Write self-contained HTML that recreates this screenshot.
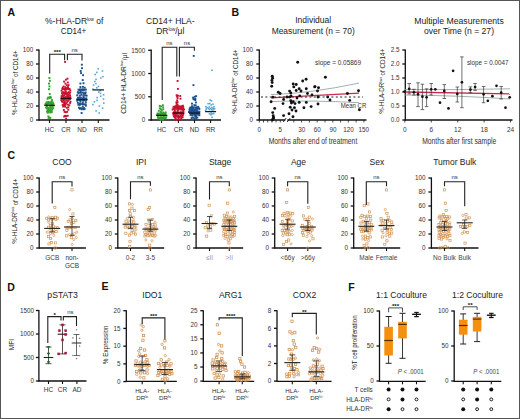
<!DOCTYPE html><html><head><meta charset="utf-8"><style>html,body{margin:0;padding:0;background:#fff;width:520px;height:419px;overflow:hidden}</style></head><body><svg width="520" height="419" viewBox="0 0 520 419" style="display:block">
<rect x="0" y="0" width="520" height="419" fill="#fff"/>
<g font-family='"Liberation Sans", sans-serif'>
<text x="7.50" y="15.80" font-size="10.5" text-anchor="start" fill="#111" font-weight="bold" >A</text>
<text x="231.50" y="16.10" font-size="10.5" text-anchor="start" fill="#111" font-weight="bold" >B</text>
<text x="7.50" y="158.50" font-size="10.5" text-anchor="start" fill="#111" font-weight="bold" >C</text>
<text x="7.20" y="290.60" font-size="10.5" text-anchor="start" fill="#111" font-weight="bold" >D</text>
<text x="101.50" y="290.20" font-size="10.5" text-anchor="start" fill="#111" font-weight="bold" >E</text>
<text x="348.20" y="290.80" font-size="10.5" text-anchor="start" fill="#111" font-weight="bold" >F</text>
<text x="74.20" y="24.10" font-size="8.5" text-anchor="middle" fill="#222" >%-HLA-DR<tspan font-size="4.5" dy="-3">low</tspan><tspan dy="3"> of</tspan></text>
<text x="73.60" y="33.60" font-size="8.5" text-anchor="middle" fill="#222" textLength="25.5" lengthAdjust="spacingAndGlyphs" >CD14+</text>
<text x="0" y="0" font-size="7.4" text-anchor="middle" fill="#222" transform="translate(14.60,82.70) rotate(-90)" textLength="64.5" lengthAdjust="spacingAndGlyphs" dominant-baseline="central">%-HLA-DR<tspan font-size="4.4" dy="-2.2">low</tspan><tspan dy="2.2"> of CD14+</tspan></text>
<line x1="39.00" y1="49.50" x2="39.00" y2="120.50" stroke="#111" stroke-width="1.3" />
<line x1="36.00" y1="120.00" x2="39.00" y2="120.00" stroke="#111" stroke-width="1.3" />
<text x="33.20" y="122.30" font-size="6.3" text-anchor="end" fill="#333" >0</text>
<line x1="36.00" y1="106.00" x2="39.00" y2="106.00" stroke="#111" stroke-width="1.3" />
<text x="33.20" y="108.30" font-size="6.3" text-anchor="end" fill="#333" >20</text>
<line x1="36.00" y1="92.00" x2="39.00" y2="92.00" stroke="#111" stroke-width="1.3" />
<text x="33.20" y="94.30" font-size="6.3" text-anchor="end" fill="#333" >40</text>
<line x1="36.00" y1="78.00" x2="39.00" y2="78.00" stroke="#111" stroke-width="1.3" />
<text x="33.20" y="80.30" font-size="6.3" text-anchor="end" fill="#333" >60</text>
<line x1="36.00" y1="64.00" x2="39.00" y2="64.00" stroke="#111" stroke-width="1.3" />
<text x="33.20" y="66.30" font-size="6.3" text-anchor="end" fill="#333" >80</text>
<line x1="36.00" y1="50.00" x2="39.00" y2="50.00" stroke="#111" stroke-width="1.3" />
<text x="33.20" y="52.30" font-size="6.3" text-anchor="end" fill="#333" >100</text>
<line x1="38.50" y1="120.00" x2="109.50" y2="120.00" stroke="#111" stroke-width="1.3" />
<line x1="49.50" y1="120.00" x2="49.50" y2="123.00" stroke="#111" stroke-width="1.1" />
<line x1="66.00" y1="120.00" x2="66.00" y2="123.00" stroke="#111" stroke-width="1.1" />
<line x1="82.00" y1="120.00" x2="82.00" y2="123.00" stroke="#111" stroke-width="1.1" />
<line x1="98.30" y1="120.00" x2="98.30" y2="123.00" stroke="#111" stroke-width="1.1" />
<text x="49.50" y="132.20" font-size="6.5" text-anchor="middle" fill="#333" >HC</text>
<text x="66.00" y="132.20" font-size="6.5" text-anchor="middle" fill="#333" >CR</text>
<text x="82.00" y="132.20" font-size="6.5" text-anchor="middle" fill="#333" >ND</text>
<text x="98.30" y="132.20" font-size="6.5" text-anchor="middle" fill="#333" >RR</text>
<rect x="48.45" y="77.05" width="1.90" height="1.90" fill="#33a02c"/>
<rect x="48.93" y="79.85" width="1.90" height="1.90" fill="#33a02c"/>
<rect x="48.03" y="82.65" width="1.90" height="1.90" fill="#33a02c"/>
<rect x="48.53" y="85.45" width="1.90" height="1.90" fill="#33a02c"/>
<rect x="48.00" y="88.25" width="1.90" height="1.90" fill="#33a02c"/>
<rect x="48.85" y="93.03" width="1.90" height="1.90" fill="#33a02c"/>
<rect x="49.26" y="95.91" width="1.90" height="1.90" fill="#33a02c"/>
<rect x="47.37" y="96.50" width="1.90" height="1.90" fill="#33a02c"/>
<rect x="50.02" y="96.67" width="1.90" height="1.90" fill="#33a02c"/>
<rect x="48.60" y="97.27" width="1.90" height="1.90" fill="#33a02c"/>
<rect x="46.56" y="97.79" width="1.90" height="1.90" fill="#33a02c"/>
<rect x="51.04" y="99.06" width="1.90" height="1.90" fill="#33a02c"/>
<rect x="50.46" y="100.63" width="1.90" height="1.90" fill="#33a02c"/>
<rect x="47.82" y="101.15" width="1.90" height="1.90" fill="#33a02c"/>
<rect x="45.84" y="101.40" width="1.90" height="1.90" fill="#33a02c"/>
<rect x="49.33" y="101.47" width="1.90" height="1.90" fill="#33a02c"/>
<rect x="51.92" y="101.51" width="1.90" height="1.90" fill="#33a02c"/>
<rect x="46.91" y="101.56" width="1.90" height="1.90" fill="#33a02c"/>
<rect x="50.87" y="101.57" width="1.90" height="1.90" fill="#33a02c"/>
<rect x="48.36" y="102.06" width="1.90" height="1.90" fill="#33a02c"/>
<rect x="50.09" y="102.08" width="1.90" height="1.90" fill="#33a02c"/>
<rect x="45.12" y="102.29" width="1.90" height="1.90" fill="#33a02c"/>
<rect x="46.26" y="102.29" width="1.90" height="1.90" fill="#33a02c"/>
<rect x="52.42" y="102.89" width="1.90" height="1.90" fill="#33a02c"/>
<rect x="47.40" y="102.91" width="1.90" height="1.90" fill="#33a02c"/>
<rect x="49.26" y="103.31" width="1.90" height="1.90" fill="#33a02c"/>
<rect x="51.02" y="103.31" width="1.90" height="1.90" fill="#33a02c"/>
<rect x="44.50" y="103.34" width="1.90" height="1.90" fill="#33a02c"/>
<rect x="46.05" y="103.75" width="1.90" height="1.90" fill="#33a02c"/>
<rect x="52.65" y="104.71" width="1.90" height="1.90" fill="#33a02c"/>
<rect x="45.97" y="105.37" width="1.90" height="1.90" fill="#33a02c"/>
<rect x="49.23" y="105.79" width="1.90" height="1.90" fill="#33a02c"/>
<rect x="51.21" y="105.79" width="1.90" height="1.90" fill="#33a02c"/>
<rect x="45.02" y="106.54" width="1.90" height="1.90" fill="#33a02c"/>
<rect x="47.08" y="106.63" width="1.90" height="1.90" fill="#33a02c"/>
<rect x="50.26" y="106.84" width="1.90" height="1.90" fill="#33a02c"/>
<rect x="52.25" y="107.26" width="1.90" height="1.90" fill="#33a02c"/>
<rect x="48.63" y="107.30" width="1.90" height="1.90" fill="#33a02c"/>
<rect x="46.01" y="107.46" width="1.90" height="1.90" fill="#33a02c"/>
<rect x="47.42" y="108.18" width="1.90" height="1.90" fill="#33a02c"/>
<rect x="51.31" y="108.33" width="1.90" height="1.90" fill="#33a02c"/>
<rect x="49.47" y="108.69" width="1.90" height="1.90" fill="#33a02c"/>
<rect x="46.69" y="109.39" width="1.90" height="1.90" fill="#33a02c"/>
<rect x="48.20" y="109.55" width="1.90" height="1.90" fill="#33a02c"/>
<rect x="50.83" y="109.68" width="1.90" height="1.90" fill="#33a02c"/>
<rect x="49.42" y="110.23" width="1.90" height="1.90" fill="#33a02c"/>
<rect x="46.09" y="110.71" width="1.90" height="1.90" fill="#33a02c"/>
<rect x="47.50" y="110.77" width="1.90" height="1.90" fill="#33a02c"/>
<rect x="50.73" y="111.28" width="1.90" height="1.90" fill="#33a02c"/>
<rect x="49.19" y="111.56" width="1.90" height="1.90" fill="#33a02c"/>
<rect x="46.87" y="111.75" width="1.90" height="1.90" fill="#33a02c"/>
<rect x="47.43" y="115.48" width="1.90" height="1.90" fill="#33a02c"/>
<rect x="48.39" y="116.71" width="1.90" height="1.90" fill="#33a02c"/>
<rect x="49.37" y="116.89" width="1.90" height="1.90" fill="#33a02c"/>
<rect x="47.72" y="117.26" width="1.90" height="1.90" fill="#33a02c"/>
<rect x="64.12" y="60.95" width="1.90" height="1.90" fill="#c8102e"/>
<rect x="66.59" y="77.69" width="1.90" height="1.90" fill="#c8102e"/>
<rect x="64.98" y="78.74" width="1.90" height="1.90" fill="#c8102e"/>
<rect x="63.12" y="80.63" width="1.90" height="1.90" fill="#c8102e"/>
<rect x="66.89" y="81.50" width="1.90" height="1.90" fill="#c8102e"/>
<rect x="64.51" y="82.66" width="1.90" height="1.90" fill="#c8102e"/>
<rect x="67.58" y="84.17" width="1.90" height="1.90" fill="#c8102e"/>
<rect x="65.83" y="84.19" width="1.90" height="1.90" fill="#c8102e"/>
<rect x="62.70" y="85.52" width="1.90" height="1.90" fill="#c8102e"/>
<rect x="67.09" y="86.13" width="1.90" height="1.90" fill="#c8102e"/>
<rect x="64.37" y="86.19" width="1.90" height="1.90" fill="#c8102e"/>
<rect x="61.77" y="86.67" width="1.90" height="1.90" fill="#c8102e"/>
<rect x="65.50" y="87.11" width="1.90" height="1.90" fill="#c8102e"/>
<rect x="67.11" y="87.66" width="1.90" height="1.90" fill="#c8102e"/>
<rect x="63.50" y="87.84" width="1.90" height="1.90" fill="#c8102e"/>
<rect x="68.65" y="87.93" width="1.90" height="1.90" fill="#c8102e"/>
<rect x="61.35" y="87.95" width="1.90" height="1.90" fill="#c8102e"/>
<rect x="64.59" y="88.00" width="1.90" height="1.90" fill="#c8102e"/>
<rect x="66.07" y="88.18" width="1.90" height="1.90" fill="#c8102e"/>
<rect x="62.45" y="88.19" width="1.90" height="1.90" fill="#c8102e"/>
<rect x="67.84" y="88.31" width="1.90" height="1.90" fill="#c8102e"/>
<rect x="63.91" y="88.93" width="1.90" height="1.90" fill="#c8102e"/>
<rect x="69.36" y="89.51" width="1.90" height="1.90" fill="#c8102e"/>
<rect x="60.68" y="89.84" width="1.90" height="1.90" fill="#c8102e"/>
<rect x="64.97" y="90.39" width="1.90" height="1.90" fill="#c8102e"/>
<rect x="67.78" y="91.13" width="1.90" height="1.90" fill="#c8102e"/>
<rect x="62.14" y="91.25" width="1.90" height="1.90" fill="#c8102e"/>
<rect x="63.64" y="91.37" width="1.90" height="1.90" fill="#c8102e"/>
<rect x="69.23" y="91.56" width="1.90" height="1.90" fill="#c8102e"/>
<rect x="65.04" y="92.06" width="1.90" height="1.90" fill="#c8102e"/>
<rect x="66.79" y="92.15" width="1.90" height="1.90" fill="#c8102e"/>
<rect x="60.96" y="92.25" width="1.90" height="1.90" fill="#c8102e"/>
<rect x="62.79" y="92.39" width="1.90" height="1.90" fill="#c8102e"/>
<rect x="68.40" y="92.82" width="1.90" height="1.90" fill="#c8102e"/>
<rect x="64.07" y="93.05" width="1.90" height="1.90" fill="#c8102e"/>
<rect x="65.61" y="93.25" width="1.90" height="1.90" fill="#c8102e"/>
<rect x="61.67" y="94.06" width="1.90" height="1.90" fill="#c8102e"/>
<rect x="67.14" y="94.09" width="1.90" height="1.90" fill="#c8102e"/>
<rect x="63.15" y="94.35" width="1.90" height="1.90" fill="#c8102e"/>
<rect x="69.09" y="94.42" width="1.90" height="1.90" fill="#c8102e"/>
<rect x="60.62" y="95.10" width="1.90" height="1.90" fill="#c8102e"/>
<rect x="66.13" y="95.13" width="1.90" height="1.90" fill="#c8102e"/>
<rect x="67.81" y="95.52" width="1.90" height="1.90" fill="#c8102e"/>
<rect x="62.14" y="95.56" width="1.90" height="1.90" fill="#c8102e"/>
<rect x="64.46" y="95.70" width="1.90" height="1.90" fill="#c8102e"/>
<rect x="69.29" y="96.19" width="1.90" height="1.90" fill="#c8102e"/>
<rect x="66.77" y="96.32" width="1.90" height="1.90" fill="#c8102e"/>
<rect x="60.63" y="96.82" width="1.90" height="1.90" fill="#c8102e"/>
<rect x="63.17" y="96.86" width="1.90" height="1.90" fill="#c8102e"/>
<rect x="64.66" y="97.24" width="1.90" height="1.90" fill="#c8102e"/>
<rect x="68.02" y="97.30" width="1.90" height="1.90" fill="#c8102e"/>
<rect x="66.41" y="97.78" width="1.90" height="1.90" fill="#c8102e"/>
<rect x="69.22" y="98.08" width="1.90" height="1.90" fill="#c8102e"/>
<rect x="61.39" y="98.09" width="1.90" height="1.90" fill="#c8102e"/>
<rect x="62.73" y="98.19" width="1.90" height="1.90" fill="#c8102e"/>
<rect x="64.02" y="98.52" width="1.90" height="1.90" fill="#c8102e"/>
<rect x="67.88" y="98.92" width="1.90" height="1.90" fill="#c8102e"/>
<rect x="60.36" y="99.08" width="1.90" height="1.90" fill="#c8102e"/>
<rect x="65.83" y="99.28" width="1.90" height="1.90" fill="#c8102e"/>
<rect x="62.25" y="99.30" width="1.90" height="1.90" fill="#c8102e"/>
<rect x="66.82" y="100.27" width="1.90" height="1.90" fill="#c8102e"/>
<rect x="63.84" y="100.28" width="1.90" height="1.90" fill="#c8102e"/>
<rect x="60.94" y="100.58" width="1.90" height="1.90" fill="#c8102e"/>
<rect x="69.53" y="100.66" width="1.90" height="1.90" fill="#c8102e"/>
<rect x="62.16" y="101.30" width="1.90" height="1.90" fill="#c8102e"/>
<rect x="65.85" y="101.43" width="1.90" height="1.90" fill="#c8102e"/>
<rect x="63.71" y="101.68" width="1.90" height="1.90" fill="#c8102e"/>
<rect x="69.17" y="102.01" width="1.90" height="1.90" fill="#c8102e"/>
<rect x="64.94" y="102.54" width="1.90" height="1.90" fill="#c8102e"/>
<rect x="63.19" y="103.04" width="1.90" height="1.90" fill="#c8102e"/>
<rect x="67.04" y="103.67" width="1.90" height="1.90" fill="#c8102e"/>
<rect x="64.52" y="103.92" width="1.90" height="1.90" fill="#c8102e"/>
<rect x="61.75" y="104.03" width="1.90" height="1.90" fill="#c8102e"/>
<rect x="68.35" y="104.38" width="1.90" height="1.90" fill="#c8102e"/>
<rect x="63.18" y="104.49" width="1.90" height="1.90" fill="#c8102e"/>
<rect x="62.16" y="105.57" width="1.90" height="1.90" fill="#c8102e"/>
<rect x="64.12" y="105.67" width="1.90" height="1.90" fill="#c8102e"/>
<rect x="67.38" y="106.34" width="1.90" height="1.90" fill="#c8102e"/>
<rect x="65.87" y="106.80" width="1.90" height="1.90" fill="#c8102e"/>
<rect x="67.39" y="108.74" width="1.90" height="1.90" fill="#c8102e"/>
<rect x="62.90" y="109.02" width="1.90" height="1.90" fill="#c8102e"/>
<rect x="63.61" y="110.89" width="1.90" height="1.90" fill="#c8102e"/>
<rect x="66.15" y="110.90" width="1.90" height="1.90" fill="#c8102e"/>
<rect x="64.83" y="111.28" width="1.90" height="1.90" fill="#c8102e"/>
<rect x="66.75" y="114.81" width="1.90" height="1.90" fill="#c8102e"/>
<rect x="64.04" y="114.90" width="1.90" height="1.90" fill="#c8102e"/>
<rect x="65.16" y="115.03" width="1.90" height="1.90" fill="#c8102e"/>
<rect x="63.18" y="115.60" width="1.90" height="1.90" fill="#c8102e"/>
<rect x="65.12" y="117.64" width="1.90" height="1.90" fill="#c8102e"/>
<rect x="80.90" y="63.75" width="1.90" height="1.90" fill="#1c4f8c"/>
<rect x="81.06" y="67.25" width="1.90" height="1.90" fill="#1c4f8c"/>
<rect x="79.76" y="70.05" width="1.90" height="1.90" fill="#1c4f8c"/>
<rect x="80.08" y="72.15" width="1.90" height="1.90" fill="#1c4f8c"/>
<rect x="82.12" y="74.25" width="1.90" height="1.90" fill="#1c4f8c"/>
<rect x="81.80" y="79.13" width="1.90" height="1.90" fill="#1c4f8c"/>
<rect x="82.56" y="82.24" width="1.90" height="1.90" fill="#1c4f8c"/>
<rect x="79.44" y="82.57" width="1.90" height="1.90" fill="#1c4f8c"/>
<rect x="81.99" y="85.85" width="1.90" height="1.90" fill="#1c4f8c"/>
<rect x="79.50" y="86.11" width="1.90" height="1.90" fill="#1c4f8c"/>
<rect x="83.74" y="86.76" width="1.90" height="1.90" fill="#1c4f8c"/>
<rect x="82.02" y="88.40" width="1.90" height="1.90" fill="#1c4f8c"/>
<rect x="78.98" y="88.48" width="1.90" height="1.90" fill="#1c4f8c"/>
<rect x="80.50" y="88.55" width="1.90" height="1.90" fill="#1c4f8c"/>
<rect x="84.92" y="88.64" width="1.90" height="1.90" fill="#1c4f8c"/>
<rect x="77.52" y="88.72" width="1.90" height="1.90" fill="#1c4f8c"/>
<rect x="83.38" y="88.90" width="1.90" height="1.90" fill="#1c4f8c"/>
<rect x="79.65" y="88.94" width="1.90" height="1.90" fill="#1c4f8c"/>
<rect x="81.38" y="88.96" width="1.90" height="1.90" fill="#1c4f8c"/>
<rect x="78.38" y="89.25" width="1.90" height="1.90" fill="#1c4f8c"/>
<rect x="82.49" y="89.30" width="1.90" height="1.90" fill="#1c4f8c"/>
<rect x="79.71" y="90.48" width="1.90" height="1.90" fill="#1c4f8c"/>
<rect x="76.88" y="91.22" width="1.90" height="1.90" fill="#1c4f8c"/>
<rect x="84.71" y="91.46" width="1.90" height="1.90" fill="#1c4f8c"/>
<rect x="81.85" y="91.57" width="1.90" height="1.90" fill="#1c4f8c"/>
<rect x="78.64" y="91.65" width="1.90" height="1.90" fill="#1c4f8c"/>
<rect x="80.12" y="91.83" width="1.90" height="1.90" fill="#1c4f8c"/>
<rect x="83.19" y="92.20" width="1.90" height="1.90" fill="#1c4f8c"/>
<rect x="77.52" y="92.40" width="1.90" height="1.90" fill="#1c4f8c"/>
<rect x="84.34" y="92.57" width="1.90" height="1.90" fill="#1c4f8c"/>
<rect x="80.47" y="93.84" width="1.90" height="1.90" fill="#1c4f8c"/>
<rect x="82.68" y="93.92" width="1.90" height="1.90" fill="#1c4f8c"/>
<rect x="76.24" y="94.33" width="1.90" height="1.90" fill="#1c4f8c"/>
<rect x="84.27" y="94.49" width="1.90" height="1.90" fill="#1c4f8c"/>
<rect x="78.94" y="94.67" width="1.90" height="1.90" fill="#1c4f8c"/>
<rect x="85.69" y="94.70" width="1.90" height="1.90" fill="#1c4f8c"/>
<rect x="82.48" y="95.50" width="1.90" height="1.90" fill="#1c4f8c"/>
<rect x="78.64" y="96.44" width="1.90" height="1.90" fill="#1c4f8c"/>
<rect x="76.92" y="96.76" width="1.90" height="1.90" fill="#1c4f8c"/>
<rect x="80.22" y="96.79" width="1.90" height="1.90" fill="#1c4f8c"/>
<rect x="82.99" y="96.84" width="1.90" height="1.90" fill="#1c4f8c"/>
<rect x="85.36" y="97.34" width="1.90" height="1.90" fill="#1c4f8c"/>
<rect x="81.68" y="97.59" width="1.90" height="1.90" fill="#1c4f8c"/>
<rect x="77.98" y="97.65" width="1.90" height="1.90" fill="#1c4f8c"/>
<rect x="83.86" y="98.01" width="1.90" height="1.90" fill="#1c4f8c"/>
<rect x="79.34" y="98.09" width="1.90" height="1.90" fill="#1c4f8c"/>
<rect x="76.51" y="98.16" width="1.90" height="1.90" fill="#1c4f8c"/>
<rect x="82.65" y="98.45" width="1.90" height="1.90" fill="#1c4f8c"/>
<rect x="80.68" y="98.66" width="1.90" height="1.90" fill="#1c4f8c"/>
<rect x="85.34" y="98.84" width="1.90" height="1.90" fill="#1c4f8c"/>
<rect x="78.22" y="98.91" width="1.90" height="1.90" fill="#1c4f8c"/>
<rect x="83.70" y="99.20" width="1.90" height="1.90" fill="#1c4f8c"/>
<rect x="79.52" y="99.26" width="1.90" height="1.90" fill="#1c4f8c"/>
<rect x="76.24" y="99.72" width="1.90" height="1.90" fill="#1c4f8c"/>
<rect x="82.17" y="99.79" width="1.90" height="1.90" fill="#1c4f8c"/>
<rect x="79.41" y="100.84" width="1.90" height="1.90" fill="#1c4f8c"/>
<rect x="84.84" y="101.17" width="1.90" height="1.90" fill="#1c4f8c"/>
<rect x="81.86" y="101.79" width="1.90" height="1.90" fill="#1c4f8c"/>
<rect x="76.89" y="101.83" width="1.90" height="1.90" fill="#1c4f8c"/>
<rect x="78.40" y="102.77" width="1.90" height="1.90" fill="#1c4f8c"/>
<rect x="80.01" y="103.08" width="1.90" height="1.90" fill="#1c4f8c"/>
<rect x="81.67" y="103.18" width="1.90" height="1.90" fill="#1c4f8c"/>
<rect x="84.69" y="103.30" width="1.90" height="1.90" fill="#1c4f8c"/>
<rect x="83.08" y="103.43" width="1.90" height="1.90" fill="#1c4f8c"/>
<rect x="77.36" y="103.76" width="1.90" height="1.90" fill="#1c4f8c"/>
<rect x="78.86" y="103.97" width="1.90" height="1.90" fill="#1c4f8c"/>
<rect x="84.90" y="104.77" width="1.90" height="1.90" fill="#1c4f8c"/>
<rect x="81.83" y="105.58" width="1.90" height="1.90" fill="#1c4f8c"/>
<rect x="78.02" y="106.72" width="1.90" height="1.90" fill="#1c4f8c"/>
<rect x="83.10" y="107.11" width="1.90" height="1.90" fill="#1c4f8c"/>
<rect x="80.00" y="107.15" width="1.90" height="1.90" fill="#1c4f8c"/>
<rect x="81.78" y="107.58" width="1.90" height="1.90" fill="#1c4f8c"/>
<rect x="78.82" y="107.81" width="1.90" height="1.90" fill="#1c4f8c"/>
<rect x="83.71" y="107.94" width="1.90" height="1.90" fill="#1c4f8c"/>
<rect x="80.69" y="108.34" width="1.90" height="1.90" fill="#1c4f8c"/>
<rect x="82.64" y="108.35" width="1.90" height="1.90" fill="#1c4f8c"/>
<rect x="80.65" y="112.04" width="1.90" height="1.90" fill="#1c4f8c"/>
<rect x="97.47" y="68.10" width="1.60" height="1.60" fill="#53a7dc"/>
<rect x="101.69" y="70.20" width="1.60" height="1.60" fill="#53a7dc"/>
<rect x="95.99" y="71.60" width="1.60" height="1.60" fill="#53a7dc"/>
<rect x="94.37" y="73.70" width="1.60" height="1.60" fill="#53a7dc"/>
<rect x="102.18" y="75.80" width="1.60" height="1.60" fill="#53a7dc"/>
<rect x="100.05" y="77.20" width="1.60" height="1.60" fill="#53a7dc"/>
<rect x="95.23" y="78.60" width="1.60" height="1.60" fill="#53a7dc"/>
<rect x="93.95" y="80.70" width="1.60" height="1.60" fill="#53a7dc"/>
<rect x="95.14" y="82.80" width="1.60" height="1.60" fill="#53a7dc"/>
<rect x="92.76" y="84.20" width="1.60" height="1.60" fill="#53a7dc"/>
<rect x="97.60" y="85.60" width="1.60" height="1.60" fill="#53a7dc"/>
<rect x="95.99" y="87.00" width="1.60" height="1.60" fill="#53a7dc"/>
<rect x="92.12" y="88.40" width="1.60" height="1.60" fill="#53a7dc"/>
<rect x="99.57" y="89.80" width="1.60" height="1.60" fill="#53a7dc"/>
<rect x="97.98" y="91.20" width="1.60" height="1.60" fill="#53a7dc"/>
<rect x="99.59" y="92.60" width="1.60" height="1.60" fill="#53a7dc"/>
<rect x="102.81" y="94.00" width="1.60" height="1.60" fill="#53a7dc"/>
<rect x="99.90" y="95.40" width="1.60" height="1.60" fill="#53a7dc"/>
<rect x="96.39" y="96.80" width="1.60" height="1.60" fill="#53a7dc"/>
<rect x="102.70" y="98.20" width="1.60" height="1.60" fill="#53a7dc"/>
<rect x="96.26" y="99.60" width="1.60" height="1.60" fill="#53a7dc"/>
<rect x="93.57" y="101.00" width="1.60" height="1.60" fill="#53a7dc"/>
<rect x="102.98" y="102.40" width="1.60" height="1.60" fill="#53a7dc"/>
<rect x="92.06" y="103.80" width="1.60" height="1.60" fill="#53a7dc"/>
<rect x="98.58" y="105.20" width="1.60" height="1.60" fill="#53a7dc"/>
<rect x="101.77" y="107.30" width="1.60" height="1.60" fill="#53a7dc"/>
<rect x="95.30" y="110.10" width="1.60" height="1.60" fill="#53a7dc"/>
<rect x="98.37" y="112.20" width="1.60" height="1.60" fill="#53a7dc"/>
<line x1="44.30" y1="105.30" x2="54.80" y2="105.30" stroke="#111" stroke-width="1.2" />
<line x1="60.50" y1="98.30" x2="71.50" y2="98.30" stroke="#111" stroke-width="1.2" />
<line x1="76.50" y1="99.70" x2="87.50" y2="99.70" stroke="#111" stroke-width="1.2" />
<line x1="92.50" y1="89.90" x2="104.00" y2="89.90" stroke="#111" stroke-width="1.2" />
<path d="M49.70,73.50 L49.70,54.30 L64.60,54.30 L64.60,60.20" stroke="#222" stroke-width="1.1" fill="none" />
<text x="57.30" y="54.30" font-size="6.2" text-anchor="middle" fill="#111" font-weight="bold" >***</text>
<path d="M67.40,60.20 L67.40,54.30 L82.00,54.30 L82.00,60.50" stroke="#222" stroke-width="1.1" fill="none" />
<text x="74.70" y="52.00" font-size="6" text-anchor="middle" fill="#333" >ns</text>
<text x="170.30" y="24.10" font-size="8.5" text-anchor="middle" fill="#222" >CD14+ HLA-</text>
<text x="170.30" y="33.60" font-size="8.5" text-anchor="middle" fill="#222" >DR<tspan font-size="4.5" dy="-3">low</tspan><tspan dy="3">/μl</tspan></text>
<text x="0" y="0" font-size="7.4" text-anchor="middle" fill="#222" transform="translate(123.60,83.40) rotate(-90)" textLength="60.7" lengthAdjust="spacingAndGlyphs" dominant-baseline="central">CD14+ HLA-DR<tspan font-size="4.4" dy="-2.2">low</tspan><tspan dy="2.2">/μl</tspan></text>
<line x1="151.20" y1="49.50" x2="151.20" y2="120.50" stroke="#111" stroke-width="1.3" />
<line x1="148.20" y1="120.00" x2="151.20" y2="120.00" stroke="#111" stroke-width="1.3" />
<text x="145.20" y="122.30" font-size="6.3" text-anchor="end" fill="#333" >0</text>
<line x1="148.20" y1="96.77" x2="151.20" y2="96.77" stroke="#111" stroke-width="1.3" />
<text x="145.20" y="99.07" font-size="6.3" text-anchor="end" fill="#333" >500</text>
<line x1="148.20" y1="73.53" x2="151.20" y2="73.53" stroke="#111" stroke-width="1.3" />
<text x="145.20" y="75.83" font-size="6.3" text-anchor="end" fill="#333" >1000</text>
<line x1="148.20" y1="50.30" x2="151.20" y2="50.30" stroke="#111" stroke-width="1.3" />
<text x="145.20" y="52.60" font-size="6.3" text-anchor="end" fill="#333" >1500</text>
<line x1="150.50" y1="120.00" x2="221.00" y2="120.00" stroke="#111" stroke-width="1.3" />
<line x1="161.60" y1="120.00" x2="161.60" y2="123.00" stroke="#111" stroke-width="1.1" />
<line x1="178.40" y1="120.00" x2="178.40" y2="123.00" stroke="#111" stroke-width="1.1" />
<line x1="194.50" y1="120.00" x2="194.50" y2="123.00" stroke="#111" stroke-width="1.1" />
<line x1="210.60" y1="120.00" x2="210.60" y2="123.00" stroke="#111" stroke-width="1.1" />
<text x="161.60" y="132.20" font-size="6.5" text-anchor="middle" fill="#333" >HC</text>
<text x="178.40" y="132.20" font-size="6.5" text-anchor="middle" fill="#333" >CR</text>
<text x="194.50" y="132.20" font-size="6.5" text-anchor="middle" fill="#333" >ND</text>
<text x="210.60" y="132.20" font-size="6.5" text-anchor="middle" fill="#333" >RR</text>
<rect x="161.93" y="104.30" width="1.90" height="1.90" fill="#33a02c"/>
<rect x="158.75" y="104.89" width="1.90" height="1.90" fill="#33a02c"/>
<rect x="160.13" y="105.47" width="1.90" height="1.90" fill="#33a02c"/>
<rect x="162.19" y="106.41" width="1.90" height="1.90" fill="#33a02c"/>
<rect x="158.81" y="107.32" width="1.90" height="1.90" fill="#33a02c"/>
<rect x="159.86" y="108.26" width="1.90" height="1.90" fill="#33a02c"/>
<rect x="162.33" y="108.43" width="1.90" height="1.90" fill="#33a02c"/>
<rect x="160.79" y="109.38" width="1.90" height="1.90" fill="#33a02c"/>
<rect x="157.85" y="109.88" width="1.90" height="1.90" fill="#33a02c"/>
<rect x="159.82" y="110.79" width="1.90" height="1.90" fill="#33a02c"/>
<rect x="164.71" y="111.45" width="1.90" height="1.90" fill="#33a02c"/>
<rect x="162.28" y="111.55" width="1.90" height="1.90" fill="#33a02c"/>
<rect x="160.47" y="111.72" width="1.90" height="1.90" fill="#33a02c"/>
<rect x="163.14" y="112.41" width="1.90" height="1.90" fill="#33a02c"/>
<rect x="157.72" y="112.48" width="1.90" height="1.90" fill="#33a02c"/>
<rect x="159.54" y="112.48" width="1.90" height="1.90" fill="#33a02c"/>
<rect x="156.53" y="112.62" width="1.90" height="1.90" fill="#33a02c"/>
<rect x="161.28" y="112.89" width="1.90" height="1.90" fill="#33a02c"/>
<rect x="164.44" y="112.96" width="1.90" height="1.90" fill="#33a02c"/>
<rect x="162.35" y="113.10" width="1.90" height="1.90" fill="#33a02c"/>
<rect x="158.52" y="113.44" width="1.90" height="1.90" fill="#33a02c"/>
<rect x="159.88" y="113.63" width="1.90" height="1.90" fill="#33a02c"/>
<rect x="156.24" y="114.06" width="1.90" height="1.90" fill="#33a02c"/>
<rect x="164.25" y="114.12" width="1.90" height="1.90" fill="#33a02c"/>
<rect x="161.01" y="114.16" width="1.90" height="1.90" fill="#33a02c"/>
<rect x="157.71" y="114.24" width="1.90" height="1.90" fill="#33a02c"/>
<rect x="162.72" y="114.32" width="1.90" height="1.90" fill="#33a02c"/>
<rect x="158.64" y="114.35" width="1.90" height="1.90" fill="#33a02c"/>
<rect x="165.45" y="114.60" width="1.90" height="1.90" fill="#33a02c"/>
<rect x="159.95" y="114.92" width="1.90" height="1.90" fill="#33a02c"/>
<rect x="162.44" y="115.45" width="1.90" height="1.90" fill="#33a02c"/>
<rect x="156.86" y="115.48" width="1.90" height="1.90" fill="#33a02c"/>
<rect x="163.76" y="116.32" width="1.90" height="1.90" fill="#33a02c"/>
<rect x="165.25" y="116.42" width="1.90" height="1.90" fill="#33a02c"/>
<rect x="160.88" y="116.57" width="1.90" height="1.90" fill="#33a02c"/>
<rect x="158.82" y="116.68" width="1.90" height="1.90" fill="#33a02c"/>
<rect x="157.10" y="116.84" width="1.90" height="1.90" fill="#33a02c"/>
<rect x="161.96" y="117.01" width="1.90" height="1.90" fill="#33a02c"/>
<rect x="163.05" y="117.09" width="1.90" height="1.90" fill="#33a02c"/>
<rect x="159.85" y="117.10" width="1.90" height="1.90" fill="#33a02c"/>
<rect x="164.59" y="117.20" width="1.90" height="1.90" fill="#33a02c"/>
<rect x="157.96" y="117.45" width="1.90" height="1.90" fill="#33a02c"/>
<rect x="160.90" y="117.66" width="1.90" height="1.90" fill="#33a02c"/>
<rect x="159.03" y="117.97" width="1.90" height="1.90" fill="#33a02c"/>
<rect x="161.98" y="118.53" width="1.90" height="1.90" fill="#33a02c"/>
<rect x="160.28" y="118.90" width="1.90" height="1.90" fill="#33a02c"/>
<rect x="176.64" y="80.02" width="1.90" height="1.90" fill="#c8102e"/>
<rect x="176.99" y="87.92" width="1.90" height="1.90" fill="#c8102e"/>
<rect x="175.70" y="94.23" width="1.90" height="1.90" fill="#c8102e"/>
<rect x="176.99" y="94.73" width="1.90" height="1.90" fill="#c8102e"/>
<rect x="179.28" y="95.04" width="1.90" height="1.90" fill="#c8102e"/>
<rect x="176.14" y="95.58" width="1.90" height="1.90" fill="#c8102e"/>
<rect x="176.65" y="97.17" width="1.90" height="1.90" fill="#c8102e"/>
<rect x="179.52" y="97.75" width="1.90" height="1.90" fill="#c8102e"/>
<rect x="176.19" y="99.40" width="1.90" height="1.90" fill="#c8102e"/>
<rect x="176.61" y="101.20" width="1.90" height="1.90" fill="#c8102e"/>
<rect x="175.44" y="101.42" width="1.90" height="1.90" fill="#c8102e"/>
<rect x="175.76" y="102.93" width="1.90" height="1.90" fill="#c8102e"/>
<rect x="176.60" y="103.83" width="1.90" height="1.90" fill="#c8102e"/>
<rect x="181.87" y="104.75" width="1.90" height="1.90" fill="#c8102e"/>
<rect x="175.23" y="104.80" width="1.90" height="1.90" fill="#c8102e"/>
<rect x="176.98" y="105.20" width="1.90" height="1.90" fill="#c8102e"/>
<rect x="180.60" y="105.31" width="1.90" height="1.90" fill="#c8102e"/>
<rect x="178.73" y="105.41" width="1.90" height="1.90" fill="#c8102e"/>
<rect x="174.13" y="105.53" width="1.90" height="1.90" fill="#c8102e"/>
<rect x="175.94" y="105.59" width="1.90" height="1.90" fill="#c8102e"/>
<rect x="177.76" y="105.79" width="1.90" height="1.90" fill="#c8102e"/>
<rect x="172.62" y="105.82" width="1.90" height="1.90" fill="#c8102e"/>
<rect x="182.27" y="105.84" width="1.90" height="1.90" fill="#c8102e"/>
<rect x="179.74" y="105.93" width="1.90" height="1.90" fill="#c8102e"/>
<rect x="175.04" y="106.14" width="1.90" height="1.90" fill="#c8102e"/>
<rect x="181.23" y="106.39" width="1.90" height="1.90" fill="#c8102e"/>
<rect x="176.86" y="106.47" width="1.90" height="1.90" fill="#c8102e"/>
<rect x="178.90" y="106.73" width="1.90" height="1.90" fill="#c8102e"/>
<rect x="173.97" y="106.97" width="1.90" height="1.90" fill="#c8102e"/>
<rect x="182.27" y="107.17" width="1.90" height="1.90" fill="#c8102e"/>
<rect x="180.46" y="107.31" width="1.90" height="1.90" fill="#c8102e"/>
<rect x="172.55" y="107.43" width="1.90" height="1.90" fill="#c8102e"/>
<rect x="177.58" y="107.44" width="1.90" height="1.90" fill="#c8102e"/>
<rect x="175.19" y="107.75" width="1.90" height="1.90" fill="#c8102e"/>
<rect x="176.36" y="107.85" width="1.90" height="1.90" fill="#c8102e"/>
<rect x="179.04" y="107.87" width="1.90" height="1.90" fill="#c8102e"/>
<rect x="181.22" y="108.16" width="1.90" height="1.90" fill="#c8102e"/>
<rect x="173.53" y="108.40" width="1.90" height="1.90" fill="#c8102e"/>
<rect x="183.03" y="108.53" width="1.90" height="1.90" fill="#c8102e"/>
<rect x="171.62" y="108.55" width="1.90" height="1.90" fill="#c8102e"/>
<rect x="177.69" y="108.68" width="1.90" height="1.90" fill="#c8102e"/>
<rect x="180.24" y="108.70" width="1.90" height="1.90" fill="#c8102e"/>
<rect x="182.19" y="109.42" width="1.90" height="1.90" fill="#c8102e"/>
<rect x="176.65" y="109.51" width="1.90" height="1.90" fill="#c8102e"/>
<rect x="173.88" y="109.68" width="1.90" height="1.90" fill="#c8102e"/>
<rect x="182.46" y="110.82" width="1.90" height="1.90" fill="#c8102e"/>
<rect x="176.80" y="111.15" width="1.90" height="1.90" fill="#c8102e"/>
<rect x="179.71" y="111.17" width="1.90" height="1.90" fill="#c8102e"/>
<rect x="174.74" y="111.17" width="1.90" height="1.90" fill="#c8102e"/>
<rect x="173.01" y="111.28" width="1.90" height="1.90" fill="#c8102e"/>
<rect x="181.14" y="111.39" width="1.90" height="1.90" fill="#c8102e"/>
<rect x="177.79" y="111.67" width="1.90" height="1.90" fill="#c8102e"/>
<rect x="173.91" y="111.88" width="1.90" height="1.90" fill="#c8102e"/>
<rect x="175.33" y="112.16" width="1.90" height="1.90" fill="#c8102e"/>
<rect x="172.21" y="112.22" width="1.90" height="1.90" fill="#c8102e"/>
<rect x="182.60" y="112.41" width="1.90" height="1.90" fill="#c8102e"/>
<rect x="179.51" y="112.42" width="1.90" height="1.90" fill="#c8102e"/>
<rect x="176.45" y="112.52" width="1.90" height="1.90" fill="#c8102e"/>
<rect x="181.04" y="112.55" width="1.90" height="1.90" fill="#c8102e"/>
<rect x="178.37" y="112.62" width="1.90" height="1.90" fill="#c8102e"/>
<rect x="173.32" y="112.82" width="1.90" height="1.90" fill="#c8102e"/>
<rect x="174.61" y="113.11" width="1.90" height="1.90" fill="#c8102e"/>
<rect x="172.56" y="113.77" width="1.90" height="1.90" fill="#c8102e"/>
<rect x="181.00" y="113.80" width="1.90" height="1.90" fill="#c8102e"/>
<rect x="182.12" y="113.81" width="1.90" height="1.90" fill="#c8102e"/>
<rect x="176.05" y="114.29" width="1.90" height="1.90" fill="#c8102e"/>
<rect x="179.73" y="114.37" width="1.90" height="1.90" fill="#c8102e"/>
<rect x="173.68" y="114.46" width="1.90" height="1.90" fill="#c8102e"/>
<rect x="174.86" y="114.50" width="1.90" height="1.90" fill="#c8102e"/>
<rect x="177.69" y="114.63" width="1.90" height="1.90" fill="#c8102e"/>
<rect x="181.44" y="114.81" width="1.90" height="1.90" fill="#c8102e"/>
<rect x="172.92" y="115.38" width="1.90" height="1.90" fill="#c8102e"/>
<rect x="179.04" y="115.83" width="1.90" height="1.90" fill="#c8102e"/>
<rect x="180.72" y="115.84" width="1.90" height="1.90" fill="#c8102e"/>
<rect x="174.92" y="115.89" width="1.90" height="1.90" fill="#c8102e"/>
<rect x="176.86" y="116.01" width="1.90" height="1.90" fill="#c8102e"/>
<rect x="173.79" y="116.07" width="1.90" height="1.90" fill="#c8102e"/>
<rect x="177.95" y="116.29" width="1.90" height="1.90" fill="#c8102e"/>
<rect x="181.69" y="116.37" width="1.90" height="1.90" fill="#c8102e"/>
<rect x="180.26" y="117.12" width="1.90" height="1.90" fill="#c8102e"/>
<rect x="174.39" y="117.76" width="1.90" height="1.90" fill="#c8102e"/>
<rect x="177.63" y="118.06" width="1.90" height="1.90" fill="#c8102e"/>
<rect x="175.67" y="118.38" width="1.90" height="1.90" fill="#c8102e"/>
<rect x="179.72" y="118.73" width="1.90" height="1.90" fill="#c8102e"/>
<rect x="178.46" y="118.76" width="1.90" height="1.90" fill="#c8102e"/>
<rect x="174.66" y="119.01" width="1.90" height="1.90" fill="#c8102e"/>
<rect x="192.79" y="54.93" width="1.90" height="1.90" fill="#1c4f8c"/>
<rect x="192.50" y="84.20" width="1.90" height="1.90" fill="#1c4f8c"/>
<rect x="195.23" y="95.22" width="1.90" height="1.90" fill="#1c4f8c"/>
<rect x="193.85" y="95.78" width="1.90" height="1.90" fill="#1c4f8c"/>
<rect x="192.21" y="96.64" width="1.90" height="1.90" fill="#1c4f8c"/>
<rect x="194.41" y="97.91" width="1.90" height="1.90" fill="#1c4f8c"/>
<rect x="192.46" y="97.95" width="1.90" height="1.90" fill="#1c4f8c"/>
<rect x="193.42" y="98.54" width="1.90" height="1.90" fill="#1c4f8c"/>
<rect x="194.36" y="99.19" width="1.90" height="1.90" fill="#1c4f8c"/>
<rect x="194.96" y="101.56" width="1.90" height="1.90" fill="#1c4f8c"/>
<rect x="191.01" y="102.69" width="1.90" height="1.90" fill="#1c4f8c"/>
<rect x="193.38" y="104.19" width="1.90" height="1.90" fill="#1c4f8c"/>
<rect x="194.78" y="104.41" width="1.90" height="1.90" fill="#1c4f8c"/>
<rect x="191.07" y="105.26" width="1.90" height="1.90" fill="#1c4f8c"/>
<rect x="197.28" y="105.86" width="1.90" height="1.90" fill="#1c4f8c"/>
<rect x="195.99" y="106.35" width="1.90" height="1.90" fill="#1c4f8c"/>
<rect x="191.27" y="106.35" width="1.90" height="1.90" fill="#1c4f8c"/>
<rect x="192.95" y="106.48" width="1.90" height="1.90" fill="#1c4f8c"/>
<rect x="189.50" y="106.51" width="1.90" height="1.90" fill="#1c4f8c"/>
<rect x="194.27" y="106.71" width="1.90" height="1.90" fill="#1c4f8c"/>
<rect x="197.74" y="107.04" width="1.90" height="1.90" fill="#1c4f8c"/>
<rect x="190.56" y="107.16" width="1.90" height="1.90" fill="#1c4f8c"/>
<rect x="191.99" y="107.17" width="1.90" height="1.90" fill="#1c4f8c"/>
<rect x="195.19" y="107.34" width="1.90" height="1.90" fill="#1c4f8c"/>
<rect x="188.84" y="107.57" width="1.90" height="1.90" fill="#1c4f8c"/>
<rect x="196.42" y="107.90" width="1.90" height="1.90" fill="#1c4f8c"/>
<rect x="198.40" y="108.07" width="1.90" height="1.90" fill="#1c4f8c"/>
<rect x="191.57" y="108.33" width="1.90" height="1.90" fill="#1c4f8c"/>
<rect x="188.61" y="108.82" width="1.90" height="1.90" fill="#1c4f8c"/>
<rect x="194.76" y="108.84" width="1.90" height="1.90" fill="#1c4f8c"/>
<rect x="193.12" y="108.87" width="1.90" height="1.90" fill="#1c4f8c"/>
<rect x="190.19" y="108.99" width="1.90" height="1.90" fill="#1c4f8c"/>
<rect x="192.02" y="109.38" width="1.90" height="1.90" fill="#1c4f8c"/>
<rect x="195.99" y="109.58" width="1.90" height="1.90" fill="#1c4f8c"/>
<rect x="193.89" y="109.86" width="1.90" height="1.90" fill="#1c4f8c"/>
<rect x="188.89" y="110.05" width="1.90" height="1.90" fill="#1c4f8c"/>
<rect x="190.62" y="110.12" width="1.90" height="1.90" fill="#1c4f8c"/>
<rect x="196.79" y="110.41" width="1.90" height="1.90" fill="#1c4f8c"/>
<rect x="192.05" y="110.66" width="1.90" height="1.90" fill="#1c4f8c"/>
<rect x="198.46" y="110.72" width="1.90" height="1.90" fill="#1c4f8c"/>
<rect x="194.91" y="110.90" width="1.90" height="1.90" fill="#1c4f8c"/>
<rect x="193.16" y="110.92" width="1.90" height="1.90" fill="#1c4f8c"/>
<rect x="189.69" y="110.97" width="1.90" height="1.90" fill="#1c4f8c"/>
<rect x="195.99" y="111.05" width="1.90" height="1.90" fill="#1c4f8c"/>
<rect x="188.02" y="111.08" width="1.90" height="1.90" fill="#1c4f8c"/>
<rect x="190.99" y="111.34" width="1.90" height="1.90" fill="#1c4f8c"/>
<rect x="197.72" y="111.61" width="1.90" height="1.90" fill="#1c4f8c"/>
<rect x="194.06" y="111.63" width="1.90" height="1.90" fill="#1c4f8c"/>
<rect x="188.93" y="111.87" width="1.90" height="1.90" fill="#1c4f8c"/>
<rect x="196.06" y="112.44" width="1.90" height="1.90" fill="#1c4f8c"/>
<rect x="190.41" y="112.47" width="1.90" height="1.90" fill="#1c4f8c"/>
<rect x="193.15" y="112.56" width="1.90" height="1.90" fill="#1c4f8c"/>
<rect x="198.36" y="112.60" width="1.90" height="1.90" fill="#1c4f8c"/>
<rect x="191.50" y="112.66" width="1.90" height="1.90" fill="#1c4f8c"/>
<rect x="194.90" y="113.31" width="1.90" height="1.90" fill="#1c4f8c"/>
<rect x="197.58" y="113.56" width="1.90" height="1.90" fill="#1c4f8c"/>
<rect x="193.25" y="113.69" width="1.90" height="1.90" fill="#1c4f8c"/>
<rect x="195.94" y="113.85" width="1.90" height="1.90" fill="#1c4f8c"/>
<rect x="191.66" y="113.96" width="1.90" height="1.90" fill="#1c4f8c"/>
<rect x="189.59" y="113.99" width="1.90" height="1.90" fill="#1c4f8c"/>
<rect x="194.40" y="114.23" width="1.90" height="1.90" fill="#1c4f8c"/>
<rect x="198.38" y="114.31" width="1.90" height="1.90" fill="#1c4f8c"/>
<rect x="190.67" y="114.39" width="1.90" height="1.90" fill="#1c4f8c"/>
<rect x="194.25" y="115.43" width="1.90" height="1.90" fill="#1c4f8c"/>
<rect x="195.22" y="116.00" width="1.90" height="1.90" fill="#1c4f8c"/>
<rect x="191.93" y="116.47" width="1.90" height="1.90" fill="#1c4f8c"/>
<rect x="196.41" y="116.62" width="1.90" height="1.90" fill="#1c4f8c"/>
<rect x="190.64" y="117.12" width="1.90" height="1.90" fill="#1c4f8c"/>
<rect x="193.19" y="117.33" width="1.90" height="1.90" fill="#1c4f8c"/>
<rect x="195.29" y="117.69" width="1.90" height="1.90" fill="#1c4f8c"/>
<rect x="194.34" y="118.40" width="1.90" height="1.90" fill="#1c4f8c"/>
<rect x="211.09" y="69.48" width="1.60" height="1.60" fill="#53a7dc"/>
<rect x="209.38" y="99.30" width="1.60" height="1.60" fill="#53a7dc"/>
<rect x="210.71" y="100.02" width="1.60" height="1.60" fill="#53a7dc"/>
<rect x="209.03" y="102.77" width="1.60" height="1.60" fill="#53a7dc"/>
<rect x="207.31" y="102.92" width="1.60" height="1.60" fill="#53a7dc"/>
<rect x="212.27" y="103.39" width="1.60" height="1.60" fill="#53a7dc"/>
<rect x="210.40" y="104.25" width="1.60" height="1.60" fill="#53a7dc"/>
<rect x="205.03" y="105.83" width="1.60" height="1.60" fill="#53a7dc"/>
<rect x="213.18" y="106.00" width="1.60" height="1.60" fill="#53a7dc"/>
<rect x="208.39" y="106.22" width="1.60" height="1.60" fill="#53a7dc"/>
<rect x="211.10" y="106.73" width="1.60" height="1.60" fill="#53a7dc"/>
<rect x="206.25" y="106.76" width="1.60" height="1.60" fill="#53a7dc"/>
<rect x="212.41" y="107.46" width="1.60" height="1.60" fill="#53a7dc"/>
<rect x="209.62" y="107.59" width="1.60" height="1.60" fill="#53a7dc"/>
<rect x="207.65" y="107.87" width="1.60" height="1.60" fill="#53a7dc"/>
<rect x="213.81" y="108.01" width="1.60" height="1.60" fill="#53a7dc"/>
<rect x="205.51" y="108.10" width="1.60" height="1.60" fill="#53a7dc"/>
<rect x="210.97" y="108.43" width="1.60" height="1.60" fill="#53a7dc"/>
<rect x="208.78" y="108.83" width="1.60" height="1.60" fill="#53a7dc"/>
<rect x="212.61" y="108.98" width="1.60" height="1.60" fill="#53a7dc"/>
<rect x="204.86" y="109.50" width="1.60" height="1.60" fill="#53a7dc"/>
<rect x="211.38" y="110.29" width="1.60" height="1.60" fill="#53a7dc"/>
<rect x="210.27" y="112.36" width="1.60" height="1.60" fill="#53a7dc"/>
<rect x="212.92" y="112.78" width="1.60" height="1.60" fill="#53a7dc"/>
<rect x="208.70" y="112.99" width="1.60" height="1.60" fill="#53a7dc"/>
<rect x="211.53" y="113.10" width="1.60" height="1.60" fill="#53a7dc"/>
<rect x="210.20" y="114.04" width="1.60" height="1.60" fill="#53a7dc"/>
<rect x="211.27" y="116.54" width="1.60" height="1.60" fill="#53a7dc"/>
<line x1="156.10" y1="115.35" x2="167.10" y2="115.35" stroke="#111" stroke-width="1.2" />
<line x1="172.90" y1="113.03" x2="183.90" y2="113.03" stroke="#111" stroke-width="1.2" />
<line x1="189.00" y1="113.03" x2="200.00" y2="113.03" stroke="#111" stroke-width="1.2" />
<line x1="205.10" y1="111.64" x2="216.10" y2="111.64" stroke="#111" stroke-width="1.2" />
<path d="M162.20,99.90 L162.20,47.20 L176.80,47.20 L176.80,76.60" stroke="#222" stroke-width="1.1" fill="none" />
<text x="169.30" y="44.50" font-size="6" text-anchor="middle" fill="#333" >ns</text>
<path d="M179.40,76.60 L179.40,47.20 L194.40,47.20 L194.40,50.80" stroke="#222" stroke-width="1.1" fill="none" />
<text x="187.00" y="44.50" font-size="6" text-anchor="middle" fill="#333" >ns</text>
<text x="313.20" y="23.20" font-size="8.5" text-anchor="middle" fill="#222" textLength="36" lengthAdjust="spacingAndGlyphs" >Individual</text>
<text x="313.20" y="34.20" font-size="8.5" text-anchor="middle" fill="#222" textLength="83" lengthAdjust="spacingAndGlyphs" >Measurement (n = 70)</text>
<text x="0" y="0" font-size="7.4" text-anchor="middle" fill="#222" transform="translate(234.50,81.60) rotate(-90)" textLength="64.2" lengthAdjust="spacingAndGlyphs" dominant-baseline="central">%-HLA-DR<tspan font-size="4.4" dy="-2.2">low</tspan><tspan dy="2.2"> of CD14+</tspan></text>
<line x1="259.30" y1="49.50" x2="259.30" y2="120.50" stroke="#111" stroke-width="1.3" />
<line x1="256.30" y1="120.00" x2="259.30" y2="120.00" stroke="#111" stroke-width="1.3" />
<text x="253.00" y="122.30" font-size="6.3" text-anchor="end" fill="#333" >0</text>
<line x1="256.30" y1="106.00" x2="259.30" y2="106.00" stroke="#111" stroke-width="1.3" />
<text x="253.00" y="108.30" font-size="6.3" text-anchor="end" fill="#333" >20</text>
<line x1="256.30" y1="92.00" x2="259.30" y2="92.00" stroke="#111" stroke-width="1.3" />
<text x="253.00" y="94.30" font-size="6.3" text-anchor="end" fill="#333" >40</text>
<line x1="256.30" y1="78.00" x2="259.30" y2="78.00" stroke="#111" stroke-width="1.3" />
<text x="253.00" y="80.30" font-size="6.3" text-anchor="end" fill="#333" >60</text>
<line x1="256.30" y1="64.00" x2="259.30" y2="64.00" stroke="#111" stroke-width="1.3" />
<text x="253.00" y="66.30" font-size="6.3" text-anchor="end" fill="#333" >80</text>
<line x1="256.30" y1="50.00" x2="259.30" y2="50.00" stroke="#111" stroke-width="1.3" />
<text x="253.00" y="52.30" font-size="6.3" text-anchor="end" fill="#333" >100</text>
<line x1="258.80" y1="120.00" x2="366.50" y2="120.00" stroke="#111" stroke-width="1.3" />
<line x1="259.30" y1="120.00" x2="259.30" y2="122.50" stroke="#222" stroke-width="0.8" />
<line x1="263.50" y1="120.00" x2="263.50" y2="122.50" stroke="#222" stroke-width="0.8" />
<line x1="267.70" y1="120.00" x2="267.70" y2="122.50" stroke="#222" stroke-width="0.8" />
<line x1="271.90" y1="120.00" x2="271.90" y2="122.50" stroke="#222" stroke-width="0.8" />
<line x1="276.10" y1="120.00" x2="276.10" y2="122.50" stroke="#222" stroke-width="0.8" />
<line x1="280.30" y1="120.00" x2="280.30" y2="122.50" stroke="#222" stroke-width="0.8" />
<line x1="293.80" y1="120.00" x2="293.80" y2="122.50" stroke="#222" stroke-width="0.8" />
<line x1="301.60" y1="120.00" x2="301.60" y2="122.50" stroke="#222" stroke-width="0.8" />
<line x1="309.40" y1="120.00" x2="309.40" y2="122.50" stroke="#222" stroke-width="0.8" />
<line x1="317.20" y1="120.00" x2="317.20" y2="122.50" stroke="#222" stroke-width="0.8" />
<line x1="325.00" y1="120.00" x2="325.00" y2="122.50" stroke="#222" stroke-width="0.8" />
<line x1="332.80" y1="120.00" x2="332.80" y2="122.50" stroke="#222" stroke-width="0.8" />
<line x1="340.60" y1="120.00" x2="340.60" y2="122.50" stroke="#222" stroke-width="0.8" />
<line x1="348.30" y1="120.00" x2="348.30" y2="122.50" stroke="#222" stroke-width="0.8" />
<line x1="356.10" y1="120.00" x2="356.10" y2="122.50" stroke="#222" stroke-width="0.8" />
<line x1="363.90" y1="120.00" x2="363.90" y2="122.50" stroke="#222" stroke-width="0.8" />
<rect x="285.4" y="118" width="1.9" height="4" fill="#fff"/>
<line x1="283.20" y1="122.00" x2="286.20" y2="118.00" stroke="#111" stroke-width="0.9" />
<line x1="287.20" y1="122.00" x2="290.20" y2="118.00" stroke="#111" stroke-width="0.9" />
<text x="259.30" y="131.80" font-size="6.3" text-anchor="middle" fill="#333" >0</text>
<text x="280.20" y="131.80" font-size="6.3" text-anchor="middle" fill="#333" >5</text>
<text x="301.80" y="131.80" font-size="6.3" text-anchor="middle" fill="#333" >30</text>
<text x="317.20" y="131.80" font-size="6.3" text-anchor="middle" fill="#333" >60</text>
<text x="333.00" y="131.80" font-size="6.3" text-anchor="middle" fill="#333" >90</text>
<text x="348.60" y="131.80" font-size="6.3" text-anchor="middle" fill="#333" >120</text>
<text x="363.80" y="131.80" font-size="6.3" text-anchor="middle" fill="#333" >150</text>
<text x="313.00" y="144.40" font-size="8.6" text-anchor="middle" fill="#333" textLength="88.5" lengthAdjust="spacingAndGlyphs" >Months after end of treatment</text>
<path d="M271,94.6 Q310,93.5 359,83.1" stroke="#8a9a9a" stroke-width="0.8" fill="none" />
<path d="M271,101.6 Q310,100 359,102.7" stroke="#8a9a9a" stroke-width="0.8" fill="none" />
<line x1="271.00" y1="97.90" x2="359.00" y2="93.20" stroke="#cc2a4a" stroke-width="1.3" />
<line x1="261.00" y1="97.00" x2="363.00" y2="97.00" stroke="#222" stroke-width="1.2" stroke-dasharray="2,2.4"/>
<circle cx="297.70" cy="62.30" r="1.45" fill="#111"/>
<circle cx="272.30" cy="76.20" r="1.45" fill="#111"/>
<circle cx="271.90" cy="80.40" r="1.45" fill="#111"/>
<circle cx="271.70" cy="86.30" r="1.45" fill="#111"/>
<circle cx="278.30" cy="92.30" r="1.45" fill="#111"/>
<circle cx="280.10" cy="93.50" r="1.45" fill="#111"/>
<circle cx="272.90" cy="97.10" r="1.45" fill="#111"/>
<circle cx="271.10" cy="101.80" r="1.45" fill="#111"/>
<circle cx="274.70" cy="108.40" r="1.45" fill="#111"/>
<circle cx="272.70" cy="112.60" r="1.45" fill="#111"/>
<circle cx="273.50" cy="117.40" r="1.45" fill="#111"/>
<circle cx="272.90" cy="119.20" r="1.45" fill="#111"/>
<circle cx="283.60" cy="99.50" r="1.45" fill="#111"/>
<circle cx="283.00" cy="103.60" r="1.45" fill="#111"/>
<circle cx="283.60" cy="115.60" r="1.45" fill="#111"/>
<circle cx="289.00" cy="113.80" r="1.45" fill="#111"/>
<circle cx="293.00" cy="116.80" r="1.45" fill="#111"/>
<circle cx="289.60" cy="91.10" r="1.45" fill="#111"/>
<circle cx="290.80" cy="92.90" r="1.45" fill="#111"/>
<circle cx="289.60" cy="97.10" r="1.45" fill="#111"/>
<circle cx="290.80" cy="100.70" r="1.45" fill="#111"/>
<circle cx="291.40" cy="103.00" r="1.45" fill="#111"/>
<circle cx="293.20" cy="84.00" r="1.45" fill="#111"/>
<circle cx="296.20" cy="84.50" r="1.45" fill="#111"/>
<circle cx="293.80" cy="86.90" r="1.45" fill="#111"/>
<circle cx="296.20" cy="90.50" r="1.45" fill="#111"/>
<circle cx="299.20" cy="88.70" r="1.45" fill="#111"/>
<circle cx="302.70" cy="81.00" r="1.45" fill="#111"/>
<circle cx="306.10" cy="79.20" r="1.45" fill="#111"/>
<circle cx="306.30" cy="88.70" r="1.45" fill="#111"/>
<circle cx="307.50" cy="93.50" r="1.45" fill="#111"/>
<circle cx="299.70" cy="95.90" r="1.45" fill="#111"/>
<circle cx="293.20" cy="101.80" r="1.45" fill="#111"/>
<circle cx="295.00" cy="103.60" r="1.45" fill="#111"/>
<circle cx="290.20" cy="107.20" r="1.45" fill="#111"/>
<circle cx="294.40" cy="107.80" r="1.45" fill="#111"/>
<circle cx="299.20" cy="102.40" r="1.45" fill="#111"/>
<circle cx="303.90" cy="107.80" r="1.45" fill="#111"/>
<circle cx="306.30" cy="102.40" r="1.45" fill="#111"/>
<circle cx="311.10" cy="106.60" r="1.45" fill="#111"/>
<circle cx="314.70" cy="86.90" r="1.45" fill="#111"/>
<circle cx="315.00" cy="86.60" r="1.45" fill="#111"/>
<circle cx="318.50" cy="87.70" r="1.45" fill="#111"/>
<circle cx="317.50" cy="91.00" r="1.45" fill="#111"/>
<circle cx="325.40" cy="77.30" r="1.45" fill="#111"/>
<circle cx="327.70" cy="97.00" r="1.45" fill="#111"/>
<circle cx="330.00" cy="100.00" r="1.45" fill="#111"/>
<circle cx="347.40" cy="93.50" r="1.45" fill="#111"/>
<circle cx="349.70" cy="100.40" r="1.45" fill="#111"/>
<circle cx="358.50" cy="90.70" r="1.45" fill="#111"/>
<circle cx="359.40" cy="109.70" r="1.45" fill="#111"/>
<circle cx="318.00" cy="97.00" r="1.45" fill="#111"/>
<circle cx="318.00" cy="104.00" r="1.45" fill="#111"/>
<circle cx="296.00" cy="111.00" r="1.45" fill="#111"/>
<circle cx="292.00" cy="110.00" r="1.45" fill="#111"/>
<circle cx="287.00" cy="97.00" r="1.45" fill="#111"/>
<circle cx="291.00" cy="96.00" r="1.45" fill="#111"/>
<circle cx="297.00" cy="98.00" r="1.45" fill="#111"/>
<circle cx="301.00" cy="91.00" r="1.45" fill="#111"/>
<circle cx="312.00" cy="95.00" r="1.45" fill="#111"/>
<circle cx="272.60" cy="78.30" r="1.45" fill="#111"/>
<circle cx="272.20" cy="82.60" r="1.45" fill="#111"/>
<circle cx="273.20" cy="115.80" r="1.45" fill="#111"/>
<circle cx="273.60" cy="118.00" r="1.45" fill="#111"/>
<circle cx="272.40" cy="120.00" r="1.45" fill="#111"/>
<text x="338.00" y="64.50" font-size="6.5" text-anchor="middle" fill="#333" textLength="46" lengthAdjust="spacingAndGlyphs" >slope = 0.05869</text>
<text x="353.50" y="107.80" font-size="6.3" text-anchor="middle" fill="#333" textLength="25.5" lengthAdjust="spacingAndGlyphs" >Mean CR</text>
<text x="459.00" y="23.60" font-size="8.5" text-anchor="middle" fill="#222" textLength="89.5" lengthAdjust="spacingAndGlyphs" >Multiple Measurements</text>
<text x="459.00" y="34.20" font-size="8.5" text-anchor="middle" fill="#222" textLength="70" lengthAdjust="spacingAndGlyphs" >over Time (n = 27)</text>
<text x="0" y="0" font-size="7.4" text-anchor="middle" fill="#222" transform="translate(381.70,81.30) rotate(-90)" textLength="64.8" lengthAdjust="spacingAndGlyphs" dominant-baseline="central">%-HLA-DR<tspan font-size="4.4" dy="-2.2">low</tspan><tspan dy="2.2"> of CD14+</tspan></text>
<line x1="405.30" y1="49.50" x2="405.30" y2="120.50" stroke="#111" stroke-width="1.3" />
<line x1="402.30" y1="120.00" x2="405.30" y2="120.00" stroke="#111" stroke-width="1.3" />
<text x="399.50" y="122.30" font-size="6.3" text-anchor="end" fill="#333" >0.0</text>
<line x1="402.30" y1="106.00" x2="405.30" y2="106.00" stroke="#111" stroke-width="1.3" />
<text x="399.50" y="108.30" font-size="6.3" text-anchor="end" fill="#333" >0.5</text>
<line x1="402.30" y1="92.00" x2="405.30" y2="92.00" stroke="#111" stroke-width="1.3" />
<text x="399.50" y="94.30" font-size="6.3" text-anchor="end" fill="#333" >1.0</text>
<line x1="402.30" y1="78.00" x2="405.30" y2="78.00" stroke="#111" stroke-width="1.3" />
<text x="399.50" y="80.30" font-size="6.3" text-anchor="end" fill="#333" >1.5</text>
<line x1="402.30" y1="64.00" x2="405.30" y2="64.00" stroke="#111" stroke-width="1.3" />
<text x="399.50" y="66.30" font-size="6.3" text-anchor="end" fill="#333" >2.0</text>
<line x1="402.30" y1="50.00" x2="405.30" y2="50.00" stroke="#111" stroke-width="1.3" />
<text x="399.50" y="52.30" font-size="6.3" text-anchor="end" fill="#333" >2.5</text>
<line x1="404.80" y1="120.00" x2="512.50" y2="120.00" stroke="#111" stroke-width="1.3" />
<line x1="404.80" y1="120.00" x2="404.80" y2="122.50" stroke="#222" stroke-width="0.8" />
<line x1="431.25" y1="120.00" x2="431.25" y2="122.50" stroke="#222" stroke-width="0.8" />
<line x1="457.70" y1="120.00" x2="457.70" y2="122.50" stroke="#222" stroke-width="0.8" />
<line x1="484.14" y1="120.00" x2="484.14" y2="122.50" stroke="#222" stroke-width="0.8" />
<line x1="510.59" y1="120.00" x2="510.59" y2="122.50" stroke="#222" stroke-width="0.8" />
<text x="404.80" y="131.50" font-size="6.5" text-anchor="middle" fill="#333" >0</text>
<text x="431.25" y="131.50" font-size="6.5" text-anchor="middle" fill="#333" >6</text>
<text x="457.70" y="131.50" font-size="6.5" text-anchor="middle" fill="#333" >12</text>
<text x="484.14" y="131.50" font-size="6.5" text-anchor="middle" fill="#333" >18</text>
<text x="510.59" y="131.50" font-size="6.5" text-anchor="middle" fill="#333" >24</text>
<text x="459.20" y="144.20" font-size="8.6" text-anchor="middle" fill="#333" textLength="74" lengthAdjust="spacingAndGlyphs" >Months after first sample</text>
<path d="M405,89.5 Q460,90 510,88.8" stroke="#8a9a9a" stroke-width="0.8" fill="none" />
<path d="M405,95 Q460,95.5 510,99" stroke="#8a9a9a" stroke-width="0.8" fill="none" />
<line x1="405.00" y1="92.00" x2="510.00" y2="93.90" stroke="#cc2a4a" stroke-width="1.4" />
<circle cx="404.60" cy="91.60" r="1.35" fill="#111"/>
<line x1="409.20" y1="83.50" x2="409.20" y2="93.90" stroke="#333" stroke-width="0.7" />
<line x1="407.40" y1="83.50" x2="411.00" y2="83.50" stroke="#333" stroke-width="0.7" />
<line x1="407.40" y1="93.90" x2="411.00" y2="93.90" stroke="#333" stroke-width="0.7" />
<circle cx="409.20" cy="88.80" r="1.35" fill="#111"/>
<line x1="413.90" y1="89.30" x2="413.90" y2="95.00" stroke="#333" stroke-width="0.7" />
<line x1="412.10" y1="89.30" x2="415.70" y2="89.30" stroke="#333" stroke-width="0.7" />
<line x1="412.10" y1="95.00" x2="415.70" y2="95.00" stroke="#333" stroke-width="0.7" />
<circle cx="413.90" cy="92.30" r="1.35" fill="#111"/>
<line x1="418.00" y1="82.80" x2="418.00" y2="106.60" stroke="#333" stroke-width="0.7" />
<line x1="416.20" y1="82.80" x2="419.80" y2="82.80" stroke="#333" stroke-width="0.7" />
<line x1="416.20" y1="106.60" x2="419.80" y2="106.60" stroke="#333" stroke-width="0.7" />
<circle cx="418.00" cy="94.30" r="1.35" fill="#111"/>
<line x1="422.40" y1="84.20" x2="422.40" y2="109.60" stroke="#333" stroke-width="0.7" />
<line x1="420.60" y1="84.20" x2="424.20" y2="84.20" stroke="#333" stroke-width="0.7" />
<line x1="420.60" y1="109.60" x2="424.20" y2="109.60" stroke="#333" stroke-width="0.7" />
<circle cx="422.40" cy="96.70" r="1.35" fill="#111"/>
<line x1="426.60" y1="88.80" x2="426.60" y2="106.60" stroke="#333" stroke-width="0.7" />
<line x1="424.80" y1="88.80" x2="428.40" y2="88.80" stroke="#333" stroke-width="0.7" />
<line x1="424.80" y1="106.60" x2="428.40" y2="106.60" stroke="#333" stroke-width="0.7" />
<circle cx="426.60" cy="97.30" r="1.35" fill="#111"/>
<line x1="431.20" y1="83.50" x2="431.20" y2="95.00" stroke="#333" stroke-width="0.7" />
<line x1="429.40" y1="83.50" x2="433.00" y2="83.50" stroke="#333" stroke-width="0.7" />
<line x1="429.40" y1="95.00" x2="433.00" y2="95.00" stroke="#333" stroke-width="0.7" />
<circle cx="431.20" cy="89.30" r="1.35" fill="#111"/>
<circle cx="435.30" cy="89.30" r="1.35" fill="#111"/>
<circle cx="440.00" cy="102.70" r="1.35" fill="#111"/>
<line x1="444.30" y1="84.60" x2="444.30" y2="98.50" stroke="#333" stroke-width="0.7" />
<line x1="442.50" y1="84.60" x2="446.10" y2="84.60" stroke="#333" stroke-width="0.7" />
<line x1="442.50" y1="98.50" x2="446.10" y2="98.50" stroke="#333" stroke-width="0.7" />
<circle cx="444.30" cy="90.90" r="1.35" fill="#111"/>
<circle cx="448.50" cy="108.40" r="1.35" fill="#111"/>
<circle cx="453.10" cy="70.80" r="1.35" fill="#111"/>
<line x1="457.30" y1="87.00" x2="457.30" y2="102.00" stroke="#333" stroke-width="0.7" />
<line x1="455.50" y1="87.00" x2="459.10" y2="87.00" stroke="#333" stroke-width="0.7" />
<line x1="455.50" y1="102.00" x2="459.10" y2="102.00" stroke="#333" stroke-width="0.7" />
<circle cx="457.30" cy="93.90" r="1.35" fill="#111"/>
<line x1="461.90" y1="56.90" x2="461.90" y2="107.70" stroke="#333" stroke-width="0.7" />
<line x1="460.10" y1="56.90" x2="463.70" y2="56.90" stroke="#333" stroke-width="0.7" />
<line x1="460.10" y1="107.70" x2="463.70" y2="107.70" stroke="#333" stroke-width="0.7" />
<circle cx="461.90" cy="82.30" r="1.35" fill="#111"/>
<line x1="470.40" y1="86.90" x2="470.40" y2="92.70" stroke="#333" stroke-width="0.7" />
<line x1="468.60" y1="86.90" x2="472.20" y2="86.90" stroke="#333" stroke-width="0.7" />
<line x1="468.60" y1="92.70" x2="472.20" y2="92.70" stroke="#333" stroke-width="0.7" />
<circle cx="470.40" cy="89.70" r="1.35" fill="#111"/>
<line x1="475.10" y1="83.50" x2="475.10" y2="90.40" stroke="#333" stroke-width="0.7" />
<line x1="473.30" y1="83.50" x2="476.90" y2="83.50" stroke="#333" stroke-width="0.7" />
<line x1="473.30" y1="90.40" x2="476.90" y2="90.40" stroke="#333" stroke-width="0.7" />
<circle cx="475.10" cy="87.00" r="1.35" fill="#111"/>
<line x1="483.60" y1="86.50" x2="483.60" y2="102.70" stroke="#333" stroke-width="0.7" />
<line x1="481.80" y1="86.50" x2="485.40" y2="86.50" stroke="#333" stroke-width="0.7" />
<line x1="481.80" y1="102.70" x2="485.40" y2="102.70" stroke="#333" stroke-width="0.7" />
<circle cx="483.60" cy="94.30" r="1.35" fill="#111"/>
<circle cx="487.80" cy="100.80" r="1.35" fill="#111"/>
<circle cx="492.40" cy="96.20" r="1.35" fill="#111"/>
<circle cx="496.50" cy="85.80" r="1.35" fill="#111"/>
<line x1="501.20" y1="86.50" x2="501.20" y2="99.00" stroke="#333" stroke-width="0.7" />
<line x1="499.40" y1="86.50" x2="503.00" y2="86.50" stroke="#333" stroke-width="0.7" />
<line x1="499.40" y1="99.00" x2="503.00" y2="99.00" stroke="#333" stroke-width="0.7" />
<circle cx="501.20" cy="92.70" r="1.35" fill="#111"/>
<circle cx="505.50" cy="107.70" r="1.35" fill="#111"/>
<circle cx="509.70" cy="97.30" r="1.35" fill="#111"/>
<text x="487.70" y="65.00" font-size="6.5" text-anchor="middle" fill="#333" textLength="41.5" lengthAdjust="spacingAndGlyphs" >slope = 0.0047</text>
<text x="62.00" y="165.20" font-size="8.5" text-anchor="middle" fill="#222" >COO</text>
<line x1="39.20" y1="177.50" x2="39.20" y2="248.50" stroke="#111" stroke-width="1.3" />
<line x1="36.20" y1="248.00" x2="39.20" y2="248.00" stroke="#111" stroke-width="1.3" />
<text x="33.40" y="250.30" font-size="6.3" text-anchor="end" fill="#333" >0</text>
<line x1="36.20" y1="234.00" x2="39.20" y2="234.00" stroke="#111" stroke-width="1.3" />
<text x="33.40" y="236.30" font-size="6.3" text-anchor="end" fill="#333" >20</text>
<line x1="36.20" y1="220.00" x2="39.20" y2="220.00" stroke="#111" stroke-width="1.3" />
<text x="33.40" y="222.30" font-size="6.3" text-anchor="end" fill="#333" >40</text>
<line x1="36.20" y1="206.00" x2="39.20" y2="206.00" stroke="#111" stroke-width="1.3" />
<text x="33.40" y="208.30" font-size="6.3" text-anchor="end" fill="#333" >60</text>
<line x1="36.20" y1="192.00" x2="39.20" y2="192.00" stroke="#111" stroke-width="1.3" />
<text x="33.40" y="194.30" font-size="6.3" text-anchor="end" fill="#333" >80</text>
<line x1="36.20" y1="178.00" x2="39.20" y2="178.00" stroke="#111" stroke-width="1.3" />
<text x="33.40" y="180.30" font-size="6.3" text-anchor="end" fill="#333" >100</text>
<line x1="38.70" y1="248.00" x2="85.90" y2="248.00" stroke="#111" stroke-width="1.3" />
<line x1="52.20" y1="248.00" x2="52.20" y2="251.00" stroke="#111" stroke-width="1.1" />
<line x1="72.00" y1="248.00" x2="72.00" y2="251.00" stroke="#111" stroke-width="1.1" />
<text x="52.20" y="259.80" font-size="6.5" text-anchor="middle" fill="#444" >GCB</text>
<text x="72.00" y="259.80" font-size="6.5" text-anchor="middle" fill="#333" >non-</text>
<text x="72.00" y="267.50" font-size="6.5" text-anchor="middle" fill="#333" >GCB</text>
<rect x="53.74" y="206.30" width="2.20" height="2.20" fill="none" stroke="#d09050" stroke-width="0.65"/>
<circle cx="48.74" cy="216.95" r="1.10" fill="none" stroke="#d09050" stroke-width="0.65"/>
<rect x="54.56" y="216.18" width="2.20" height="2.20" fill="none" stroke="#d09050" stroke-width="0.65"/>
<rect x="51.10" y="216.46" width="2.20" height="2.20" fill="none" stroke="#d09050" stroke-width="0.65"/>
<rect x="56.28" y="217.04" width="2.20" height="2.20" fill="none" stroke="#d09050" stroke-width="0.65"/>
<rect x="45.71" y="217.37" width="2.20" height="2.20" fill="none" stroke="#d09050" stroke-width="0.65"/>
<circle cx="50.26" cy="218.61" r="1.10" fill="none" stroke="#d09050" stroke-width="0.65"/>
<circle cx="53.98" cy="218.89" r="1.10" fill="none" stroke="#d09050" stroke-width="0.65"/>
<rect x="54.78" y="218.34" width="2.20" height="2.20" fill="none" stroke="#d09050" stroke-width="0.65"/>
<circle cx="52.07" cy="219.60" r="1.10" fill="none" stroke="#d09050" stroke-width="0.65"/>
<rect x="47.31" y="218.88" width="2.20" height="2.20" fill="none" stroke="#d09050" stroke-width="0.65"/>
<circle cx="48.86" cy="222.37" r="1.10" fill="none" stroke="#d09050" stroke-width="0.65"/>
<rect x="51.31" y="222.48" width="2.20" height="2.20" fill="none" stroke="#d09050" stroke-width="0.65"/>
<rect x="49.31" y="224.50" width="2.20" height="2.20" fill="none" stroke="#d09050" stroke-width="0.65"/>
<rect x="52.07" y="225.12" width="2.20" height="2.20" fill="none" stroke="#d09050" stroke-width="0.65"/>
<rect x="47.64" y="226.22" width="2.20" height="2.20" fill="none" stroke="#d09050" stroke-width="0.65"/>
<circle cx="55.29" cy="227.46" r="1.10" fill="none" stroke="#d09050" stroke-width="0.65"/>
<circle cx="51.12" cy="227.86" r="1.10" fill="none" stroke="#d09050" stroke-width="0.65"/>
<rect x="56.32" y="226.76" width="2.20" height="2.20" fill="none" stroke="#d09050" stroke-width="0.65"/>
<rect x="52.32" y="228.39" width="2.20" height="2.20" fill="none" stroke="#d09050" stroke-width="0.65"/>
<circle cx="49.93" cy="230.57" r="1.10" fill="none" stroke="#d09050" stroke-width="0.65"/>
<rect x="55.01" y="230.48" width="2.20" height="2.20" fill="none" stroke="#d09050" stroke-width="0.65"/>
<rect x="52.05" y="231.10" width="2.20" height="2.20" fill="none" stroke="#d09050" stroke-width="0.65"/>
<circle cx="47.10" cy="232.24" r="1.10" fill="none" stroke="#d09050" stroke-width="0.65"/>
<rect x="49.18" y="232.22" width="2.20" height="2.20" fill="none" stroke="#d09050" stroke-width="0.65"/>
<circle cx="53.79" cy="235.37" r="1.10" fill="none" stroke="#d09050" stroke-width="0.65"/>
<rect x="47.55" y="235.57" width="2.20" height="2.20" fill="none" stroke="#d09050" stroke-width="0.65"/>
<rect x="49.53" y="237.33" width="2.20" height="2.20" fill="none" stroke="#d09050" stroke-width="0.65"/>
<rect x="50.41" y="241.52" width="2.20" height="2.20" fill="none" stroke="#d09050" stroke-width="0.65"/>
<rect x="54.44" y="241.75" width="2.20" height="2.20" fill="none" stroke="#d09050" stroke-width="0.65"/>
<rect x="47.91" y="242.77" width="2.20" height="2.20" fill="none" stroke="#d09050" stroke-width="0.65"/>
<rect x="54.07" y="246.90" width="2.20" height="2.20" fill="none" stroke="#d09050" stroke-width="0.65"/>
<line x1="44.20" y1="228.40" x2="60.20" y2="228.40" stroke="#222" stroke-width="1.1" />
<line x1="52.20" y1="218.60" x2="52.20" y2="231.90" stroke="#222" stroke-width="0.77" />
<line x1="49.70" y1="218.60" x2="54.70" y2="218.60" stroke="#222" stroke-width="0.77" />
<line x1="49.70" y1="231.90" x2="54.70" y2="231.90" stroke="#222" stroke-width="0.77" />
<circle cx="69.65" cy="209.50" r="1.10" fill="none" stroke="#d09050" stroke-width="0.65"/>
<rect x="71.85" y="212.86" width="2.20" height="2.20" fill="none" stroke="#d09050" stroke-width="0.65"/>
<circle cx="72.34" cy="218.61" r="1.10" fill="none" stroke="#d09050" stroke-width="0.65"/>
<rect x="69.00" y="218.79" width="2.20" height="2.20" fill="none" stroke="#d09050" stroke-width="0.65"/>
<rect x="74.70" y="219.49" width="2.20" height="2.20" fill="none" stroke="#d09050" stroke-width="0.65"/>
<rect x="67.18" y="220.39" width="2.20" height="2.20" fill="none" stroke="#d09050" stroke-width="0.65"/>
<rect x="72.69" y="221.21" width="2.20" height="2.20" fill="none" stroke="#d09050" stroke-width="0.65"/>
<rect x="70.34" y="222.16" width="2.20" height="2.20" fill="none" stroke="#d09050" stroke-width="0.65"/>
<rect x="69.91" y="226.27" width="2.20" height="2.20" fill="none" stroke="#d09050" stroke-width="0.65"/>
<rect x="73.94" y="226.53" width="2.20" height="2.20" fill="none" stroke="#d09050" stroke-width="0.65"/>
<rect x="65.95" y="226.61" width="2.20" height="2.20" fill="none" stroke="#d09050" stroke-width="0.65"/>
<rect x="67.96" y="226.71" width="2.20" height="2.20" fill="none" stroke="#d09050" stroke-width="0.65"/>
<rect x="65.77" y="229.16" width="2.20" height="2.20" fill="none" stroke="#d09050" stroke-width="0.65"/>
<circle cx="76.77" cy="232.16" r="1.10" fill="none" stroke="#d09050" stroke-width="0.65"/>
<circle cx="74.51" cy="233.58" r="1.10" fill="none" stroke="#d09050" stroke-width="0.65"/>
<circle cx="69.44" cy="234.51" r="1.10" fill="none" stroke="#d09050" stroke-width="0.65"/>
<circle cx="72.23" cy="234.74" r="1.10" fill="none" stroke="#d09050" stroke-width="0.65"/>
<rect x="65.57" y="234.70" width="2.20" height="2.20" fill="none" stroke="#d09050" stroke-width="0.65"/>
<circle cx="76.29" cy="237.47" r="1.10" fill="none" stroke="#d09050" stroke-width="0.65"/>
<rect x="70.24" y="236.49" width="2.20" height="2.20" fill="none" stroke="#d09050" stroke-width="0.65"/>
<circle cx="73.77" cy="239.53" r="1.10" fill="none" stroke="#d09050" stroke-width="0.65"/>
<circle cx="72.20" cy="244.50" r="1.10" fill="none" stroke="#d09050" stroke-width="0.65"/>
<line x1="64.00" y1="227.00" x2="80.00" y2="227.00" stroke="#222" stroke-width="1.1" />
<line x1="72.00" y1="216.50" x2="72.00" y2="235.40" stroke="#222" stroke-width="0.77" />
<line x1="69.50" y1="216.50" x2="74.50" y2="216.50" stroke="#222" stroke-width="0.77" />
<line x1="69.50" y1="235.40" x2="74.50" y2="235.40" stroke="#222" stroke-width="0.77" />
<rect x="70.90" y="188.80" width="2.2" height="2.2" fill="none" stroke="#d09050" stroke-width="0.65"/>
<path d="M52.20,203.50 L52.20,181.80 L72.00,181.80 L72.00,186.50" stroke="#222" stroke-width="1.1" fill="none" />
<text x="62.10" y="179.30" font-size="6" text-anchor="middle" fill="#333" >ns</text>
<text x="141.20" y="165.20" font-size="8.5" text-anchor="middle" fill="#222" >IPI</text>
<line x1="117.80" y1="177.50" x2="117.80" y2="248.50" stroke="#111" stroke-width="1.3" />
<line x1="114.80" y1="248.00" x2="117.80" y2="248.00" stroke="#111" stroke-width="1.3" />
<text x="112.00" y="250.30" font-size="6.3" text-anchor="end" fill="#333" >0</text>
<line x1="114.80" y1="234.00" x2="117.80" y2="234.00" stroke="#111" stroke-width="1.3" />
<text x="112.00" y="236.30" font-size="6.3" text-anchor="end" fill="#333" >20</text>
<line x1="114.80" y1="220.00" x2="117.80" y2="220.00" stroke="#111" stroke-width="1.3" />
<text x="112.00" y="222.30" font-size="6.3" text-anchor="end" fill="#333" >40</text>
<line x1="114.80" y1="206.00" x2="117.80" y2="206.00" stroke="#111" stroke-width="1.3" />
<text x="112.00" y="208.30" font-size="6.3" text-anchor="end" fill="#333" >60</text>
<line x1="114.80" y1="192.00" x2="117.80" y2="192.00" stroke="#111" stroke-width="1.3" />
<text x="112.00" y="194.30" font-size="6.3" text-anchor="end" fill="#333" >80</text>
<line x1="114.80" y1="178.00" x2="117.80" y2="178.00" stroke="#111" stroke-width="1.3" />
<text x="112.00" y="180.30" font-size="6.3" text-anchor="end" fill="#333" >100</text>
<line x1="117.30" y1="248.00" x2="164.20" y2="248.00" stroke="#111" stroke-width="1.3" />
<line x1="130.50" y1="248.00" x2="130.50" y2="251.00" stroke="#111" stroke-width="1.1" />
<line x1="150.40" y1="248.00" x2="150.40" y2="251.00" stroke="#111" stroke-width="1.1" />
<text x="130.50" y="259.80" font-size="6.5" text-anchor="middle" fill="#444" >0-2</text>
<text x="150.40" y="259.80" font-size="6.5" text-anchor="middle" fill="#444" >3-5</text>
<rect x="128.30" y="202.80" width="2.20" height="2.20" fill="none" stroke="#d09050" stroke-width="0.65"/>
<circle cx="132.43" cy="204.35" r="1.10" fill="none" stroke="#d09050" stroke-width="0.65"/>
<rect x="130.89" y="207.05" width="2.20" height="2.20" fill="none" stroke="#d09050" stroke-width="0.65"/>
<rect x="128.52" y="209.24" width="2.20" height="2.20" fill="none" stroke="#d09050" stroke-width="0.65"/>
<rect x="133.33" y="209.48" width="2.20" height="2.20" fill="none" stroke="#d09050" stroke-width="0.65"/>
<rect x="129.10" y="212.70" width="2.20" height="2.20" fill="none" stroke="#d09050" stroke-width="0.65"/>
<rect x="129.47" y="215.38" width="2.20" height="2.20" fill="none" stroke="#d09050" stroke-width="0.65"/>
<circle cx="133.66" cy="217.29" r="1.10" fill="none" stroke="#d09050" stroke-width="0.65"/>
<circle cx="127.18" cy="218.40" r="1.10" fill="none" stroke="#d09050" stroke-width="0.65"/>
<circle cx="132.95" cy="219.69" r="1.10" fill="none" stroke="#d09050" stroke-width="0.65"/>
<circle cx="128.89" cy="221.10" r="1.10" fill="none" stroke="#d09050" stroke-width="0.65"/>
<rect x="124.94" y="220.08" width="2.20" height="2.20" fill="none" stroke="#d09050" stroke-width="0.65"/>
<circle cx="131.37" cy="221.86" r="1.10" fill="none" stroke="#d09050" stroke-width="0.65"/>
<rect x="132.69" y="221.02" width="2.20" height="2.20" fill="none" stroke="#d09050" stroke-width="0.65"/>
<circle cx="127.79" cy="223.25" r="1.10" fill="none" stroke="#d09050" stroke-width="0.65"/>
<circle cx="134.14" cy="224.72" r="1.10" fill="none" stroke="#d09050" stroke-width="0.65"/>
<circle cx="131.07" cy="224.81" r="1.10" fill="none" stroke="#d09050" stroke-width="0.65"/>
<circle cx="125.18" cy="224.88" r="1.10" fill="none" stroke="#d09050" stroke-width="0.65"/>
<circle cx="127.19" cy="226.44" r="1.10" fill="none" stroke="#d09050" stroke-width="0.65"/>
<rect x="131.57" y="225.39" width="2.20" height="2.20" fill="none" stroke="#d09050" stroke-width="0.65"/>
<circle cx="135.95" cy="226.90" r="1.10" fill="none" stroke="#d09050" stroke-width="0.65"/>
<rect x="128.43" y="225.96" width="2.20" height="2.20" fill="none" stroke="#d09050" stroke-width="0.65"/>
<rect x="124.05" y="226.04" width="2.20" height="2.20" fill="none" stroke="#d09050" stroke-width="0.65"/>
<rect x="133.06" y="226.67" width="2.20" height="2.20" fill="none" stroke="#d09050" stroke-width="0.65"/>
<circle cx="131.17" cy="227.79" r="1.10" fill="none" stroke="#d09050" stroke-width="0.65"/>
<circle cx="128.06" cy="227.92" r="1.10" fill="none" stroke="#d09050" stroke-width="0.65"/>
<circle cx="135.97" cy="229.73" r="1.10" fill="none" stroke="#d09050" stroke-width="0.65"/>
<rect x="131.02" y="229.10" width="2.20" height="2.20" fill="none" stroke="#d09050" stroke-width="0.65"/>
<rect x="132.81" y="231.04" width="2.20" height="2.20" fill="none" stroke="#d09050" stroke-width="0.65"/>
<rect x="130.04" y="232.01" width="2.20" height="2.20" fill="none" stroke="#d09050" stroke-width="0.65"/>
<rect x="124.77" y="232.13" width="2.20" height="2.20" fill="none" stroke="#d09050" stroke-width="0.65"/>
<rect x="134.46" y="232.99" width="2.20" height="2.20" fill="none" stroke="#d09050" stroke-width="0.65"/>
<rect x="128.26" y="234.05" width="2.20" height="2.20" fill="none" stroke="#d09050" stroke-width="0.65"/>
<rect x="128.94" y="240.25" width="2.20" height="2.20" fill="none" stroke="#d09050" stroke-width="0.65"/>
<rect x="128.64" y="245.50" width="2.20" height="2.20" fill="none" stroke="#d09050" stroke-width="0.65"/>
<line x1="122.50" y1="224.20" x2="138.50" y2="224.20" stroke="#222" stroke-width="1.1" />
<line x1="130.50" y1="217.20" x2="130.50" y2="228.40" stroke="#222" stroke-width="0.77" />
<line x1="128.00" y1="217.20" x2="133.00" y2="217.20" stroke="#222" stroke-width="0.77" />
<line x1="128.00" y1="228.40" x2="133.00" y2="228.40" stroke="#222" stroke-width="0.77" />
<rect x="148.57" y="206.30" width="2.20" height="2.20" fill="none" stroke="#d09050" stroke-width="0.65"/>
<rect x="147.08" y="208.25" width="2.20" height="2.20" fill="none" stroke="#d09050" stroke-width="0.65"/>
<rect x="151.03" y="218.30" width="2.20" height="2.20" fill="none" stroke="#d09050" stroke-width="0.65"/>
<rect x="147.67" y="218.93" width="2.20" height="2.20" fill="none" stroke="#d09050" stroke-width="0.65"/>
<circle cx="155.11" cy="222.21" r="1.10" fill="none" stroke="#d09050" stroke-width="0.65"/>
<circle cx="148.98" cy="223.41" r="1.10" fill="none" stroke="#d09050" stroke-width="0.65"/>
<rect x="144.92" y="223.31" width="2.20" height="2.20" fill="none" stroke="#d09050" stroke-width="0.65"/>
<rect x="151.57" y="223.50" width="2.20" height="2.20" fill="none" stroke="#d09050" stroke-width="0.65"/>
<rect x="154.04" y="223.88" width="2.20" height="2.20" fill="none" stroke="#d09050" stroke-width="0.65"/>
<rect x="149.22" y="224.45" width="2.20" height="2.20" fill="none" stroke="#d09050" stroke-width="0.65"/>
<circle cx="153.62" cy="227.07" r="1.10" fill="none" stroke="#d09050" stroke-width="0.65"/>
<circle cx="146.81" cy="228.01" r="1.10" fill="none" stroke="#d09050" stroke-width="0.65"/>
<rect x="148.78" y="227.01" width="2.20" height="2.20" fill="none" stroke="#d09050" stroke-width="0.65"/>
<rect x="154.76" y="227.06" width="2.20" height="2.20" fill="none" stroke="#d09050" stroke-width="0.65"/>
<rect x="151.12" y="227.26" width="2.20" height="2.20" fill="none" stroke="#d09050" stroke-width="0.65"/>
<circle cx="145.05" cy="228.47" r="1.10" fill="none" stroke="#d09050" stroke-width="0.65"/>
<rect x="153.05" y="227.94" width="2.20" height="2.20" fill="none" stroke="#d09050" stroke-width="0.65"/>
<rect x="147.17" y="228.17" width="2.20" height="2.20" fill="none" stroke="#d09050" stroke-width="0.65"/>
<rect x="149.65" y="229.00" width="2.20" height="2.20" fill="none" stroke="#d09050" stroke-width="0.65"/>
<circle cx="146.26" cy="230.16" r="1.10" fill="none" stroke="#d09050" stroke-width="0.65"/>
<circle cx="155.71" cy="230.43" r="1.10" fill="none" stroke="#d09050" stroke-width="0.65"/>
<circle cx="152.77" cy="230.63" r="1.10" fill="none" stroke="#d09050" stroke-width="0.65"/>
<rect x="147.12" y="231.01" width="2.20" height="2.20" fill="none" stroke="#d09050" stroke-width="0.65"/>
<rect x="143.81" y="231.07" width="2.20" height="2.20" fill="none" stroke="#d09050" stroke-width="0.65"/>
<circle cx="151.90" cy="232.96" r="1.10" fill="none" stroke="#d09050" stroke-width="0.65"/>
<circle cx="154.62" cy="233.12" r="1.10" fill="none" stroke="#d09050" stroke-width="0.65"/>
<rect x="148.53" y="232.86" width="2.20" height="2.20" fill="none" stroke="#d09050" stroke-width="0.65"/>
<rect x="144.88" y="233.52" width="2.20" height="2.20" fill="none" stroke="#d09050" stroke-width="0.65"/>
<rect x="151.51" y="234.28" width="2.20" height="2.20" fill="none" stroke="#d09050" stroke-width="0.65"/>
<circle cx="155.71" cy="235.44" r="1.10" fill="none" stroke="#d09050" stroke-width="0.65"/>
<rect x="146.82" y="234.64" width="2.20" height="2.20" fill="none" stroke="#d09050" stroke-width="0.65"/>
<circle cx="150.28" cy="235.85" r="1.10" fill="none" stroke="#d09050" stroke-width="0.65"/>
<rect x="143.84" y="234.84" width="2.20" height="2.20" fill="none" stroke="#d09050" stroke-width="0.65"/>
<rect x="152.87" y="234.93" width="2.20" height="2.20" fill="none" stroke="#d09050" stroke-width="0.65"/>
<circle cx="145.86" cy="239.93" r="1.10" fill="none" stroke="#d09050" stroke-width="0.65"/>
<circle cx="151.99" cy="240.74" r="1.10" fill="none" stroke="#d09050" stroke-width="0.65"/>
<rect x="148.55" y="244.08" width="2.20" height="2.20" fill="none" stroke="#d09050" stroke-width="0.65"/>
<rect x="148.93" y="246.90" width="2.20" height="2.20" fill="none" stroke="#d09050" stroke-width="0.65"/>
<line x1="142.40" y1="229.10" x2="158.40" y2="229.10" stroke="#222" stroke-width="1.1" />
<line x1="150.40" y1="220.00" x2="150.40" y2="231.20" stroke="#222" stroke-width="0.77" />
<line x1="147.90" y1="220.00" x2="152.90" y2="220.00" stroke="#222" stroke-width="0.77" />
<line x1="147.90" y1="231.20" x2="152.90" y2="231.20" stroke="#222" stroke-width="0.77" />
<rect x="149.30" y="188.80" width="2.2" height="2.2" fill="none" stroke="#d09050" stroke-width="0.65"/>
<path d="M130.50,199.20 L130.50,181.80 L150.40,181.80 L150.40,185.80" stroke="#222" stroke-width="1.1" fill="none" />
<text x="140.45" y="179.30" font-size="6" text-anchor="middle" fill="#333" >ns</text>
<text x="220.00" y="165.20" font-size="8.5" text-anchor="middle" fill="#222" >Stage</text>
<line x1="196.10" y1="177.50" x2="196.10" y2="248.50" stroke="#111" stroke-width="1.3" />
<line x1="193.10" y1="248.00" x2="196.10" y2="248.00" stroke="#111" stroke-width="1.3" />
<text x="190.30" y="250.30" font-size="6.3" text-anchor="end" fill="#333" >0</text>
<line x1="193.10" y1="234.00" x2="196.10" y2="234.00" stroke="#111" stroke-width="1.3" />
<text x="190.30" y="236.30" font-size="6.3" text-anchor="end" fill="#333" >20</text>
<line x1="193.10" y1="220.00" x2="196.10" y2="220.00" stroke="#111" stroke-width="1.3" />
<text x="190.30" y="222.30" font-size="6.3" text-anchor="end" fill="#333" >40</text>
<line x1="193.10" y1="206.00" x2="196.10" y2="206.00" stroke="#111" stroke-width="1.3" />
<text x="190.30" y="208.30" font-size="6.3" text-anchor="end" fill="#333" >60</text>
<line x1="193.10" y1="192.00" x2="196.10" y2="192.00" stroke="#111" stroke-width="1.3" />
<text x="190.30" y="194.30" font-size="6.3" text-anchor="end" fill="#333" >80</text>
<line x1="193.10" y1="178.00" x2="196.10" y2="178.00" stroke="#111" stroke-width="1.3" />
<text x="190.30" y="180.30" font-size="6.3" text-anchor="end" fill="#333" >100</text>
<line x1="195.60" y1="248.00" x2="243.20" y2="248.00" stroke="#111" stroke-width="1.3" />
<line x1="209.50" y1="248.00" x2="209.50" y2="251.00" stroke="#111" stroke-width="1.1" />
<line x1="229.30" y1="248.00" x2="229.30" y2="251.00" stroke="#111" stroke-width="1.1" />
<text x="209.50" y="259.80" font-size="6.5" text-anchor="middle" fill="#999" >≤II</text>
<text x="229.30" y="259.80" font-size="6.5" text-anchor="middle" fill="#999" >&gt;II</text>
<rect x="208.03" y="204.20" width="2.20" height="2.20" fill="none" stroke="#d09050" stroke-width="0.65"/>
<rect x="210.31" y="214.77" width="2.20" height="2.20" fill="none" stroke="#d09050" stroke-width="0.65"/>
<rect x="205.41" y="221.38" width="2.20" height="2.20" fill="none" stroke="#d09050" stroke-width="0.65"/>
<rect x="210.71" y="222.35" width="2.20" height="2.20" fill="none" stroke="#d09050" stroke-width="0.65"/>
<rect x="213.29" y="222.93" width="2.20" height="2.20" fill="none" stroke="#d09050" stroke-width="0.65"/>
<circle cx="207.60" cy="225.13" r="1.10" fill="none" stroke="#d09050" stroke-width="0.65"/>
<rect x="209.57" y="225.69" width="2.20" height="2.20" fill="none" stroke="#d09050" stroke-width="0.65"/>
<rect x="204.12" y="226.65" width="2.20" height="2.20" fill="none" stroke="#d09050" stroke-width="0.65"/>
<rect x="207.41" y="227.04" width="2.20" height="2.20" fill="none" stroke="#d09050" stroke-width="0.65"/>
<rect x="209.69" y="229.08" width="2.20" height="2.20" fill="none" stroke="#d09050" stroke-width="0.65"/>
<circle cx="208.02" cy="230.96" r="1.10" fill="none" stroke="#d09050" stroke-width="0.65"/>
<rect x="205.56" y="235.00" width="2.20" height="2.20" fill="none" stroke="#d09050" stroke-width="0.65"/>
<line x1="201.50" y1="223.50" x2="217.50" y2="223.50" stroke="#222" stroke-width="1.1" />
<line x1="209.50" y1="216.50" x2="209.50" y2="228.40" stroke="#222" stroke-width="0.77" />
<line x1="207.00" y1="216.50" x2="212.00" y2="216.50" stroke="#222" stroke-width="0.77" />
<line x1="207.00" y1="228.40" x2="212.00" y2="228.40" stroke="#222" stroke-width="0.77" />
<rect x="226.63" y="202.10" width="2.20" height="2.20" fill="none" stroke="#d09050" stroke-width="0.65"/>
<circle cx="233.30" cy="211.97" r="1.10" fill="none" stroke="#d09050" stroke-width="0.65"/>
<rect x="226.45" y="211.96" width="2.20" height="2.20" fill="none" stroke="#d09050" stroke-width="0.65"/>
<rect x="223.21" y="214.20" width="2.20" height="2.20" fill="none" stroke="#d09050" stroke-width="0.65"/>
<rect x="233.50" y="215.26" width="2.20" height="2.20" fill="none" stroke="#d09050" stroke-width="0.65"/>
<rect x="225.52" y="215.45" width="2.20" height="2.20" fill="none" stroke="#d09050" stroke-width="0.65"/>
<circle cx="230.98" cy="216.79" r="1.10" fill="none" stroke="#d09050" stroke-width="0.65"/>
<circle cx="228.95" cy="216.89" r="1.10" fill="none" stroke="#d09050" stroke-width="0.65"/>
<rect x="232.06" y="217.23" width="2.20" height="2.20" fill="none" stroke="#d09050" stroke-width="0.65"/>
<rect x="223.89" y="217.34" width="2.20" height="2.20" fill="none" stroke="#d09050" stroke-width="0.65"/>
<circle cx="227.43" cy="218.91" r="1.10" fill="none" stroke="#d09050" stroke-width="0.65"/>
<circle cx="230.10" cy="219.17" r="1.10" fill="none" stroke="#d09050" stroke-width="0.65"/>
<circle cx="232.00" cy="219.84" r="1.10" fill="none" stroke="#d09050" stroke-width="0.65"/>
<circle cx="234.41" cy="220.04" r="1.10" fill="none" stroke="#d09050" stroke-width="0.65"/>
<rect x="222.78" y="219.11" width="2.20" height="2.20" fill="none" stroke="#d09050" stroke-width="0.65"/>
<rect x="224.75" y="219.12" width="2.20" height="2.20" fill="none" stroke="#d09050" stroke-width="0.65"/>
<rect x="227.28" y="219.16" width="2.20" height="2.20" fill="none" stroke="#d09050" stroke-width="0.65"/>
<rect x="228.61" y="219.33" width="2.20" height="2.20" fill="none" stroke="#d09050" stroke-width="0.65"/>
<rect x="232.18" y="220.12" width="2.20" height="2.20" fill="none" stroke="#d09050" stroke-width="0.65"/>
<rect x="230.07" y="220.34" width="2.20" height="2.20" fill="none" stroke="#d09050" stroke-width="0.65"/>
<rect x="225.99" y="220.61" width="2.20" height="2.20" fill="none" stroke="#d09050" stroke-width="0.65"/>
<rect x="223.72" y="220.68" width="2.20" height="2.20" fill="none" stroke="#d09050" stroke-width="0.65"/>
<rect x="228.16" y="221.56" width="2.20" height="2.20" fill="none" stroke="#d09050" stroke-width="0.65"/>
<rect x="233.49" y="221.59" width="2.20" height="2.20" fill="none" stroke="#d09050" stroke-width="0.65"/>
<rect x="231.46" y="221.82" width="2.20" height="2.20" fill="none" stroke="#d09050" stroke-width="0.65"/>
<rect x="225.01" y="223.12" width="2.20" height="2.20" fill="none" stroke="#d09050" stroke-width="0.65"/>
<rect x="229.72" y="223.35" width="2.20" height="2.20" fill="none" stroke="#d09050" stroke-width="0.65"/>
<rect x="222.76" y="223.40" width="2.20" height="2.20" fill="none" stroke="#d09050" stroke-width="0.65"/>
<circle cx="228.36" cy="224.59" r="1.10" fill="none" stroke="#d09050" stroke-width="0.65"/>
<circle cx="233.94" cy="224.90" r="1.10" fill="none" stroke="#d09050" stroke-width="0.65"/>
<rect x="230.96" y="224.99" width="2.20" height="2.20" fill="none" stroke="#d09050" stroke-width="0.65"/>
<circle cx="225.12" cy="226.69" r="1.10" fill="none" stroke="#d09050" stroke-width="0.65"/>
<circle cx="229.00" cy="226.96" r="1.10" fill="none" stroke="#d09050" stroke-width="0.65"/>
<rect x="233.65" y="225.94" width="2.20" height="2.20" fill="none" stroke="#d09050" stroke-width="0.65"/>
<rect x="225.88" y="226.23" width="2.20" height="2.20" fill="none" stroke="#d09050" stroke-width="0.65"/>
<circle cx="230.98" cy="227.84" r="1.10" fill="none" stroke="#d09050" stroke-width="0.65"/>
<rect x="222.78" y="227.09" width="2.20" height="2.20" fill="none" stroke="#d09050" stroke-width="0.65"/>
<rect x="232.26" y="228.19" width="2.20" height="2.20" fill="none" stroke="#d09050" stroke-width="0.65"/>
<circle cx="228.32" cy="229.29" r="1.10" fill="none" stroke="#d09050" stroke-width="0.65"/>
<rect x="225.15" y="228.34" width="2.20" height="2.20" fill="none" stroke="#d09050" stroke-width="0.65"/>
<circle cx="231.68" cy="229.49" r="1.10" fill="none" stroke="#d09050" stroke-width="0.65"/>
<circle cx="229.83" cy="229.51" r="1.10" fill="none" stroke="#d09050" stroke-width="0.65"/>
<rect x="223.64" y="228.48" width="2.20" height="2.20" fill="none" stroke="#d09050" stroke-width="0.65"/>
<rect x="233.44" y="228.90" width="2.20" height="2.20" fill="none" stroke="#d09050" stroke-width="0.65"/>
<rect x="226.52" y="229.95" width="2.20" height="2.20" fill="none" stroke="#d09050" stroke-width="0.65"/>
<rect x="231.74" y="230.15" width="2.20" height="2.20" fill="none" stroke="#d09050" stroke-width="0.65"/>
<rect x="222.85" y="230.68" width="2.20" height="2.20" fill="none" stroke="#d09050" stroke-width="0.65"/>
<rect x="229.27" y="230.87" width="2.20" height="2.20" fill="none" stroke="#d09050" stroke-width="0.65"/>
<rect x="233.54" y="231.31" width="2.20" height="2.20" fill="none" stroke="#d09050" stroke-width="0.65"/>
<rect x="231.08" y="233.32" width="2.20" height="2.20" fill="none" stroke="#d09050" stroke-width="0.65"/>
<rect x="224.48" y="233.48" width="2.20" height="2.20" fill="none" stroke="#d09050" stroke-width="0.65"/>
<circle cx="228.98" cy="234.80" r="1.10" fill="none" stroke="#d09050" stroke-width="0.65"/>
<rect x="233.32" y="233.97" width="2.20" height="2.20" fill="none" stroke="#d09050" stroke-width="0.65"/>
<rect x="222.80" y="234.36" width="2.20" height="2.20" fill="none" stroke="#d09050" stroke-width="0.65"/>
<rect x="230.03" y="234.79" width="2.20" height="2.20" fill="none" stroke="#d09050" stroke-width="0.65"/>
<rect x="226.20" y="235.52" width="2.20" height="2.20" fill="none" stroke="#d09050" stroke-width="0.65"/>
<circle cx="232.96" cy="236.66" r="1.10" fill="none" stroke="#d09050" stroke-width="0.65"/>
<circle cx="224.98" cy="238.45" r="1.10" fill="none" stroke="#d09050" stroke-width="0.65"/>
<rect x="229.28" y="237.69" width="2.20" height="2.20" fill="none" stroke="#d09050" stroke-width="0.65"/>
<rect x="227.07" y="238.87" width="2.20" height="2.20" fill="none" stroke="#d09050" stroke-width="0.65"/>
<rect x="227.88" y="241.84" width="2.20" height="2.20" fill="none" stroke="#d09050" stroke-width="0.65"/>
<circle cx="229.53" cy="248.00" r="1.10" fill="none" stroke="#d09050" stroke-width="0.65"/>
<line x1="221.30" y1="226.30" x2="237.30" y2="226.30" stroke="#222" stroke-width="1.1" />
<line x1="229.30" y1="220.00" x2="229.30" y2="230.50" stroke="#222" stroke-width="0.77" />
<line x1="226.80" y1="220.00" x2="231.80" y2="220.00" stroke="#222" stroke-width="0.77" />
<line x1="226.80" y1="230.50" x2="231.80" y2="230.50" stroke="#222" stroke-width="0.77" />
<rect x="228.20" y="188.80" width="2.2" height="2.2" fill="none" stroke="#d09050" stroke-width="0.65"/>
<path d="M209.50,199.50 L209.50,181.80 L229.30,181.80 L229.30,186.30" stroke="#222" stroke-width="1.1" fill="none" />
<text x="219.40" y="179.30" font-size="6" text-anchor="middle" fill="#333" >ns</text>
<text x="298.50" y="165.20" font-size="8.5" text-anchor="middle" fill="#222" >Age</text>
<line x1="274.70" y1="177.50" x2="274.70" y2="248.50" stroke="#111" stroke-width="1.3" />
<line x1="271.70" y1="248.00" x2="274.70" y2="248.00" stroke="#111" stroke-width="1.3" />
<text x="268.90" y="250.30" font-size="6.3" text-anchor="end" fill="#333" >0</text>
<line x1="271.70" y1="234.00" x2="274.70" y2="234.00" stroke="#111" stroke-width="1.3" />
<text x="268.90" y="236.30" font-size="6.3" text-anchor="end" fill="#333" >20</text>
<line x1="271.70" y1="220.00" x2="274.70" y2="220.00" stroke="#111" stroke-width="1.3" />
<text x="268.90" y="222.30" font-size="6.3" text-anchor="end" fill="#333" >40</text>
<line x1="271.70" y1="206.00" x2="274.70" y2="206.00" stroke="#111" stroke-width="1.3" />
<text x="268.90" y="208.30" font-size="6.3" text-anchor="end" fill="#333" >60</text>
<line x1="271.70" y1="192.00" x2="274.70" y2="192.00" stroke="#111" stroke-width="1.3" />
<text x="268.90" y="194.30" font-size="6.3" text-anchor="end" fill="#333" >80</text>
<line x1="271.70" y1="178.00" x2="274.70" y2="178.00" stroke="#111" stroke-width="1.3" />
<text x="268.90" y="180.30" font-size="6.3" text-anchor="end" fill="#333" >100</text>
<line x1="274.20" y1="248.00" x2="321.50" y2="248.00" stroke="#111" stroke-width="1.3" />
<line x1="287.60" y1="248.00" x2="287.60" y2="251.00" stroke="#111" stroke-width="1.1" />
<line x1="307.80" y1="248.00" x2="307.80" y2="251.00" stroke="#111" stroke-width="1.1" />
<text x="287.60" y="259.80" font-size="6.5" text-anchor="middle" fill="#444" >&lt;66y</text>
<text x="307.80" y="259.80" font-size="6.5" text-anchor="middle" fill="#444" >&gt;66y</text>
<rect x="285.59" y="201.40" width="2.20" height="2.20" fill="none" stroke="#d09050" stroke-width="0.65"/>
<rect x="286.10" y="211.31" width="2.20" height="2.20" fill="none" stroke="#d09050" stroke-width="0.65"/>
<rect x="289.01" y="212.07" width="2.20" height="2.20" fill="none" stroke="#d09050" stroke-width="0.65"/>
<rect x="282.93" y="212.29" width="2.20" height="2.20" fill="none" stroke="#d09050" stroke-width="0.65"/>
<rect x="291.63" y="212.61" width="2.20" height="2.20" fill="none" stroke="#d09050" stroke-width="0.65"/>
<rect x="287.07" y="213.14" width="2.20" height="2.20" fill="none" stroke="#d09050" stroke-width="0.65"/>
<rect x="281.43" y="214.57" width="2.20" height="2.20" fill="none" stroke="#d09050" stroke-width="0.65"/>
<rect x="283.83" y="214.71" width="2.20" height="2.20" fill="none" stroke="#d09050" stroke-width="0.65"/>
<circle cx="290.51" cy="216.32" r="1.10" fill="none" stroke="#d09050" stroke-width="0.65"/>
<circle cx="287.81" cy="217.31" r="1.10" fill="none" stroke="#d09050" stroke-width="0.65"/>
<rect x="288.16" y="218.50" width="2.20" height="2.20" fill="none" stroke="#d09050" stroke-width="0.65"/>
<rect x="291.18" y="219.83" width="2.20" height="2.20" fill="none" stroke="#d09050" stroke-width="0.65"/>
<rect x="286.39" y="220.35" width="2.20" height="2.20" fill="none" stroke="#d09050" stroke-width="0.65"/>
<rect x="281.36" y="220.40" width="2.20" height="2.20" fill="none" stroke="#d09050" stroke-width="0.65"/>
<circle cx="288.12" cy="223.86" r="1.10" fill="none" stroke="#d09050" stroke-width="0.65"/>
<rect x="284.69" y="223.55" width="2.20" height="2.20" fill="none" stroke="#d09050" stroke-width="0.65"/>
<circle cx="290.32" cy="224.84" r="1.10" fill="none" stroke="#d09050" stroke-width="0.65"/>
<rect x="282.24" y="223.98" width="2.20" height="2.20" fill="none" stroke="#d09050" stroke-width="0.65"/>
<circle cx="293.06" cy="225.72" r="1.10" fill="none" stroke="#d09050" stroke-width="0.65"/>
<rect x="286.36" y="224.67" width="2.20" height="2.20" fill="none" stroke="#d09050" stroke-width="0.65"/>
<circle cx="284.92" cy="226.15" r="1.10" fill="none" stroke="#d09050" stroke-width="0.65"/>
<rect x="288.13" y="225.26" width="2.20" height="2.20" fill="none" stroke="#d09050" stroke-width="0.65"/>
<circle cx="291.21" cy="226.46" r="1.10" fill="none" stroke="#d09050" stroke-width="0.65"/>
<circle cx="283.59" cy="228.36" r="1.10" fill="none" stroke="#d09050" stroke-width="0.65"/>
<circle cx="286.89" cy="230.19" r="1.10" fill="none" stroke="#d09050" stroke-width="0.65"/>
<circle cx="292.28" cy="230.48" r="1.10" fill="none" stroke="#d09050" stroke-width="0.65"/>
<rect x="281.15" y="229.50" width="2.20" height="2.20" fill="none" stroke="#d09050" stroke-width="0.65"/>
<rect x="283.47" y="229.54" width="2.20" height="2.20" fill="none" stroke="#d09050" stroke-width="0.65"/>
<circle cx="289.51" cy="231.30" r="1.10" fill="none" stroke="#d09050" stroke-width="0.65"/>
<rect x="286.83" y="230.28" width="2.20" height="2.20" fill="none" stroke="#d09050" stroke-width="0.65"/>
<rect x="284.72" y="231.82" width="2.20" height="2.20" fill="none" stroke="#d09050" stroke-width="0.65"/>
<rect x="282.14" y="231.90" width="2.20" height="2.20" fill="none" stroke="#d09050" stroke-width="0.65"/>
<circle cx="292.24" cy="234.57" r="1.10" fill="none" stroke="#d09050" stroke-width="0.65"/>
<rect x="288.28" y="233.62" width="2.20" height="2.20" fill="none" stroke="#d09050" stroke-width="0.65"/>
<rect x="285.97" y="233.65" width="2.20" height="2.20" fill="none" stroke="#d09050" stroke-width="0.65"/>
<circle cx="282.76" cy="235.63" r="1.10" fill="none" stroke="#d09050" stroke-width="0.65"/>
<rect x="287.59" y="238.96" width="2.20" height="2.20" fill="none" stroke="#d09050" stroke-width="0.65"/>
<rect x="285.53" y="240.49" width="2.20" height="2.20" fill="none" stroke="#d09050" stroke-width="0.65"/>
<circle cx="290.96" cy="243.88" r="1.10" fill="none" stroke="#d09050" stroke-width="0.65"/>
<rect x="282.49" y="243.40" width="2.20" height="2.20" fill="none" stroke="#d09050" stroke-width="0.65"/>
<line x1="279.60" y1="224.20" x2="295.60" y2="224.20" stroke="#222" stroke-width="1.1" />
<line x1="287.60" y1="219.30" x2="287.60" y2="229.10" stroke="#222" stroke-width="0.77" />
<line x1="285.10" y1="219.30" x2="290.10" y2="219.30" stroke="#222" stroke-width="0.77" />
<line x1="285.10" y1="229.10" x2="290.10" y2="229.10" stroke="#222" stroke-width="0.77" />
<rect x="307.45" y="206.30" width="2.20" height="2.20" fill="none" stroke="#d09050" stroke-width="0.65"/>
<rect x="302.33" y="214.82" width="2.20" height="2.20" fill="none" stroke="#d09050" stroke-width="0.65"/>
<rect x="308.35" y="216.06" width="2.20" height="2.20" fill="none" stroke="#d09050" stroke-width="0.65"/>
<circle cx="307.63" cy="218.83" r="1.10" fill="none" stroke="#d09050" stroke-width="0.65"/>
<circle cx="312.39" cy="218.83" r="1.10" fill="none" stroke="#d09050" stroke-width="0.65"/>
<rect x="303.86" y="218.28" width="2.20" height="2.20" fill="none" stroke="#d09050" stroke-width="0.65"/>
<rect x="308.28" y="222.38" width="2.20" height="2.20" fill="none" stroke="#d09050" stroke-width="0.65"/>
<rect x="301.26" y="224.49" width="2.20" height="2.20" fill="none" stroke="#d09050" stroke-width="0.65"/>
<rect x="310.27" y="225.27" width="2.20" height="2.20" fill="none" stroke="#d09050" stroke-width="0.65"/>
<rect x="306.11" y="225.38" width="2.20" height="2.20" fill="none" stroke="#d09050" stroke-width="0.65"/>
<circle cx="304.83" cy="226.83" r="1.10" fill="none" stroke="#d09050" stroke-width="0.65"/>
<circle cx="309.20" cy="228.06" r="1.10" fill="none" stroke="#d09050" stroke-width="0.65"/>
<rect x="301.80" y="227.24" width="2.20" height="2.20" fill="none" stroke="#d09050" stroke-width="0.65"/>
<circle cx="312.72" cy="228.40" r="1.10" fill="none" stroke="#d09050" stroke-width="0.65"/>
<rect x="305.20" y="227.48" width="2.20" height="2.20" fill="none" stroke="#d09050" stroke-width="0.65"/>
<circle cx="310.92" cy="228.59" r="1.10" fill="none" stroke="#d09050" stroke-width="0.65"/>
<rect x="303.59" y="227.79" width="2.20" height="2.20" fill="none" stroke="#d09050" stroke-width="0.65"/>
<rect x="306.63" y="227.86" width="2.20" height="2.20" fill="none" stroke="#d09050" stroke-width="0.65"/>
<rect x="308.26" y="228.70" width="2.20" height="2.20" fill="none" stroke="#d09050" stroke-width="0.65"/>
<rect x="310.85" y="228.97" width="2.20" height="2.20" fill="none" stroke="#d09050" stroke-width="0.65"/>
<rect x="302.20" y="229.19" width="2.20" height="2.20" fill="none" stroke="#d09050" stroke-width="0.65"/>
<circle cx="306.27" cy="230.98" r="1.10" fill="none" stroke="#d09050" stroke-width="0.65"/>
<rect x="307.01" y="230.10" width="2.20" height="2.20" fill="none" stroke="#d09050" stroke-width="0.65"/>
<rect x="309.21" y="230.97" width="2.20" height="2.20" fill="none" stroke="#d09050" stroke-width="0.65"/>
<rect x="301.46" y="231.56" width="2.20" height="2.20" fill="none" stroke="#d09050" stroke-width="0.65"/>
<circle cx="308.29" cy="233.65" r="1.10" fill="none" stroke="#d09050" stroke-width="0.65"/>
<rect x="302.37" y="234.06" width="2.20" height="2.20" fill="none" stroke="#d09050" stroke-width="0.65"/>
<circle cx="311.63" cy="235.60" r="1.10" fill="none" stroke="#d09050" stroke-width="0.65"/>
<circle cx="306.87" cy="236.53" r="1.10" fill="none" stroke="#d09050" stroke-width="0.65"/>
<rect x="311.90" y="237.68" width="2.20" height="2.20" fill="none" stroke="#d09050" stroke-width="0.65"/>
<circle cx="309.48" cy="240.90" r="1.10" fill="none" stroke="#d09050" stroke-width="0.65"/>
<circle cx="307.36" cy="248.00" r="1.10" fill="none" stroke="#d09050" stroke-width="0.65"/>
<line x1="299.80" y1="227.00" x2="315.80" y2="227.00" stroke="#222" stroke-width="1.1" />
<line x1="307.80" y1="220.70" x2="307.80" y2="230.50" stroke="#222" stroke-width="0.77" />
<line x1="305.30" y1="220.70" x2="310.30" y2="220.70" stroke="#222" stroke-width="0.77" />
<line x1="305.30" y1="230.50" x2="310.30" y2="230.50" stroke="#222" stroke-width="0.77" />
<rect x="286.50" y="188.80" width="2.2" height="2.2" fill="none" stroke="#d09050" stroke-width="0.65"/>
<path d="M287.60,186.30 L287.60,181.80 L307.80,181.80 L307.80,203.80" stroke="#222" stroke-width="1.1" fill="none" />
<text x="297.70" y="179.30" font-size="6" text-anchor="middle" fill="#333" >ns</text>
<text x="376.90" y="165.20" font-size="8.5" text-anchor="middle" fill="#222" >Sex</text>
<line x1="353.70" y1="177.50" x2="353.70" y2="248.50" stroke="#111" stroke-width="1.3" />
<line x1="350.70" y1="248.00" x2="353.70" y2="248.00" stroke="#111" stroke-width="1.3" />
<text x="347.90" y="250.30" font-size="6.3" text-anchor="end" fill="#333" >0</text>
<line x1="350.70" y1="234.00" x2="353.70" y2="234.00" stroke="#111" stroke-width="1.3" />
<text x="347.90" y="236.30" font-size="6.3" text-anchor="end" fill="#333" >20</text>
<line x1="350.70" y1="220.00" x2="353.70" y2="220.00" stroke="#111" stroke-width="1.3" />
<text x="347.90" y="222.30" font-size="6.3" text-anchor="end" fill="#333" >40</text>
<line x1="350.70" y1="206.00" x2="353.70" y2="206.00" stroke="#111" stroke-width="1.3" />
<text x="347.90" y="208.30" font-size="6.3" text-anchor="end" fill="#333" >60</text>
<line x1="350.70" y1="192.00" x2="353.70" y2="192.00" stroke="#111" stroke-width="1.3" />
<text x="347.90" y="194.30" font-size="6.3" text-anchor="end" fill="#333" >80</text>
<line x1="350.70" y1="178.00" x2="353.70" y2="178.00" stroke="#111" stroke-width="1.3" />
<text x="347.90" y="180.30" font-size="6.3" text-anchor="end" fill="#333" >100</text>
<line x1="353.20" y1="248.00" x2="400.20" y2="248.00" stroke="#111" stroke-width="1.3" />
<line x1="366.30" y1="248.00" x2="366.30" y2="251.00" stroke="#111" stroke-width="1.1" />
<line x1="386.50" y1="248.00" x2="386.50" y2="251.00" stroke="#111" stroke-width="1.1" />
<text x="366.30" y="259.80" font-size="6.5" text-anchor="middle" fill="#444" >Male</text>
<text x="386.50" y="259.80" font-size="6.5" text-anchor="middle" fill="#444" >Female</text>
<rect x="366.83" y="202.80" width="2.20" height="2.20" fill="none" stroke="#d09050" stroke-width="0.65"/>
<rect x="363.13" y="204.52" width="2.20" height="2.20" fill="none" stroke="#d09050" stroke-width="0.65"/>
<rect x="368.34" y="210.83" width="2.20" height="2.20" fill="none" stroke="#d09050" stroke-width="0.65"/>
<rect x="360.88" y="214.20" width="2.20" height="2.20" fill="none" stroke="#d09050" stroke-width="0.65"/>
<rect x="366.64" y="215.00" width="2.20" height="2.20" fill="none" stroke="#d09050" stroke-width="0.65"/>
<rect x="363.38" y="215.31" width="2.20" height="2.20" fill="none" stroke="#d09050" stroke-width="0.65"/>
<rect x="369.37" y="215.51" width="2.20" height="2.20" fill="none" stroke="#d09050" stroke-width="0.65"/>
<rect x="359.73" y="216.24" width="2.20" height="2.20" fill="none" stroke="#d09050" stroke-width="0.65"/>
<rect x="365.52" y="217.05" width="2.20" height="2.20" fill="none" stroke="#d09050" stroke-width="0.65"/>
<rect x="369.59" y="219.02" width="2.20" height="2.20" fill="none" stroke="#d09050" stroke-width="0.65"/>
<rect x="362.08" y="220.17" width="2.20" height="2.20" fill="none" stroke="#d09050" stroke-width="0.65"/>
<rect x="365.43" y="221.10" width="2.20" height="2.20" fill="none" stroke="#d09050" stroke-width="0.65"/>
<rect x="368.47" y="221.49" width="2.20" height="2.20" fill="none" stroke="#d09050" stroke-width="0.65"/>
<rect x="359.93" y="221.94" width="2.20" height="2.20" fill="none" stroke="#d09050" stroke-width="0.65"/>
<circle cx="364.95" cy="224.03" r="1.10" fill="none" stroke="#d09050" stroke-width="0.65"/>
<rect x="370.31" y="223.45" width="2.20" height="2.20" fill="none" stroke="#d09050" stroke-width="0.65"/>
<circle cx="368.17" cy="224.94" r="1.10" fill="none" stroke="#d09050" stroke-width="0.65"/>
<rect x="364.57" y="225.24" width="2.20" height="2.20" fill="none" stroke="#d09050" stroke-width="0.65"/>
<circle cx="368.65" cy="227.56" r="1.10" fill="none" stroke="#d09050" stroke-width="0.65"/>
<circle cx="361.76" cy="227.91" r="1.10" fill="none" stroke="#d09050" stroke-width="0.65"/>
<rect x="370.05" y="226.90" width="2.20" height="2.20" fill="none" stroke="#d09050" stroke-width="0.65"/>
<circle cx="363.96" cy="228.18" r="1.10" fill="none" stroke="#d09050" stroke-width="0.65"/>
<rect x="365.08" y="227.32" width="2.20" height="2.20" fill="none" stroke="#d09050" stroke-width="0.65"/>
<rect x="368.68" y="227.51" width="2.20" height="2.20" fill="none" stroke="#d09050" stroke-width="0.65"/>
<rect x="366.74" y="227.85" width="2.20" height="2.20" fill="none" stroke="#d09050" stroke-width="0.65"/>
<rect x="359.71" y="228.08" width="2.20" height="2.20" fill="none" stroke="#d09050" stroke-width="0.65"/>
<circle cx="362.86" cy="229.89" r="1.10" fill="none" stroke="#d09050" stroke-width="0.65"/>
<circle cx="371.51" cy="229.96" r="1.10" fill="none" stroke="#d09050" stroke-width="0.65"/>
<circle cx="364.94" cy="229.98" r="1.10" fill="none" stroke="#d09050" stroke-width="0.65"/>
<rect x="367.96" y="229.30" width="2.20" height="2.20" fill="none" stroke="#d09050" stroke-width="0.65"/>
<circle cx="366.94" cy="231.13" r="1.10" fill="none" stroke="#d09050" stroke-width="0.65"/>
<rect x="360.47" y="230.24" width="2.20" height="2.20" fill="none" stroke="#d09050" stroke-width="0.65"/>
<rect x="362.55" y="230.42" width="2.20" height="2.20" fill="none" stroke="#d09050" stroke-width="0.65"/>
<rect x="368.09" y="231.78" width="2.20" height="2.20" fill="none" stroke="#d09050" stroke-width="0.65"/>
<rect x="364.46" y="234.97" width="2.20" height="2.20" fill="none" stroke="#d09050" stroke-width="0.65"/>
<circle cx="362.48" cy="236.18" r="1.10" fill="none" stroke="#d09050" stroke-width="0.65"/>
<rect x="369.31" y="235.85" width="2.20" height="2.20" fill="none" stroke="#d09050" stroke-width="0.65"/>
<rect x="366.66" y="236.63" width="2.20" height="2.20" fill="none" stroke="#d09050" stroke-width="0.65"/>
<circle cx="362.70" cy="239.01" r="1.10" fill="none" stroke="#d09050" stroke-width="0.65"/>
<rect x="364.32" y="238.07" width="2.20" height="2.20" fill="none" stroke="#d09050" stroke-width="0.65"/>
<circle cx="368.60" cy="240.56" r="1.10" fill="none" stroke="#d09050" stroke-width="0.65"/>
<rect x="365.76" y="242.85" width="2.20" height="2.20" fill="none" stroke="#d09050" stroke-width="0.65"/>
<rect x="363.05" y="244.37" width="2.20" height="2.20" fill="none" stroke="#d09050" stroke-width="0.65"/>
<rect x="367.30" y="246.73" width="2.20" height="2.20" fill="none" stroke="#d09050" stroke-width="0.65"/>
<circle cx="365.07" cy="248.00" r="1.10" fill="none" stroke="#d09050" stroke-width="0.65"/>
<line x1="358.30" y1="226.30" x2="374.30" y2="226.30" stroke="#222" stroke-width="1.1" />
<line x1="366.30" y1="221.40" x2="366.30" y2="231.20" stroke="#222" stroke-width="0.77" />
<line x1="363.80" y1="221.40" x2="368.80" y2="221.40" stroke="#222" stroke-width="0.77" />
<line x1="363.80" y1="231.20" x2="368.80" y2="231.20" stroke="#222" stroke-width="0.77" />
<circle cx="385.33" cy="209.50" r="1.10" fill="none" stroke="#d09050" stroke-width="0.65"/>
<rect x="385.82" y="212.29" width="2.20" height="2.20" fill="none" stroke="#d09050" stroke-width="0.65"/>
<rect x="387.11" y="216.15" width="2.20" height="2.20" fill="none" stroke="#d09050" stroke-width="0.65"/>
<rect x="379.92" y="217.40" width="2.20" height="2.20" fill="none" stroke="#d09050" stroke-width="0.65"/>
<circle cx="390.01" cy="220.48" r="1.10" fill="none" stroke="#d09050" stroke-width="0.65"/>
<rect x="382.35" y="219.41" width="2.20" height="2.20" fill="none" stroke="#d09050" stroke-width="0.65"/>
<rect x="386.52" y="219.90" width="2.20" height="2.20" fill="none" stroke="#d09050" stroke-width="0.65"/>
<circle cx="381.02" cy="221.13" r="1.10" fill="none" stroke="#d09050" stroke-width="0.65"/>
<rect x="390.60" y="221.05" width="2.20" height="2.20" fill="none" stroke="#d09050" stroke-width="0.65"/>
<rect x="381.75" y="222.04" width="2.20" height="2.20" fill="none" stroke="#d09050" stroke-width="0.65"/>
<rect x="384.86" y="222.84" width="2.20" height="2.20" fill="none" stroke="#d09050" stroke-width="0.65"/>
<rect x="390.80" y="223.72" width="2.20" height="2.20" fill="none" stroke="#d09050" stroke-width="0.65"/>
<circle cx="381.04" cy="224.99" r="1.10" fill="none" stroke="#d09050" stroke-width="0.65"/>
<circle cx="387.60" cy="225.85" r="1.10" fill="none" stroke="#d09050" stroke-width="0.65"/>
<rect x="389.13" y="226.32" width="2.20" height="2.20" fill="none" stroke="#d09050" stroke-width="0.65"/>
<rect x="383.50" y="227.30" width="2.20" height="2.20" fill="none" stroke="#d09050" stroke-width="0.65"/>
<rect x="386.58" y="228.37" width="2.20" height="2.20" fill="none" stroke="#d09050" stroke-width="0.65"/>
<rect x="390.38" y="228.45" width="2.20" height="2.20" fill="none" stroke="#d09050" stroke-width="0.65"/>
<rect x="381.00" y="229.14" width="2.20" height="2.20" fill="none" stroke="#d09050" stroke-width="0.65"/>
<rect x="385.99" y="231.20" width="2.20" height="2.20" fill="none" stroke="#d09050" stroke-width="0.65"/>
<circle cx="382.87" cy="232.66" r="1.10" fill="none" stroke="#d09050" stroke-width="0.65"/>
<rect x="390.62" y="232.00" width="2.20" height="2.20" fill="none" stroke="#d09050" stroke-width="0.65"/>
<rect x="388.21" y="232.10" width="2.20" height="2.20" fill="none" stroke="#d09050" stroke-width="0.65"/>
<circle cx="385.97" cy="235.76" r="1.10" fill="none" stroke="#d09050" stroke-width="0.65"/>
<rect x="388.64" y="234.96" width="2.20" height="2.20" fill="none" stroke="#d09050" stroke-width="0.65"/>
<rect x="381.23" y="235.90" width="2.20" height="2.20" fill="none" stroke="#d09050" stroke-width="0.65"/>
<rect x="385.81" y="239.75" width="2.20" height="2.20" fill="none" stroke="#d09050" stroke-width="0.65"/>
<rect x="383.71" y="243.40" width="2.20" height="2.20" fill="none" stroke="#d09050" stroke-width="0.65"/>
<line x1="378.50" y1="225.60" x2="394.50" y2="225.60" stroke="#222" stroke-width="1.1" />
<line x1="386.50" y1="220.00" x2="386.50" y2="229.10" stroke="#222" stroke-width="0.77" />
<line x1="384.00" y1="220.00" x2="389.00" y2="220.00" stroke="#222" stroke-width="0.77" />
<line x1="384.00" y1="229.10" x2="389.00" y2="229.10" stroke="#222" stroke-width="0.77" />
<rect x="385.40" y="188.80" width="2.2" height="2.2" fill="none" stroke="#d09050" stroke-width="0.65"/>
<path d="M366.30,205.00 L366.30,181.80 L386.50,181.80 L386.50,186.30" stroke="#222" stroke-width="1.1" fill="none" />
<text x="376.40" y="179.30" font-size="6" text-anchor="middle" fill="#333" >ns</text>
<text x="454.80" y="165.20" font-size="8.5" text-anchor="middle" fill="#222" >Tumor Bulk</text>
<line x1="431.40" y1="177.50" x2="431.40" y2="248.50" stroke="#111" stroke-width="1.3" />
<line x1="428.40" y1="248.00" x2="431.40" y2="248.00" stroke="#111" stroke-width="1.3" />
<text x="425.60" y="250.30" font-size="6.3" text-anchor="end" fill="#333" >0</text>
<line x1="428.40" y1="234.00" x2="431.40" y2="234.00" stroke="#111" stroke-width="1.3" />
<text x="425.60" y="236.30" font-size="6.3" text-anchor="end" fill="#333" >20</text>
<line x1="428.40" y1="220.00" x2="431.40" y2="220.00" stroke="#111" stroke-width="1.3" />
<text x="425.60" y="222.30" font-size="6.3" text-anchor="end" fill="#333" >40</text>
<line x1="428.40" y1="206.00" x2="431.40" y2="206.00" stroke="#111" stroke-width="1.3" />
<text x="425.60" y="208.30" font-size="6.3" text-anchor="end" fill="#333" >60</text>
<line x1="428.40" y1="192.00" x2="431.40" y2="192.00" stroke="#111" stroke-width="1.3" />
<text x="425.60" y="194.30" font-size="6.3" text-anchor="end" fill="#333" >80</text>
<line x1="428.40" y1="178.00" x2="431.40" y2="178.00" stroke="#111" stroke-width="1.3" />
<text x="425.60" y="180.30" font-size="6.3" text-anchor="end" fill="#333" >100</text>
<line x1="430.90" y1="248.00" x2="478.50" y2="248.00" stroke="#111" stroke-width="1.3" />
<line x1="444.50" y1="248.00" x2="444.50" y2="251.00" stroke="#111" stroke-width="1.1" />
<line x1="464.70" y1="248.00" x2="464.70" y2="251.00" stroke="#111" stroke-width="1.1" />
<text x="444.50" y="259.80" font-size="6.5" text-anchor="middle" fill="#444" >No Bulk</text>
<text x="464.70" y="259.80" font-size="6.5" text-anchor="middle" fill="#444" >Bulk</text>
<rect x="444.29" y="202.10" width="2.20" height="2.20" fill="none" stroke="#d09050" stroke-width="0.65"/>
<rect x="445.01" y="209.41" width="2.20" height="2.20" fill="none" stroke="#d09050" stroke-width="0.65"/>
<rect x="442.22" y="213.57" width="2.20" height="2.20" fill="none" stroke="#d09050" stroke-width="0.65"/>
<rect x="438.84" y="215.04" width="2.20" height="2.20" fill="none" stroke="#d09050" stroke-width="0.65"/>
<rect x="445.68" y="215.49" width="2.20" height="2.20" fill="none" stroke="#d09050" stroke-width="0.65"/>
<rect x="443.19" y="215.85" width="2.20" height="2.20" fill="none" stroke="#d09050" stroke-width="0.65"/>
<rect x="448.16" y="215.91" width="2.20" height="2.20" fill="none" stroke="#d09050" stroke-width="0.65"/>
<rect x="441.02" y="215.92" width="2.20" height="2.20" fill="none" stroke="#d09050" stroke-width="0.65"/>
<rect x="438.02" y="216.76" width="2.20" height="2.20" fill="none" stroke="#d09050" stroke-width="0.65"/>
<rect x="444.68" y="217.40" width="2.20" height="2.20" fill="none" stroke="#d09050" stroke-width="0.65"/>
<rect x="446.72" y="217.65" width="2.20" height="2.20" fill="none" stroke="#d09050" stroke-width="0.65"/>
<rect x="440.22" y="219.42" width="2.20" height="2.20" fill="none" stroke="#d09050" stroke-width="0.65"/>
<rect x="445.49" y="220.65" width="2.20" height="2.20" fill="none" stroke="#d09050" stroke-width="0.65"/>
<rect x="442.14" y="221.07" width="2.20" height="2.20" fill="none" stroke="#d09050" stroke-width="0.65"/>
<circle cx="449.87" cy="222.68" r="1.10" fill="none" stroke="#d09050" stroke-width="0.65"/>
<rect x="439.58" y="221.81" width="2.20" height="2.20" fill="none" stroke="#d09050" stroke-width="0.65"/>
<rect x="444.09" y="222.07" width="2.20" height="2.20" fill="none" stroke="#d09050" stroke-width="0.65"/>
<rect x="446.61" y="222.99" width="2.20" height="2.20" fill="none" stroke="#d09050" stroke-width="0.65"/>
<circle cx="442.44" cy="224.43" r="1.10" fill="none" stroke="#d09050" stroke-width="0.65"/>
<rect x="437.93" y="223.45" width="2.20" height="2.20" fill="none" stroke="#d09050" stroke-width="0.65"/>
<circle cx="449.70" cy="224.68" r="1.10" fill="none" stroke="#d09050" stroke-width="0.65"/>
<rect x="443.36" y="225.07" width="2.20" height="2.20" fill="none" stroke="#d09050" stroke-width="0.65"/>
<rect x="439.69" y="225.24" width="2.20" height="2.20" fill="none" stroke="#d09050" stroke-width="0.65"/>
<circle cx="447.06" cy="226.74" r="1.10" fill="none" stroke="#d09050" stroke-width="0.65"/>
<circle cx="449.13" cy="227.29" r="1.10" fill="none" stroke="#d09050" stroke-width="0.65"/>
<rect x="441.60" y="226.29" width="2.20" height="2.20" fill="none" stroke="#d09050" stroke-width="0.65"/>
<circle cx="439.01" cy="227.57" r="1.10" fill="none" stroke="#d09050" stroke-width="0.65"/>
<rect x="444.31" y="226.82" width="2.20" height="2.20" fill="none" stroke="#d09050" stroke-width="0.65"/>
<circle cx="440.88" cy="228.89" r="1.10" fill="none" stroke="#d09050" stroke-width="0.65"/>
<rect x="446.21" y="228.09" width="2.20" height="2.20" fill="none" stroke="#d09050" stroke-width="0.65"/>
<rect x="448.65" y="228.10" width="2.20" height="2.20" fill="none" stroke="#d09050" stroke-width="0.65"/>
<circle cx="444.78" cy="229.59" r="1.10" fill="none" stroke="#d09050" stroke-width="0.65"/>
<rect x="437.95" y="228.56" width="2.20" height="2.20" fill="none" stroke="#d09050" stroke-width="0.65"/>
<rect x="441.12" y="228.59" width="2.20" height="2.20" fill="none" stroke="#d09050" stroke-width="0.65"/>
<rect x="447.33" y="229.52" width="2.20" height="2.20" fill="none" stroke="#d09050" stroke-width="0.65"/>
<rect x="439.78" y="229.68" width="2.20" height="2.20" fill="none" stroke="#d09050" stroke-width="0.65"/>
<circle cx="446.02" cy="231.21" r="1.10" fill="none" stroke="#d09050" stroke-width="0.65"/>
<rect x="442.45" y="230.15" width="2.20" height="2.20" fill="none" stroke="#d09050" stroke-width="0.65"/>
<rect x="438.07" y="231.16" width="2.20" height="2.20" fill="none" stroke="#d09050" stroke-width="0.65"/>
<rect x="447.82" y="232.47" width="2.20" height="2.20" fill="none" stroke="#d09050" stroke-width="0.65"/>
<circle cx="444.98" cy="233.71" r="1.10" fill="none" stroke="#d09050" stroke-width="0.65"/>
<rect x="439.52" y="233.21" width="2.20" height="2.20" fill="none" stroke="#d09050" stroke-width="0.65"/>
<circle cx="446.83" cy="234.76" r="1.10" fill="none" stroke="#d09050" stroke-width="0.65"/>
<rect x="441.94" y="234.25" width="2.20" height="2.20" fill="none" stroke="#d09050" stroke-width="0.65"/>
<rect x="448.85" y="234.57" width="2.20" height="2.20" fill="none" stroke="#d09050" stroke-width="0.65"/>
<rect x="437.97" y="234.65" width="2.20" height="2.20" fill="none" stroke="#d09050" stroke-width="0.65"/>
<rect x="443.94" y="234.92" width="2.20" height="2.20" fill="none" stroke="#d09050" stroke-width="0.65"/>
<circle cx="441.30" cy="236.45" r="1.10" fill="none" stroke="#d09050" stroke-width="0.65"/>
<rect x="446.63" y="235.41" width="2.20" height="2.20" fill="none" stroke="#d09050" stroke-width="0.65"/>
<rect x="442.47" y="236.42" width="2.20" height="2.20" fill="none" stroke="#d09050" stroke-width="0.65"/>
<rect x="437.96" y="237.35" width="2.20" height="2.20" fill="none" stroke="#d09050" stroke-width="0.65"/>
<circle cx="446.95" cy="238.88" r="1.10" fill="none" stroke="#d09050" stroke-width="0.65"/>
<rect x="440.57" y="237.94" width="2.20" height="2.20" fill="none" stroke="#d09050" stroke-width="0.65"/>
<rect x="448.88" y="239.32" width="2.20" height="2.20" fill="none" stroke="#d09050" stroke-width="0.65"/>
<rect x="444.22" y="245.18" width="2.20" height="2.20" fill="none" stroke="#d09050" stroke-width="0.65"/>
<circle cx="442.56" cy="247.27" r="1.10" fill="none" stroke="#d09050" stroke-width="0.65"/>
<circle cx="448.25" cy="247.67" r="1.10" fill="none" stroke="#d09050" stroke-width="0.65"/>
<rect x="438.81" y="246.90" width="2.20" height="2.20" fill="none" stroke="#d09050" stroke-width="0.65"/>
<line x1="436.50" y1="227.00" x2="452.50" y2="227.00" stroke="#222" stroke-width="1.1" />
<line x1="444.50" y1="221.40" x2="444.50" y2="230.50" stroke="#222" stroke-width="0.77" />
<line x1="442.00" y1="221.40" x2="447.00" y2="221.40" stroke="#222" stroke-width="0.77" />
<line x1="442.00" y1="230.50" x2="447.00" y2="230.50" stroke="#222" stroke-width="0.77" />
<rect x="464.89" y="213.30" width="2.20" height="2.20" fill="none" stroke="#d09050" stroke-width="0.65"/>
<circle cx="462.82" cy="215.55" r="1.10" fill="none" stroke="#d09050" stroke-width="0.65"/>
<rect x="468.25" y="216.79" width="2.20" height="2.20" fill="none" stroke="#d09050" stroke-width="0.65"/>
<rect x="465.15" y="216.95" width="2.20" height="2.20" fill="none" stroke="#d09050" stroke-width="0.65"/>
<rect x="462.36" y="223.36" width="2.20" height="2.20" fill="none" stroke="#d09050" stroke-width="0.65"/>
<rect x="468.68" y="224.39" width="2.20" height="2.20" fill="none" stroke="#d09050" stroke-width="0.65"/>
<rect x="459.37" y="225.33" width="2.20" height="2.20" fill="none" stroke="#d09050" stroke-width="0.65"/>
<rect x="466.32" y="225.45" width="2.20" height="2.20" fill="none" stroke="#d09050" stroke-width="0.65"/>
<rect x="463.56" y="225.52" width="2.20" height="2.20" fill="none" stroke="#d09050" stroke-width="0.65"/>
<rect x="461.32" y="226.06" width="2.20" height="2.20" fill="none" stroke="#d09050" stroke-width="0.65"/>
<rect x="463.24" y="230.82" width="2.20" height="2.20" fill="none" stroke="#d09050" stroke-width="0.65"/>
<rect x="466.53" y="231.39" width="2.20" height="2.20" fill="none" stroke="#d09050" stroke-width="0.65"/>
<circle cx="462.31" cy="233.45" r="1.10" fill="none" stroke="#d09050" stroke-width="0.65"/>
<rect x="463.95" y="242.00" width="2.20" height="2.20" fill="none" stroke="#d09050" stroke-width="0.65"/>
<line x1="456.70" y1="222.80" x2="472.70" y2="222.80" stroke="#222" stroke-width="1.1" />
<line x1="464.70" y1="220.00" x2="464.70" y2="228.40" stroke="#222" stroke-width="0.77" />
<line x1="462.20" y1="220.00" x2="467.20" y2="220.00" stroke="#222" stroke-width="0.77" />
<line x1="462.20" y1="228.40" x2="467.20" y2="228.40" stroke="#222" stroke-width="0.77" />
<rect x="443.40" y="188.80" width="2.2" height="2.2" fill="none" stroke="#d09050" stroke-width="0.65"/>
<path d="M444.50,186.30 L444.50,181.80 L464.70,181.80 L464.70,206.30" stroke="#222" stroke-width="1.1" fill="none" />
<text x="454.60" y="179.30" font-size="6" text-anchor="middle" fill="#333" >ns</text>
<text x="0" y="0" font-size="7.4" text-anchor="middle" fill="#222" transform="translate(14.60,211.20) rotate(-90)" textLength="65" lengthAdjust="spacingAndGlyphs" dominant-baseline="central">%-HLA-DR<tspan font-size="4.4" dy="-2.2">low</tspan><tspan dy="2.2"> of CD14+</tspan></text>
<text x="62.60" y="297.80" font-size="8.7" text-anchor="middle" fill="#222" >pSTAT3</text>
<text x="0" y="0" font-size="7.6" text-anchor="middle" fill="#222" transform="translate(11.10,344.50) rotate(-90)" textLength="11.3" lengthAdjust="spacingAndGlyphs" dominant-baseline="central">MFI</text>
<line x1="38.90" y1="310.00" x2="38.90" y2="381.50" stroke="#111" stroke-width="1.3" />
<line x1="35.90" y1="381.00" x2="38.90" y2="381.00" stroke="#111" stroke-width="1.3" />
<text x="34.00" y="383.30" font-size="6.3" text-anchor="end" fill="#333" >0</text>
<line x1="35.90" y1="357.50" x2="38.90" y2="357.50" stroke="#111" stroke-width="1.3" />
<text x="34.00" y="359.80" font-size="6.3" text-anchor="end" fill="#333" >500</text>
<line x1="35.90" y1="334.00" x2="38.90" y2="334.00" stroke="#111" stroke-width="1.3" />
<text x="34.00" y="336.30" font-size="6.3" text-anchor="end" fill="#333" >1000</text>
<line x1="35.90" y1="310.50" x2="38.90" y2="310.50" stroke="#111" stroke-width="1.3" />
<text x="34.00" y="312.80" font-size="6.3" text-anchor="end" fill="#333" >1500</text>
<line x1="38.40" y1="381.00" x2="86.50" y2="381.00" stroke="#111" stroke-width="1.3" />
<line x1="48.50" y1="381.00" x2="48.50" y2="384.00" stroke="#111" stroke-width="1.1" />
<line x1="62.50" y1="381.00" x2="62.50" y2="384.00" stroke="#111" stroke-width="1.1" />
<line x1="76.90" y1="381.00" x2="76.90" y2="384.00" stroke="#111" stroke-width="1.1" />
<text x="48.50" y="392.20" font-size="6.5" text-anchor="middle" fill="#333" >HC</text>
<text x="62.50" y="392.20" font-size="6.5" text-anchor="middle" fill="#333" >CR</text>
<text x="76.90" y="392.20" font-size="6.5" text-anchor="middle" fill="#333" >AD</text>
<line x1="43.70" y1="357.50" x2="53.30" y2="357.50" stroke="#1a2a1a" stroke-width="1.1" />
<line x1="48.50" y1="347.00" x2="48.50" y2="363.70" stroke="#1a2a1a" stroke-width="0.77" />
<line x1="45.50" y1="347.00" x2="51.50" y2="347.00" stroke="#1a2a1a" stroke-width="0.77" />
<line x1="45.50" y1="363.70" x2="51.50" y2="363.70" stroke="#1a2a1a" stroke-width="0.77" />
<path d="M46.7,346.2 L50.3,346.2 L48.5,349.1 Z" fill="#1f5a28"/>
<path d="M46.7,352.7 L50.3,352.7 L48.5,355.6 Z" fill="#1f5a28"/>
<path d="M46.7,361.2 L50.3,361.2 L48.5,364.1 Z" fill="#1f5a28"/>
<line x1="57.70" y1="334.20" x2="67.30" y2="334.20" stroke="#2a1a1a" stroke-width="1.1" />
<line x1="62.50" y1="324.90" x2="62.50" y2="353.90" stroke="#2a1a1a" stroke-width="0.77" />
<line x1="59.50" y1="324.90" x2="65.50" y2="324.90" stroke="#2a1a1a" stroke-width="0.77" />
<line x1="59.50" y1="353.90" x2="65.50" y2="353.90" stroke="#2a1a1a" stroke-width="0.77" />
<rect x="61.25" y="323.65" width="2.5" height="2.5" fill="#a8163a"/>
<rect x="58.15" y="329.35" width="2.5" height="2.5" fill="#a8163a"/>
<rect x="64.35" y="329.35" width="2.5" height="2.5" fill="#a8163a"/>
<rect x="64.35" y="333.25" width="2.5" height="2.5" fill="#a8163a"/>
<rect x="61.25" y="338.65" width="2.5" height="2.5" fill="#a8163a"/>
<rect x="57.35" y="352.65" width="2.5" height="2.5" fill="#a8163a"/>
<rect x="64.35" y="351.85" width="2.5" height="2.5" fill="#a8163a"/>
<line x1="71.70" y1="343.00" x2="81.30" y2="343.00" stroke="#333" stroke-width="1.05" />
<line x1="76.50" y1="334.50" x2="76.50" y2="355.50" stroke="#333" stroke-width="0.735" />
<line x1="73.50" y1="334.50" x2="79.50" y2="334.50" stroke="#333" stroke-width="0.735" />
<line x1="73.50" y1="355.50" x2="79.50" y2="355.50" stroke="#333" stroke-width="0.735" />
<circle cx="76.50" cy="329.80" r="0.8" fill="#888"/>
<circle cx="72.90" cy="337.90" r="0.8" fill="#888"/>
<circle cx="79.60" cy="338.40" r="0.8" fill="#888"/>
<circle cx="79.60" cy="346.10" r="0.8" fill="#888"/>
<circle cx="72.90" cy="355.50" r="0.8" fill="#888"/>
<circle cx="79.60" cy="355.50" r="0.8" fill="#888"/>
<circle cx="76.50" cy="358.60" r="0.8" fill="#888"/>
<path d="M47.80,343.00 L47.80,316.60 L61.00,316.60 L61.00,320.50" stroke="#222" stroke-width="1.1" fill="none" />
<text x="54.80" y="317.30" font-size="6.2" text-anchor="middle" fill="#111" font-weight="bold" >*</text>
<path d="M63.30,320.50 L63.30,316.60 L76.50,316.60 L76.50,326.00" stroke="#222" stroke-width="1.1" fill="none" />
<text x="70.30" y="313.80" font-size="6" text-anchor="middle" fill="#333" >ns</text>
<text x="0" y="0" font-size="7.4" text-anchor="middle" fill="#222" transform="translate(105.30,344.80) rotate(-90)" textLength="38.8" lengthAdjust="spacingAndGlyphs" dominant-baseline="central">% Expression</text>
<text x="152.30" y="297.70" font-size="8.6" text-anchor="middle" fill="#222" >IDO1</text>
<line x1="126.30" y1="310.20" x2="126.30" y2="381.80" stroke="#111" stroke-width="1.3" />
<line x1="123.30" y1="381.60" x2="126.30" y2="381.60" stroke="#111" stroke-width="1.3" />
<text x="120.50" y="383.90" font-size="6.3" text-anchor="end" fill="#333" >0</text>
<line x1="123.30" y1="363.88" x2="126.30" y2="363.88" stroke="#111" stroke-width="1.3" />
<text x="120.50" y="366.18" font-size="6.3" text-anchor="end" fill="#333" >5</text>
<line x1="123.30" y1="346.15" x2="126.30" y2="346.15" stroke="#111" stroke-width="1.3" />
<text x="120.50" y="348.45" font-size="6.3" text-anchor="end" fill="#333" >10</text>
<line x1="123.30" y1="328.43" x2="126.30" y2="328.43" stroke="#111" stroke-width="1.3" />
<text x="120.50" y="330.73" font-size="6.3" text-anchor="end" fill="#333" >15</text>
<line x1="123.30" y1="310.70" x2="126.30" y2="310.70" stroke="#111" stroke-width="1.3" />
<text x="120.50" y="313.00" font-size="6.3" text-anchor="end" fill="#333" >20</text>
<line x1="125.80" y1="381.30" x2="176.80" y2="381.30" stroke="#111" stroke-width="1.3" />
<line x1="142.20" y1="381.30" x2="142.20" y2="384.30" stroke="#111" stroke-width="1.1" />
<line x1="164.90" y1="381.30" x2="164.90" y2="384.30" stroke="#111" stroke-width="1.1" />
<text x="142.20" y="392.60" font-size="6.2" text-anchor="middle" fill="#333" >HLA-</text>
<text x="164.90" y="392.60" font-size="6.2" text-anchor="middle" fill="#333" >HLA-</text>
<text x="142.20" y="399.50" font-size="6.2" text-anchor="middle" fill="#333" >DR<tspan font-size="3.8" dy="-2">lo</tspan></text>
<text x="164.90" y="399.50" font-size="6.2" text-anchor="middle" fill="#333" >DR<tspan font-size="3.8" dy="-2">hi</tspan></text>
<circle cx="141.21" cy="324.88" r="1.15" fill="none" stroke="#d09050" stroke-width="0.75"/>
<circle cx="143.29" cy="326.65" r="1.15" fill="none" stroke="#d09050" stroke-width="0.75"/>
<circle cx="141.91" cy="330.20" r="1.15" fill="none" stroke="#d09050" stroke-width="0.75"/>
<rect x="142.36" y="334.37" width="2.30" height="2.30" fill="none" stroke="#d09050" stroke-width="0.75"/>
<rect x="141.78" y="339.09" width="2.30" height="2.30" fill="none" stroke="#d09050" stroke-width="0.75"/>
<rect x="139.53" y="347.32" width="2.30" height="2.30" fill="none" stroke="#d09050" stroke-width="0.75"/>
<rect x="143.49" y="348.88" width="2.30" height="2.30" fill="none" stroke="#d09050" stroke-width="0.75"/>
<circle cx="138.72" cy="350.78" r="1.15" fill="none" stroke="#d09050" stroke-width="0.75"/>
<circle cx="139.66" cy="353.83" r="1.15" fill="none" stroke="#d09050" stroke-width="0.75"/>
<rect x="144.39" y="354.32" width="2.30" height="2.30" fill="none" stroke="#d09050" stroke-width="0.75"/>
<circle cx="142.50" cy="356.39" r="1.15" fill="none" stroke="#d09050" stroke-width="0.75"/>
<circle cx="138.73" cy="356.52" r="1.15" fill="none" stroke="#d09050" stroke-width="0.75"/>
<rect x="145.77" y="358.45" width="2.30" height="2.30" fill="none" stroke="#d09050" stroke-width="0.75"/>
<rect x="134.87" y="359.81" width="2.30" height="2.30" fill="none" stroke="#d09050" stroke-width="0.75"/>
<circle cx="145.01" cy="361.71" r="1.15" fill="none" stroke="#d09050" stroke-width="0.75"/>
<circle cx="140.59" cy="361.99" r="1.15" fill="none" stroke="#d09050" stroke-width="0.75"/>
<rect x="146.51" y="361.51" width="2.30" height="2.30" fill="none" stroke="#d09050" stroke-width="0.75"/>
<circle cx="137.43" cy="363.38" r="1.15" fill="none" stroke="#d09050" stroke-width="0.75"/>
<rect x="141.63" y="362.63" width="2.30" height="2.30" fill="none" stroke="#d09050" stroke-width="0.75"/>
<circle cx="140.07" cy="364.62" r="1.15" fill="none" stroke="#d09050" stroke-width="0.75"/>
<rect x="145.10" y="363.75" width="2.30" height="2.30" fill="none" stroke="#d09050" stroke-width="0.75"/>
<rect x="134.20" y="364.03" width="2.30" height="2.30" fill="none" stroke="#d09050" stroke-width="0.75"/>
<rect x="147.99" y="364.22" width="2.30" height="2.30" fill="none" stroke="#d09050" stroke-width="0.75"/>
<rect x="143.01" y="364.25" width="2.30" height="2.30" fill="none" stroke="#d09050" stroke-width="0.75"/>
<circle cx="137.85" cy="365.82" r="1.15" fill="none" stroke="#d09050" stroke-width="0.75"/>
<rect x="140.90" y="364.89" width="2.30" height="2.30" fill="none" stroke="#d09050" stroke-width="0.75"/>
<circle cx="147.50" cy="366.38" r="1.15" fill="none" stroke="#d09050" stroke-width="0.75"/>
<circle cx="139.95" cy="367.16" r="1.15" fill="none" stroke="#d09050" stroke-width="0.75"/>
<rect x="145.87" y="368.88" width="2.30" height="2.30" fill="none" stroke="#d09050" stroke-width="0.75"/>
<rect x="138.29" y="369.43" width="2.30" height="2.30" fill="none" stroke="#d09050" stroke-width="0.75"/>
<rect x="141.22" y="369.61" width="2.30" height="2.30" fill="none" stroke="#d09050" stroke-width="0.75"/>
<rect x="135.60" y="370.38" width="2.30" height="2.30" fill="none" stroke="#d09050" stroke-width="0.75"/>
<rect x="143.46" y="371.55" width="2.30" height="2.30" fill="none" stroke="#d09050" stroke-width="0.75"/>
<rect x="139.61" y="371.78" width="2.30" height="2.30" fill="none" stroke="#d09050" stroke-width="0.75"/>
<circle cx="147.50" cy="373.59" r="1.15" fill="none" stroke="#d09050" stroke-width="0.75"/>
<circle cx="136.71" cy="374.51" r="1.15" fill="none" stroke="#d09050" stroke-width="0.75"/>
<circle cx="140.15" cy="377.23" r="1.15" fill="none" stroke="#d09050" stroke-width="0.75"/>
<rect x="142.72" y="376.70" width="2.30" height="2.30" fill="none" stroke="#d09050" stroke-width="0.75"/>
<rect x="163.75" y="339.68" width="2.30" height="2.30" fill="none" stroke="#d09050" stroke-width="0.75"/>
<circle cx="162.14" cy="344.38" r="1.15" fill="none" stroke="#d09050" stroke-width="0.75"/>
<rect x="163.37" y="346.77" width="2.30" height="2.30" fill="none" stroke="#d09050" stroke-width="0.75"/>
<circle cx="165.32" cy="355.69" r="1.15" fill="none" stroke="#d09050" stroke-width="0.75"/>
<circle cx="169.09" cy="359.64" r="1.15" fill="none" stroke="#d09050" stroke-width="0.75"/>
<rect x="160.05" y="358.70" width="2.30" height="2.30" fill="none" stroke="#d09050" stroke-width="0.75"/>
<rect x="165.60" y="360.91" width="2.30" height="2.30" fill="none" stroke="#d09050" stroke-width="0.75"/>
<rect x="157.41" y="362.48" width="2.30" height="2.30" fill="none" stroke="#d09050" stroke-width="0.75"/>
<rect x="169.84" y="362.63" width="2.30" height="2.30" fill="none" stroke="#d09050" stroke-width="0.75"/>
<rect x="160.23" y="363.72" width="2.30" height="2.30" fill="none" stroke="#d09050" stroke-width="0.75"/>
<rect x="166.04" y="364.38" width="2.30" height="2.30" fill="none" stroke="#d09050" stroke-width="0.75"/>
<rect x="163.30" y="364.59" width="2.30" height="2.30" fill="none" stroke="#d09050" stroke-width="0.75"/>
<circle cx="169.94" cy="366.16" r="1.15" fill="none" stroke="#d09050" stroke-width="0.75"/>
<circle cx="159.92" cy="367.30" r="1.15" fill="none" stroke="#d09050" stroke-width="0.75"/>
<rect x="167.09" y="369.09" width="2.30" height="2.30" fill="none" stroke="#d09050" stroke-width="0.75"/>
<rect x="158.20" y="369.42" width="2.30" height="2.30" fill="none" stroke="#d09050" stroke-width="0.75"/>
<rect x="162.04" y="370.01" width="2.30" height="2.30" fill="none" stroke="#d09050" stroke-width="0.75"/>
<rect x="169.89" y="370.47" width="2.30" height="2.30" fill="none" stroke="#d09050" stroke-width="0.75"/>
<rect x="164.73" y="370.70" width="2.30" height="2.30" fill="none" stroke="#d09050" stroke-width="0.75"/>
<circle cx="161.09" cy="371.87" r="1.15" fill="none" stroke="#d09050" stroke-width="0.75"/>
<rect x="167.70" y="371.16" width="2.30" height="2.30" fill="none" stroke="#d09050" stroke-width="0.75"/>
<rect x="157.48" y="371.32" width="2.30" height="2.30" fill="none" stroke="#d09050" stroke-width="0.75"/>
<rect x="161.76" y="372.17" width="2.30" height="2.30" fill="none" stroke="#d09050" stroke-width="0.75"/>
<rect x="165.97" y="372.33" width="2.30" height="2.30" fill="none" stroke="#d09050" stroke-width="0.75"/>
<rect x="170.74" y="372.49" width="2.30" height="2.30" fill="none" stroke="#d09050" stroke-width="0.75"/>
<rect x="163.74" y="372.61" width="2.30" height="2.30" fill="none" stroke="#d09050" stroke-width="0.75"/>
<circle cx="160.43" cy="374.27" r="1.15" fill="none" stroke="#d09050" stroke-width="0.75"/>
<rect x="168.48" y="373.21" width="2.30" height="2.30" fill="none" stroke="#d09050" stroke-width="0.75"/>
<rect x="156.77" y="374.39" width="2.30" height="2.30" fill="none" stroke="#d09050" stroke-width="0.75"/>
<rect x="163.90" y="375.21" width="2.30" height="2.30" fill="none" stroke="#d09050" stroke-width="0.75"/>
<circle cx="167.59" cy="378.72" r="1.15" fill="none" stroke="#d09050" stroke-width="0.75"/>
<rect x="161.22" y="378.19" width="2.30" height="2.30" fill="none" stroke="#d09050" stroke-width="0.75"/>
<rect x="164.07" y="378.94" width="2.30" height="2.30" fill="none" stroke="#d09050" stroke-width="0.75"/>
<line x1="134.20" y1="364.58" x2="150.20" y2="364.58" stroke="#222" stroke-width="1.1" />
<line x1="142.20" y1="356.00" x2="142.20" y2="370.40" stroke="#222" stroke-width="0.77" />
<line x1="139.20" y1="356.00" x2="145.20" y2="356.00" stroke="#222" stroke-width="0.77" />
<line x1="139.20" y1="370.40" x2="145.20" y2="370.40" stroke="#222" stroke-width="0.77" />
<line x1="156.90" y1="369.55" x2="172.90" y2="369.55" stroke="#222" stroke-width="1.1" />
<line x1="164.90" y1="362.50" x2="164.90" y2="374.50" stroke="#222" stroke-width="0.77" />
<line x1="161.90" y1="362.50" x2="167.90" y2="362.50" stroke="#222" stroke-width="0.77" />
<line x1="161.90" y1="374.50" x2="167.90" y2="374.50" stroke="#222" stroke-width="0.77" />
<path d="M142.20,323.90 L142.20,317.90 L164.90,317.90 L164.90,339.40" stroke="#222" stroke-width="1.1" fill="none" />
<text x="153.55" y="318.20" font-size="6.2" text-anchor="middle" fill="#111" font-weight="bold" >***</text>
<text x="230.60" y="297.70" font-size="8.6" text-anchor="middle" fill="#222" >ARG1</text>
<line x1="203.30" y1="310.20" x2="203.30" y2="381.80" stroke="#111" stroke-width="1.3" />
<line x1="200.30" y1="381.10" x2="203.30" y2="381.10" stroke="#111" stroke-width="1.3" />
<text x="197.50" y="383.40" font-size="6.3" text-anchor="end" fill="#333" >0</text>
<line x1="200.30" y1="367.02" x2="203.30" y2="367.02" stroke="#111" stroke-width="1.3" />
<text x="197.50" y="369.32" font-size="6.3" text-anchor="end" fill="#333" >5</text>
<line x1="200.30" y1="352.94" x2="203.30" y2="352.94" stroke="#111" stroke-width="1.3" />
<text x="197.50" y="355.24" font-size="6.3" text-anchor="end" fill="#333" >10</text>
<line x1="200.30" y1="338.86" x2="203.30" y2="338.86" stroke="#111" stroke-width="1.3" />
<text x="197.50" y="341.16" font-size="6.3" text-anchor="end" fill="#333" >15</text>
<line x1="200.30" y1="324.78" x2="203.30" y2="324.78" stroke="#111" stroke-width="1.3" />
<text x="197.50" y="327.08" font-size="6.3" text-anchor="end" fill="#333" >20</text>
<line x1="200.30" y1="310.70" x2="203.30" y2="310.70" stroke="#111" stroke-width="1.3" />
<text x="197.50" y="313.00" font-size="6.3" text-anchor="end" fill="#333" >25</text>
<line x1="202.80" y1="381.30" x2="254.20" y2="381.30" stroke="#111" stroke-width="1.3" />
<line x1="219.10" y1="381.30" x2="219.10" y2="384.30" stroke="#111" stroke-width="1.1" />
<line x1="242.30" y1="381.30" x2="242.30" y2="384.30" stroke="#111" stroke-width="1.1" />
<text x="219.10" y="392.60" font-size="6.2" text-anchor="middle" fill="#333" >HLA-</text>
<text x="242.30" y="392.60" font-size="6.2" text-anchor="middle" fill="#333" >HLA-</text>
<text x="219.10" y="399.50" font-size="6.2" text-anchor="middle" fill="#333" >DR<tspan font-size="3.8" dy="-2">lo</tspan></text>
<text x="242.30" y="399.50" font-size="6.2" text-anchor="middle" fill="#333" >DR<tspan font-size="3.8" dy="-2">hi</tspan></text>
<rect x="216.27" y="323.63" width="2.30" height="2.30" fill="none" stroke="#d09050" stroke-width="0.75"/>
<rect x="218.05" y="332.08" width="2.30" height="2.30" fill="none" stroke="#d09050" stroke-width="0.75"/>
<circle cx="218.56" cy="344.49" r="1.15" fill="none" stroke="#d09050" stroke-width="0.75"/>
<rect x="220.51" y="344.75" width="2.30" height="2.30" fill="none" stroke="#d09050" stroke-width="0.75"/>
<circle cx="219.77" cy="350.84" r="1.15" fill="none" stroke="#d09050" stroke-width="0.75"/>
<rect x="221.00" y="351.69" width="2.30" height="2.30" fill="none" stroke="#d09050" stroke-width="0.75"/>
<rect x="215.97" y="353.22" width="2.30" height="2.30" fill="none" stroke="#d09050" stroke-width="0.75"/>
<rect x="215.58" y="356.43" width="2.30" height="2.30" fill="none" stroke="#d09050" stroke-width="0.75"/>
<rect x="220.60" y="357.30" width="2.30" height="2.30" fill="none" stroke="#d09050" stroke-width="0.75"/>
<rect x="212.01" y="358.88" width="2.30" height="2.30" fill="none" stroke="#d09050" stroke-width="0.75"/>
<circle cx="222.83" cy="361.14" r="1.15" fill="none" stroke="#d09050" stroke-width="0.75"/>
<circle cx="215.82" cy="361.96" r="1.15" fill="none" stroke="#d09050" stroke-width="0.75"/>
<rect x="211.05" y="361.93" width="2.30" height="2.30" fill="none" stroke="#d09050" stroke-width="0.75"/>
<circle cx="225.33" cy="363.15" r="1.15" fill="none" stroke="#d09050" stroke-width="0.75"/>
<rect x="217.56" y="362.28" width="2.30" height="2.30" fill="none" stroke="#d09050" stroke-width="0.75"/>
<rect x="221.13" y="362.69" width="2.30" height="2.30" fill="none" stroke="#d09050" stroke-width="0.75"/>
<rect x="213.49" y="363.10" width="2.30" height="2.30" fill="none" stroke="#d09050" stroke-width="0.75"/>
<rect x="215.78" y="363.56" width="2.30" height="2.30" fill="none" stroke="#d09050" stroke-width="0.75"/>
<rect x="223.15" y="363.57" width="2.30" height="2.30" fill="none" stroke="#d09050" stroke-width="0.75"/>
<circle cx="220.37" cy="364.76" r="1.15" fill="none" stroke="#d09050" stroke-width="0.75"/>
<rect x="211.41" y="365.09" width="2.30" height="2.30" fill="none" stroke="#d09050" stroke-width="0.75"/>
<rect x="221.23" y="365.15" width="2.30" height="2.30" fill="none" stroke="#d09050" stroke-width="0.75"/>
<circle cx="218.59" cy="366.33" r="1.15" fill="none" stroke="#d09050" stroke-width="0.75"/>
<circle cx="215.19" cy="367.21" r="1.15" fill="none" stroke="#d09050" stroke-width="0.75"/>
<rect x="224.07" y="366.64" width="2.30" height="2.30" fill="none" stroke="#d09050" stroke-width="0.75"/>
<circle cx="220.26" cy="368.21" r="1.15" fill="none" stroke="#d09050" stroke-width="0.75"/>
<rect x="215.95" y="367.11" width="2.30" height="2.30" fill="none" stroke="#d09050" stroke-width="0.75"/>
<rect x="211.58" y="367.69" width="2.30" height="2.30" fill="none" stroke="#d09050" stroke-width="0.75"/>
<rect x="221.45" y="368.11" width="2.30" height="2.30" fill="none" stroke="#d09050" stroke-width="0.75"/>
<rect x="224.87" y="369.17" width="2.30" height="2.30" fill="none" stroke="#d09050" stroke-width="0.75"/>
<circle cx="216.30" cy="370.86" r="1.15" fill="none" stroke="#d09050" stroke-width="0.75"/>
<rect x="212.99" y="372.30" width="2.30" height="2.30" fill="none" stroke="#d09050" stroke-width="0.75"/>
<circle cx="219.60" cy="374.14" r="1.15" fill="none" stroke="#d09050" stroke-width="0.75"/>
<rect x="215.90" y="373.82" width="2.30" height="2.30" fill="none" stroke="#d09050" stroke-width="0.75"/>
<rect x="222.03" y="374.76" width="2.30" height="2.30" fill="none" stroke="#d09050" stroke-width="0.75"/>
<rect x="217.69" y="376.28" width="2.30" height="2.30" fill="none" stroke="#d09050" stroke-width="0.75"/>
<rect x="213.98" y="376.89" width="2.30" height="2.30" fill="none" stroke="#d09050" stroke-width="0.75"/>
<circle cx="222.66" cy="379.22" r="1.15" fill="none" stroke="#d09050" stroke-width="0.75"/>
<rect x="238.72" y="357.42" width="2.30" height="2.30" fill="none" stroke="#d09050" stroke-width="0.75"/>
<rect x="239.40" y="360.24" width="2.30" height="2.30" fill="none" stroke="#d09050" stroke-width="0.75"/>
<rect x="240.74" y="363.05" width="2.30" height="2.30" fill="none" stroke="#d09050" stroke-width="0.75"/>
<rect x="243.34" y="365.87" width="2.30" height="2.30" fill="none" stroke="#d09050" stroke-width="0.75"/>
<rect x="237.46" y="370.28" width="2.30" height="2.30" fill="none" stroke="#d09050" stroke-width="0.75"/>
<rect x="234.21" y="370.72" width="2.30" height="2.30" fill="none" stroke="#d09050" stroke-width="0.75"/>
<rect x="243.97" y="371.17" width="2.30" height="2.30" fill="none" stroke="#d09050" stroke-width="0.75"/>
<circle cx="248.29" cy="372.74" r="1.15" fill="none" stroke="#d09050" stroke-width="0.75"/>
<rect x="241.33" y="371.87" width="2.30" height="2.30" fill="none" stroke="#d09050" stroke-width="0.75"/>
<rect x="236.12" y="372.01" width="2.30" height="2.30" fill="none" stroke="#d09050" stroke-width="0.75"/>
<circle cx="244.28" cy="374.97" r="1.15" fill="none" stroke="#d09050" stroke-width="0.75"/>
<circle cx="240.90" cy="375.14" r="1.15" fill="none" stroke="#d09050" stroke-width="0.75"/>
<rect x="246.33" y="374.15" width="2.30" height="2.30" fill="none" stroke="#d09050" stroke-width="0.75"/>
<circle cx="235.30" cy="375.30" r="1.15" fill="none" stroke="#d09050" stroke-width="0.75"/>
<circle cx="238.49" cy="375.38" r="1.15" fill="none" stroke="#d09050" stroke-width="0.75"/>
<rect x="241.47" y="374.33" width="2.30" height="2.30" fill="none" stroke="#d09050" stroke-width="0.75"/>
<rect x="248.13" y="375.10" width="2.30" height="2.30" fill="none" stroke="#d09050" stroke-width="0.75"/>
<rect x="244.59" y="375.49" width="2.30" height="2.30" fill="none" stroke="#d09050" stroke-width="0.75"/>
<rect x="235.76" y="375.65" width="2.30" height="2.30" fill="none" stroke="#d09050" stroke-width="0.75"/>
<rect x="238.81" y="375.85" width="2.30" height="2.30" fill="none" stroke="#d09050" stroke-width="0.75"/>
<rect x="242.67" y="375.87" width="2.30" height="2.30" fill="none" stroke="#d09050" stroke-width="0.75"/>
<rect x="246.43" y="376.10" width="2.30" height="2.30" fill="none" stroke="#d09050" stroke-width="0.75"/>
<rect x="240.74" y="376.40" width="2.30" height="2.30" fill="none" stroke="#d09050" stroke-width="0.75"/>
<rect x="234.34" y="376.52" width="2.30" height="2.30" fill="none" stroke="#d09050" stroke-width="0.75"/>
<rect x="236.74" y="376.59" width="2.30" height="2.30" fill="none" stroke="#d09050" stroke-width="0.75"/>
<rect x="248.00" y="376.73" width="2.30" height="2.30" fill="none" stroke="#d09050" stroke-width="0.75"/>
<rect x="245.16" y="376.76" width="2.30" height="2.30" fill="none" stroke="#d09050" stroke-width="0.75"/>
<circle cx="244.74" cy="377.93" r="1.15" fill="none" stroke="#d09050" stroke-width="0.75"/>
<rect x="239.52" y="376.92" width="2.30" height="2.30" fill="none" stroke="#d09050" stroke-width="0.75"/>
<circle cx="243.18" cy="379.16" r="1.15" fill="none" stroke="#d09050" stroke-width="0.75"/>
<rect x="235.44" y="378.12" width="2.30" height="2.30" fill="none" stroke="#d09050" stroke-width="0.75"/>
<rect x="237.81" y="378.28" width="2.30" height="2.30" fill="none" stroke="#d09050" stroke-width="0.75"/>
<rect x="246.82" y="378.66" width="2.30" height="2.30" fill="none" stroke="#d09050" stroke-width="0.75"/>
<rect x="244.35" y="378.90" width="2.30" height="2.30" fill="none" stroke="#d09050" stroke-width="0.75"/>
<rect x="240.21" y="379.01" width="2.30" height="2.30" fill="none" stroke="#d09050" stroke-width="0.75"/>
<rect x="236.58" y="379.15" width="2.30" height="2.30" fill="none" stroke="#d09050" stroke-width="0.75"/>
<line x1="211.10" y1="365.89" x2="227.10" y2="365.89" stroke="#222" stroke-width="1.1" />
<line x1="219.10" y1="360.90" x2="219.10" y2="371.60" stroke="#222" stroke-width="0.77" />
<line x1="216.10" y1="360.90" x2="222.10" y2="360.90" stroke="#222" stroke-width="0.77" />
<line x1="216.10" y1="371.60" x2="222.10" y2="371.60" stroke="#222" stroke-width="0.77" />
<line x1="234.30" y1="376.88" x2="250.30" y2="376.88" stroke="#222" stroke-width="1.1" />
<line x1="242.30" y1="374.00" x2="242.30" y2="378.80" stroke="#222" stroke-width="0.77" />
<line x1="239.30" y1="374.00" x2="245.30" y2="374.00" stroke="#222" stroke-width="0.77" />
<line x1="239.30" y1="378.80" x2="245.30" y2="378.80" stroke="#222" stroke-width="0.77" />
<path d="M219.10,320.30 L219.10,317.90 L242.30,317.90 L242.30,356.00" stroke="#222" stroke-width="1.1" fill="none" />
<text x="230.70" y="318.20" font-size="6.2" text-anchor="middle" fill="#111" font-weight="bold" >****</text>
<text x="304.50" y="297.70" font-size="8.6" text-anchor="middle" fill="#222" >COX2</text>
<line x1="277.00" y1="310.20" x2="277.00" y2="381.80" stroke="#111" stroke-width="1.3" />
<line x1="274.00" y1="381.10" x2="277.00" y2="381.10" stroke="#111" stroke-width="1.3" />
<text x="271.20" y="383.40" font-size="6.3" text-anchor="end" fill="#333" >0</text>
<line x1="274.00" y1="363.50" x2="277.00" y2="363.50" stroke="#111" stroke-width="1.3" />
<text x="271.20" y="365.80" font-size="6.3" text-anchor="end" fill="#333" >2</text>
<line x1="274.00" y1="345.90" x2="277.00" y2="345.90" stroke="#111" stroke-width="1.3" />
<text x="271.20" y="348.20" font-size="6.3" text-anchor="end" fill="#333" >4</text>
<line x1="274.00" y1="328.30" x2="277.00" y2="328.30" stroke="#111" stroke-width="1.3" />
<text x="271.20" y="330.60" font-size="6.3" text-anchor="end" fill="#333" >6</text>
<line x1="274.00" y1="310.70" x2="277.00" y2="310.70" stroke="#111" stroke-width="1.3" />
<text x="271.20" y="313.00" font-size="6.3" text-anchor="end" fill="#333" >8</text>
<line x1="276.50" y1="381.30" x2="331.60" y2="381.30" stroke="#111" stroke-width="1.3" />
<line x1="292.30" y1="381.30" x2="292.30" y2="384.30" stroke="#111" stroke-width="1.1" />
<line x1="316.30" y1="381.30" x2="316.30" y2="384.30" stroke="#111" stroke-width="1.1" />
<text x="292.30" y="392.60" font-size="6.2" text-anchor="middle" fill="#333" >HLA-</text>
<text x="316.30" y="392.60" font-size="6.2" text-anchor="middle" fill="#333" >HLA-</text>
<text x="292.30" y="399.50" font-size="6.2" text-anchor="middle" fill="#333" >DR<tspan font-size="3.8" dy="-2">lo</tspan></text>
<text x="316.30" y="399.50" font-size="6.2" text-anchor="middle" fill="#333" >DR<tspan font-size="3.8" dy="-2">hi</tspan></text>
<rect x="290.88" y="320.11" width="2.30" height="2.30" fill="none" stroke="#d09050" stroke-width="0.75"/>
<rect x="288.81" y="330.67" width="2.30" height="2.30" fill="none" stroke="#d09050" stroke-width="0.75"/>
<rect x="293.64" y="331.55" width="2.30" height="2.30" fill="none" stroke="#d09050" stroke-width="0.75"/>
<circle cx="291.92" cy="333.58" r="1.15" fill="none" stroke="#d09050" stroke-width="0.75"/>
<rect x="292.20" y="339.47" width="2.30" height="2.30" fill="none" stroke="#d09050" stroke-width="0.75"/>
<rect x="293.08" y="342.99" width="2.30" height="2.30" fill="none" stroke="#d09050" stroke-width="0.75"/>
<rect x="294.60" y="346.51" width="2.30" height="2.30" fill="none" stroke="#d09050" stroke-width="0.75"/>
<rect x="288.11" y="348.28" width="2.30" height="2.30" fill="none" stroke="#d09050" stroke-width="0.75"/>
<circle cx="292.39" cy="349.74" r="1.15" fill="none" stroke="#d09050" stroke-width="0.75"/>
<rect x="290.40" y="352.91" width="2.30" height="2.30" fill="none" stroke="#d09050" stroke-width="0.75"/>
<circle cx="291.77" cy="357.78" r="1.15" fill="none" stroke="#d09050" stroke-width="0.75"/>
<circle cx="295.37" cy="358.05" r="1.15" fill="none" stroke="#d09050" stroke-width="0.75"/>
<rect x="287.76" y="357.88" width="2.30" height="2.30" fill="none" stroke="#d09050" stroke-width="0.75"/>
<circle cx="293.74" cy="359.29" r="1.15" fill="none" stroke="#d09050" stroke-width="0.75"/>
<circle cx="290.80" cy="359.39" r="1.15" fill="none" stroke="#d09050" stroke-width="0.75"/>
<rect x="294.42" y="363.07" width="2.30" height="2.30" fill="none" stroke="#d09050" stroke-width="0.75"/>
<rect x="289.63" y="364.00" width="2.30" height="2.30" fill="none" stroke="#d09050" stroke-width="0.75"/>
<rect x="287.21" y="364.38" width="2.30" height="2.30" fill="none" stroke="#d09050" stroke-width="0.75"/>
<rect x="290.74" y="366.72" width="2.30" height="2.30" fill="none" stroke="#d09050" stroke-width="0.75"/>
<rect x="293.43" y="367.30" width="2.30" height="2.30" fill="none" stroke="#d09050" stroke-width="0.75"/>
<rect x="295.83" y="368.59" width="2.30" height="2.30" fill="none" stroke="#d09050" stroke-width="0.75"/>
<circle cx="293.47" cy="371.19" r="1.15" fill="none" stroke="#d09050" stroke-width="0.75"/>
<circle cx="298.63" cy="372.61" r="1.15" fill="none" stroke="#d09050" stroke-width="0.75"/>
<rect x="288.58" y="372.46" width="2.30" height="2.30" fill="none" stroke="#d09050" stroke-width="0.75"/>
<rect x="292.67" y="372.64" width="2.30" height="2.30" fill="none" stroke="#d09050" stroke-width="0.75"/>
<circle cx="286.35" cy="373.94" r="1.15" fill="none" stroke="#d09050" stroke-width="0.75"/>
<circle cx="296.59" cy="374.47" r="1.15" fill="none" stroke="#d09050" stroke-width="0.75"/>
<circle cx="298.68" cy="374.90" r="1.15" fill="none" stroke="#d09050" stroke-width="0.75"/>
<rect x="288.16" y="375.21" width="2.30" height="2.30" fill="none" stroke="#d09050" stroke-width="0.75"/>
<circle cx="294.12" cy="376.70" r="1.15" fill="none" stroke="#d09050" stroke-width="0.75"/>
<rect x="285.81" y="375.62" width="2.30" height="2.30" fill="none" stroke="#d09050" stroke-width="0.75"/>
<circle cx="317.52" cy="337.98" r="1.15" fill="none" stroke="#d09050" stroke-width="0.75"/>
<rect x="312.99" y="346.51" width="2.30" height="2.30" fill="none" stroke="#d09050" stroke-width="0.75"/>
<rect x="315.50" y="347.39" width="2.30" height="2.30" fill="none" stroke="#d09050" stroke-width="0.75"/>
<circle cx="319.83" cy="349.42" r="1.15" fill="none" stroke="#d09050" stroke-width="0.75"/>
<rect x="311.37" y="349.15" width="2.30" height="2.30" fill="none" stroke="#d09050" stroke-width="0.75"/>
<rect x="317.52" y="350.91" width="2.30" height="2.30" fill="none" stroke="#d09050" stroke-width="0.75"/>
<circle cx="316.71" cy="358.92" r="1.15" fill="none" stroke="#d09050" stroke-width="0.75"/>
<circle cx="313.37" cy="360.04" r="1.15" fill="none" stroke="#d09050" stroke-width="0.75"/>
<circle cx="319.38" cy="360.61" r="1.15" fill="none" stroke="#d09050" stroke-width="0.75"/>
<rect x="316.45" y="363.08" width="2.30" height="2.30" fill="none" stroke="#d09050" stroke-width="0.75"/>
<rect x="312.23" y="364.79" width="2.30" height="2.30" fill="none" stroke="#d09050" stroke-width="0.75"/>
<rect x="320.90" y="365.11" width="2.30" height="2.30" fill="none" stroke="#d09050" stroke-width="0.75"/>
<rect x="315.19" y="365.57" width="2.30" height="2.30" fill="none" stroke="#d09050" stroke-width="0.75"/>
<circle cx="310.25" cy="367.80" r="1.15" fill="none" stroke="#d09050" stroke-width="0.75"/>
<circle cx="319.22" cy="368.35" r="1.15" fill="none" stroke="#d09050" stroke-width="0.75"/>
<circle cx="312.66" cy="368.36" r="1.15" fill="none" stroke="#d09050" stroke-width="0.75"/>
<rect x="321.82" y="367.37" width="2.30" height="2.30" fill="none" stroke="#d09050" stroke-width="0.75"/>
<circle cx="316.36" cy="369.92" r="1.15" fill="none" stroke="#d09050" stroke-width="0.75"/>
<rect x="319.81" y="369.01" width="2.30" height="2.30" fill="none" stroke="#d09050" stroke-width="0.75"/>
<rect x="309.26" y="369.84" width="2.30" height="2.30" fill="none" stroke="#d09050" stroke-width="0.75"/>
<circle cx="313.58" cy="371.47" r="1.15" fill="none" stroke="#d09050" stroke-width="0.75"/>
<circle cx="318.62" cy="371.58" r="1.15" fill="none" stroke="#d09050" stroke-width="0.75"/>
<circle cx="322.65" cy="372.24" r="1.15" fill="none" stroke="#d09050" stroke-width="0.75"/>
<rect x="315.31" y="371.15" width="2.30" height="2.30" fill="none" stroke="#d09050" stroke-width="0.75"/>
<rect x="310.69" y="371.79" width="2.30" height="2.30" fill="none" stroke="#d09050" stroke-width="0.75"/>
<circle cx="320.38" cy="373.55" r="1.15" fill="none" stroke="#d09050" stroke-width="0.75"/>
<circle cx="309.41" cy="373.74" r="1.15" fill="none" stroke="#d09050" stroke-width="0.75"/>
<circle cx="314.98" cy="374.31" r="1.15" fill="none" stroke="#d09050" stroke-width="0.75"/>
<circle cx="322.78" cy="375.24" r="1.15" fill="none" stroke="#d09050" stroke-width="0.75"/>
<rect x="319.13" y="376.28" width="2.30" height="2.30" fill="none" stroke="#d09050" stroke-width="0.75"/>
<circle cx="311.91" cy="377.84" r="1.15" fill="none" stroke="#d09050" stroke-width="0.75"/>
<rect x="313.34" y="377.33" width="2.30" height="2.30" fill="none" stroke="#d09050" stroke-width="0.75"/>
<rect x="316.78" y="377.36" width="2.30" height="2.30" fill="none" stroke="#d09050" stroke-width="0.75"/>
<rect x="320.55" y="377.38" width="2.30" height="2.30" fill="none" stroke="#d09050" stroke-width="0.75"/>
<rect x="314.97" y="377.64" width="2.30" height="2.30" fill="none" stroke="#d09050" stroke-width="0.75"/>
<rect x="309.87" y="378.92" width="2.30" height="2.30" fill="none" stroke="#d09050" stroke-width="0.75"/>
<line x1="284.30" y1="362.62" x2="300.30" y2="362.62" stroke="#222" stroke-width="1.1" />
<line x1="292.30" y1="354.90" x2="292.30" y2="370.40" stroke="#222" stroke-width="0.77" />
<line x1="289.30" y1="354.90" x2="295.30" y2="354.90" stroke="#222" stroke-width="0.77" />
<line x1="289.30" y1="370.40" x2="295.30" y2="370.40" stroke="#222" stroke-width="0.77" />
<line x1="308.30" y1="371.86" x2="324.30" y2="371.86" stroke="#222" stroke-width="1.1" />
<line x1="316.30" y1="360.90" x2="316.30" y2="376.40" stroke="#222" stroke-width="0.77" />
<line x1="313.30" y1="360.90" x2="319.30" y2="360.90" stroke="#222" stroke-width="0.77" />
<line x1="313.30" y1="376.40" x2="319.30" y2="376.40" stroke="#222" stroke-width="0.77" />
<path d="M292.30,317.20 L292.30,313.40 L316.30,313.40 L316.30,334.40" stroke="#222" stroke-width="1.1" fill="none" />
<text x="304.30" y="313.70" font-size="6.2" text-anchor="middle" fill="#111" font-weight="bold" >**</text>
<text x="0" y="0" font-size="7.6" text-anchor="middle" fill="#222" transform="translate(354.40,342.60) rotate(-90)" textLength="54.5" lengthAdjust="spacingAndGlyphs" dominant-baseline="central">%T cell proliferation</text>
<text x="401.50" y="297.70" font-size="8.6" text-anchor="middle" fill="#222" textLength="51" lengthAdjust="spacingAndGlyphs" >1:1 Coculture</text>
<line x1="379.50" y1="310.50" x2="379.50" y2="381.80" stroke="#111" stroke-width="1.3" />
<line x1="376.50" y1="381.00" x2="379.50" y2="381.00" stroke="#111" stroke-width="1.3" />
<text x="373.70" y="383.30" font-size="6.3" text-anchor="end" fill="#333" >0</text>
<line x1="376.50" y1="346.00" x2="379.50" y2="346.00" stroke="#111" stroke-width="1.3" />
<text x="373.70" y="348.30" font-size="6.3" text-anchor="end" fill="#333" >50</text>
<line x1="376.50" y1="311.00" x2="379.50" y2="311.00" stroke="#111" stroke-width="1.3" />
<text x="373.70" y="313.30" font-size="6.3" text-anchor="end" fill="#333" >100</text>
<line x1="379.00" y1="381.30" x2="425.70" y2="381.30" stroke="#111" stroke-width="1.3" />
<line x1="388.60" y1="381.30" x2="388.60" y2="384.30" stroke="#111" stroke-width="1.1" />
<line x1="402.50" y1="381.30" x2="402.50" y2="384.30" stroke="#111" stroke-width="1.1" />
<line x1="416.50" y1="381.30" x2="416.50" y2="384.30" stroke="#111" stroke-width="1.1" />
<line x1="388.60" y1="316.50" x2="388.60" y2="363.30" stroke="#222" stroke-width="0.9" />
<line x1="385.60" y1="316.50" x2="391.60" y2="316.50" stroke="#222" stroke-width="1.0" />
<line x1="385.60" y1="363.30" x2="391.60" y2="363.30" stroke="#222" stroke-width="1.0" />
<rect x="384.30" y="326.80" width="8.60" height="28.70" fill="#f5900f"/>
<line x1="384.30" y1="340.50" x2="392.90" y2="340.50" stroke="#5a2a00" stroke-width="1.2" />
<line x1="402.50" y1="313.30" x2="402.50" y2="358.30" stroke="#222" stroke-width="0.9" />
<line x1="399.50" y1="313.30" x2="405.50" y2="313.30" stroke="#222" stroke-width="1.0" />
<line x1="399.50" y1="358.30" x2="405.50" y2="358.30" stroke="#222" stroke-width="1.0" />
<rect x="398.20" y="321.80" width="8.60" height="16.60" fill="#f5900f"/>
<line x1="398.20" y1="324.40" x2="406.80" y2="324.40" stroke="#5a2a00" stroke-width="1.2" />
<line x1="412.10" y1="314.30" x2="420.90" y2="314.30" stroke="#111" stroke-width="1.4" />
<line x1="414.20" y1="312.40" x2="418.80" y2="312.40" stroke="#111" stroke-width="1.1" />
<line x1="414.20" y1="316.60" x2="418.80" y2="316.60" stroke="#111" stroke-width="1.3" />
<line x1="416.50" y1="312.40" x2="416.50" y2="316.60" stroke="#111" stroke-width="1.0" />
<path d="M388.60,312.20 L388.60,307.90 L402.50,307.90 L402.50,312.20" stroke="#222" stroke-width="0.8" fill="none" />
<text x="395.55" y="308.40" font-size="6.2" text-anchor="middle" fill="#111" font-weight="bold" >***</text>
<text x="410.70" y="373.80" font-size="6.3" text-anchor="middle" fill="#444" textLength="26" lengthAdjust="spacingAndGlyphs" ><tspan font-style="italic">P</tspan> &lt; .0001</text>
<circle cx="388.60" cy="389.60" r="2.0" fill="#111"/>
<circle cx="402.50" cy="389.60" r="2.0" fill="#111"/>
<circle cx="416.50" cy="389.60" r="2.0" fill="#111"/>
<circle cx="388.60" cy="399.40" r="1.45" fill="none" stroke="#111" stroke-width="0.95"/>
<circle cx="402.50" cy="399.40" r="2.0" fill="#111"/>
<circle cx="416.50" cy="399.40" r="1.45" fill="none" stroke="#111" stroke-width="0.95"/>
<circle cx="388.60" cy="409.20" r="2.0" fill="#111"/>
<circle cx="402.50" cy="409.20" r="1.45" fill="none" stroke="#111" stroke-width="0.95"/>
<circle cx="416.50" cy="409.20" r="1.45" fill="none" stroke="#111" stroke-width="0.95"/>
<text x="477.50" y="297.70" font-size="8.6" text-anchor="middle" fill="#222" textLength="51" lengthAdjust="spacingAndGlyphs" >1:2 Coculture</text>
<line x1="454.20" y1="310.50" x2="454.20" y2="381.80" stroke="#111" stroke-width="1.3" />
<line x1="451.20" y1="381.00" x2="454.20" y2="381.00" stroke="#111" stroke-width="1.3" />
<text x="448.40" y="383.30" font-size="6.3" text-anchor="end" fill="#333" >0</text>
<line x1="451.20" y1="346.00" x2="454.20" y2="346.00" stroke="#111" stroke-width="1.3" />
<text x="448.40" y="348.30" font-size="6.3" text-anchor="end" fill="#333" >50</text>
<line x1="451.20" y1="311.00" x2="454.20" y2="311.00" stroke="#111" stroke-width="1.3" />
<text x="448.40" y="313.30" font-size="6.3" text-anchor="end" fill="#333" >100</text>
<line x1="453.70" y1="381.30" x2="501.30" y2="381.30" stroke="#111" stroke-width="1.3" />
<line x1="463.20" y1="381.30" x2="463.20" y2="384.30" stroke="#111" stroke-width="1.1" />
<line x1="477.10" y1="381.30" x2="477.10" y2="384.30" stroke="#111" stroke-width="1.1" />
<line x1="491.30" y1="381.30" x2="491.30" y2="384.30" stroke="#111" stroke-width="1.1" />
<line x1="463.20" y1="313.90" x2="463.20" y2="344.00" stroke="#222" stroke-width="0.9" />
<line x1="460.20" y1="313.90" x2="466.20" y2="313.90" stroke="#222" stroke-width="1.0" />
<line x1="460.20" y1="344.00" x2="466.20" y2="344.00" stroke="#222" stroke-width="1.0" />
<rect x="458.90" y="319.70" width="8.60" height="15.00" fill="#f5900f"/>
<line x1="458.90" y1="325.50" x2="467.50" y2="325.50" stroke="#5a2a00" stroke-width="1.2" />
<line x1="477.10" y1="313.30" x2="477.10" y2="341.60" stroke="#222" stroke-width="0.9" />
<line x1="474.10" y1="313.30" x2="480.10" y2="313.30" stroke="#222" stroke-width="1.0" />
<line x1="474.10" y1="341.60" x2="480.10" y2="341.60" stroke="#222" stroke-width="1.0" />
<rect x="472.80" y="316.90" width="8.60" height="14.60" fill="#f5900f"/>
<line x1="472.80" y1="319.10" x2="481.40" y2="319.10" stroke="#5a2a00" stroke-width="1.2" />
<line x1="486.90" y1="315.20" x2="495.70" y2="315.20" stroke="#111" stroke-width="1.4" />
<line x1="489.00" y1="313.30" x2="493.60" y2="313.30" stroke="#111" stroke-width="1.1" />
<line x1="489.00" y1="317.50" x2="493.60" y2="317.50" stroke="#111" stroke-width="1.3" />
<line x1="491.30" y1="313.30" x2="491.30" y2="317.50" stroke="#111" stroke-width="1.0" />
<path d="M463.20,310.00 L463.20,306.80 L477.10,306.80 L477.10,310.00" stroke="#222" stroke-width="0.8" fill="none" />
<text x="470.15" y="307.30" font-size="6.2" text-anchor="middle" fill="#111" font-weight="bold" >**</text>
<text x="486.30" y="373.80" font-size="6.3" text-anchor="middle" fill="#444" textLength="26" lengthAdjust="spacingAndGlyphs" ><tspan font-style="italic">P</tspan> &lt; .0001</text>
<circle cx="463.20" cy="389.60" r="2.0" fill="#111"/>
<circle cx="477.10" cy="389.60" r="2.0" fill="#111"/>
<circle cx="491.30" cy="389.60" r="2.0" fill="#111"/>
<circle cx="463.20" cy="399.40" r="1.45" fill="none" stroke="#111" stroke-width="0.95"/>
<circle cx="477.10" cy="399.40" r="2.0" fill="#111"/>
<circle cx="491.30" cy="399.40" r="1.45" fill="none" stroke="#111" stroke-width="0.95"/>
<circle cx="463.20" cy="409.20" r="2.0" fill="#111"/>
<circle cx="477.10" cy="409.20" r="1.45" fill="none" stroke="#111" stroke-width="0.95"/>
<circle cx="491.30" cy="409.20" r="1.45" fill="none" stroke="#111" stroke-width="0.95"/>
<text x="372.70" y="391.80" font-size="6.3" text-anchor="end" fill="#333" >T cells</text>
<text x="372.70" y="401.50" font-size="6.3" text-anchor="end" fill="#333" >HLA-DR<tspan font-size="3.8" dy="-2">hi</tspan></text>
<text x="372.70" y="411.00" font-size="6.3" text-anchor="end" fill="#333" >HLA-DR<tspan font-size="3.8" dy="-2">lo</tspan></text>
<rect x="0.5" y="0.5" width="519" height="418" fill="none" stroke="#555" stroke-width="1"/>
</g></svg></body></html>
